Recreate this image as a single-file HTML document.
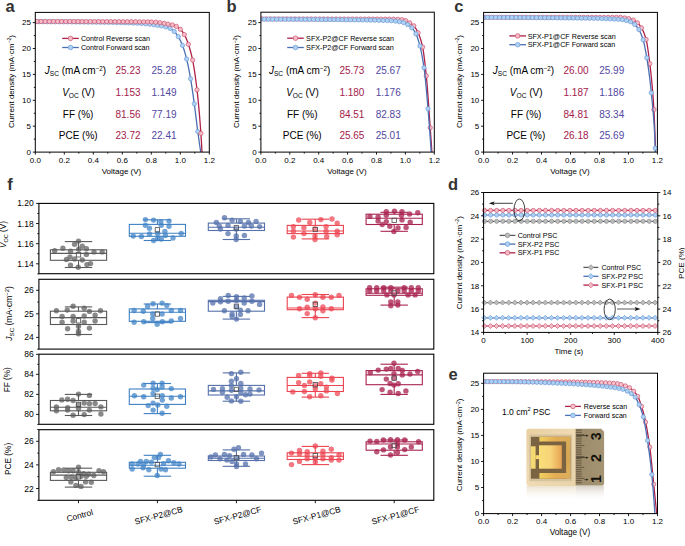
<!DOCTYPE html>
<html><head><meta charset="utf-8"><style>
html,body{margin:0;padding:0;background:#fff;}
svg{display:block;}
text{font-family:"Liberation Sans", sans-serif;}
</style></head><body>
<svg width="685" height="546" viewBox="0 0 685 546">
<rect width="685" height="546" fill="#fff"/>
<clipPath id="cp1"><rect x="35.3" y="12.4" width="174" height="139.7"/></clipPath><g clip-path="url(#cp1)">
<polyline points="35.3,21.7 35.99,21.7 36.69,21.7 37.38,21.7 38.07,21.7 38.76,21.71 39.46,21.71 40.15,21.71 40.84,21.71 41.54,21.71 42.23,21.72 42.92,21.72 43.61,21.72 44.31,21.72 45,21.73 45.69,21.73 46.39,21.73 47.08,21.74 47.77,21.74 48.46,21.74 49.16,21.75 49.85,21.75 50.54,21.75 51.24,21.76 51.93,21.76 52.62,21.77 53.32,21.77 54.01,21.78 54.7,21.78 55.39,21.79 56.09,21.79 56.78,21.8 57.47,21.8 58.17,21.81 58.86,21.81 59.55,21.82 60.24,21.82 60.94,21.83 61.63,21.84 62.32,21.84 63.02,21.85 63.71,21.85 64.4,21.86 65.09,21.87 65.79,21.87 66.48,21.88 67.17,21.89 67.87,21.89 68.56,21.9 69.25,21.91 69.94,21.91 70.64,21.92 71.33,21.93 72.02,21.93 72.72,21.94 73.41,21.95 74.1,21.96 74.79,21.96 75.49,21.97 76.18,21.98 76.87,21.99 77.57,21.99 78.26,22 78.95,22.01 79.64,22.02 80.34,22.03 81.03,22.03 81.72,22.04 82.42,22.05 83.11,22.06 83.8,22.07 84.49,22.07 85.19,22.08 85.88,22.09 86.57,22.1 87.27,22.11 87.96,22.11 88.65,22.12 89.35,22.13 90.04,22.14 90.73,22.15 91.42,22.16 92.12,22.16 92.81,22.17 93.5,22.18 94.2,22.19 94.89,22.2 95.58,22.21 96.27,22.22 96.97,22.22 97.66,22.23 98.35,22.24 99.05,22.25 99.74,22.26 100.43,22.27 101.12,22.28 101.82,22.29 102.51,22.3 103.2,22.31 103.9,22.32 104.59,22.33 105.28,22.34 105.97,22.35 106.67,22.36 107.36,22.38 108.05,22.39 108.75,22.4 109.44,22.41 110.13,22.42 110.82,22.44 111.52,22.45 112.21,22.46 112.9,22.48 113.6,22.49 114.29,22.5 114.98,22.52 115.67,22.53 116.37,22.55 117.06,22.56 117.75,22.58 118.45,22.59 119.14,22.61 119.83,22.62 120.53,22.64 121.22,22.66 121.91,22.67 122.6,22.69 123.3,22.71 123.99,22.73 124.68,22.75 125.38,22.77 126.07,22.78 126.76,22.8 127.45,22.82 128.15,22.84 128.84,22.86 129.53,22.89 130.23,22.91 130.92,22.93 131.61,22.95 132.3,22.98 133,23.01 133.69,23.03 134.38,23.06 135.08,23.09 135.77,23.13 136.46,23.16 137.15,23.19 137.85,23.23 138.54,23.27 139.23,23.31 139.93,23.35 140.62,23.39 141.31,23.44 142,23.48 142.7,23.53 143.39,23.58 144.08,23.63 144.78,23.68 145.47,23.74 146.16,23.8 146.85,23.88 147.55,23.96 148.24,24.04 148.93,24.13 149.63,24.22 150.32,24.32 151.01,24.42 151.71,24.52 152.4,24.61 153.09,24.71 153.78,24.8 154.48,24.89 155.17,24.97 155.86,25.06 156.56,25.16 157.25,25.25 157.94,25.35 158.63,25.45 159.33,25.56 160.02,25.67 160.71,25.78 161.41,25.9 162.1,26.03 162.79,26.15 163.48,26.29 164.18,26.43 164.87,26.59 165.56,26.76 166.26,26.96 166.95,27.17 167.64,27.4 168.33,27.66 169.03,27.95 169.72,28.26 170.41,28.62 171.11,29.03 171.8,29.5 172.49,30.02 173.18,30.59 173.88,31.2 174.57,31.86 175.26,32.59 175.96,33.4 176.65,34.29 177.34,35.26 178.03,36.29 178.73,37.39 179.42,38.61 180.11,39.95 180.81,41.4 181.5,42.96 182.19,44.62 182.88,46.41 183.58,48.39 184.27,50.55 184.96,52.88 185.66,55.37 186.35,58.01 187.04,60.81 187.74,63.87 188.43,67.17 189.12,70.69 189.81,74.39 190.51,78.27 191.2,82.37 191.89,86.81 192.59,91.5 193.28,96.39 193.97,101.4 194.66,106.52 195.36,111.97 196.05,117.63 196.74,123.31 197.44,128.82 198.13,134.04 198.82,139.08 199.51,144 200.21,148.78 200.9,153.43" fill="none" stroke="#4a6fb2" stroke-width="1.3" stroke-linejoin="round"/>
<circle cx="35" cy="21.7" r="2.15" fill="#aed2f4" stroke="#6f9bd6" stroke-width="0.7"/>
<circle cx="39.09" cy="21.71" r="2.15" fill="#aed2f4" stroke="#6f9bd6" stroke-width="0.7"/>
<circle cx="43.19" cy="21.72" r="2.15" fill="#aed2f4" stroke="#6f9bd6" stroke-width="0.7"/>
<circle cx="47.28" cy="21.74" r="2.15" fill="#aed2f4" stroke="#6f9bd6" stroke-width="0.7"/>
<circle cx="51.38" cy="21.76" r="2.15" fill="#aed2f4" stroke="#6f9bd6" stroke-width="0.7"/>
<circle cx="55.47" cy="21.79" r="2.15" fill="#aed2f4" stroke="#6f9bd6" stroke-width="0.7"/>
<circle cx="59.57" cy="21.82" r="2.15" fill="#aed2f4" stroke="#6f9bd6" stroke-width="0.7"/>
<circle cx="63.66" cy="21.85" r="2.15" fill="#aed2f4" stroke="#6f9bd6" stroke-width="0.7"/>
<circle cx="67.76" cy="21.89" r="2.15" fill="#aed2f4" stroke="#6f9bd6" stroke-width="0.7"/>
<circle cx="71.85" cy="21.93" r="2.15" fill="#aed2f4" stroke="#6f9bd6" stroke-width="0.7"/>
<circle cx="75.95" cy="21.98" r="2.15" fill="#aed2f4" stroke="#6f9bd6" stroke-width="0.7"/>
<circle cx="80.04" cy="22.02" r="2.15" fill="#aed2f4" stroke="#6f9bd6" stroke-width="0.7"/>
<circle cx="84.14" cy="22.07" r="2.15" fill="#aed2f4" stroke="#6f9bd6" stroke-width="0.7"/>
<circle cx="88.23" cy="22.12" r="2.15" fill="#aed2f4" stroke="#6f9bd6" stroke-width="0.7"/>
<circle cx="92.33" cy="22.17" r="2.15" fill="#aed2f4" stroke="#6f9bd6" stroke-width="0.7"/>
<circle cx="96.42" cy="22.22" r="2.15" fill="#aed2f4" stroke="#6f9bd6" stroke-width="0.7"/>
<circle cx="100.52" cy="22.27" r="2.15" fill="#aed2f4" stroke="#6f9bd6" stroke-width="0.7"/>
<circle cx="104.61" cy="22.33" r="2.15" fill="#aed2f4" stroke="#6f9bd6" stroke-width="0.7"/>
<circle cx="108.71" cy="22.4" r="2.15" fill="#aed2f4" stroke="#6f9bd6" stroke-width="0.7"/>
<circle cx="112.8" cy="22.47" r="2.15" fill="#aed2f4" stroke="#6f9bd6" stroke-width="0.7"/>
<circle cx="116.9" cy="22.56" r="2.15" fill="#aed2f4" stroke="#6f9bd6" stroke-width="0.7"/>
<circle cx="120.99" cy="22.65" r="2.15" fill="#aed2f4" stroke="#6f9bd6" stroke-width="0.7"/>
<circle cx="125.09" cy="22.76" r="2.15" fill="#aed2f4" stroke="#6f9bd6" stroke-width="0.7"/>
<circle cx="129.18" cy="22.88" r="2.15" fill="#aed2f4" stroke="#6f9bd6" stroke-width="0.7"/>
<circle cx="133.28" cy="23.02" r="2.15" fill="#aed2f4" stroke="#6f9bd6" stroke-width="0.7"/>
<circle cx="137.37" cy="23.21" r="2.15" fill="#aed2f4" stroke="#6f9bd6" stroke-width="0.7"/>
<circle cx="141.47" cy="23.45" r="2.15" fill="#aed2f4" stroke="#6f9bd6" stroke-width="0.7"/>
<circle cx="145.56" cy="23.75" r="2.15" fill="#aed2f4" stroke="#6f9bd6" stroke-width="0.7"/>
<circle cx="149.66" cy="24.23" r="2.15" fill="#aed2f4" stroke="#6f9bd6" stroke-width="0.7"/>
<circle cx="153.8" cy="24.8" r="2.15" fill="#aed2f4" stroke="#6f9bd6" stroke-width="0.7"/>
<circle cx="157.6" cy="25.3" r="2.15" fill="#aed2f4" stroke="#6f9bd6" stroke-width="0.7"/>
<circle cx="161.4" cy="25.9" r="2.15" fill="#aed2f4" stroke="#6f9bd6" stroke-width="0.7"/>
<circle cx="165.7" cy="26.8" r="2.15" fill="#aed2f4" stroke="#6f9bd6" stroke-width="0.7"/>
<circle cx="170" cy="28.4" r="2.15" fill="#aed2f4" stroke="#6f9bd6" stroke-width="0.7"/>
<circle cx="174.2" cy="31.5" r="2.15" fill="#aed2f4" stroke="#6f9bd6" stroke-width="0.7"/>
<circle cx="178.3" cy="36.7" r="2.15" fill="#aed2f4" stroke="#6f9bd6" stroke-width="0.7"/>
<circle cx="182.5" cy="45.4" r="2.15" fill="#aed2f4" stroke="#6f9bd6" stroke-width="0.7"/>
<circle cx="186.6" cy="59" r="2.15" fill="#aed2f4" stroke="#6f9bd6" stroke-width="0.7"/>
<circle cx="190.6" cy="78.8" r="2.15" fill="#aed2f4" stroke="#6f9bd6" stroke-width="0.7"/>
<circle cx="194.3" cy="103.8" r="2.15" fill="#aed2f4" stroke="#6f9bd6" stroke-width="0.7"/>
<circle cx="197.8" cy="131.6" r="2.15" fill="#aed2f4" stroke="#6f9bd6" stroke-width="0.7"/>
<polyline points="35.3,21.5 36,21.5 36.7,21.5 37.39,21.5 38.09,21.5 38.79,21.5 39.49,21.5 40.19,21.5 40.88,21.5 41.58,21.5 42.28,21.5 42.98,21.5 43.67,21.5 44.37,21.5 45.07,21.5 45.77,21.5 46.47,21.5 47.16,21.5 47.86,21.51 48.56,21.51 49.26,21.51 49.96,21.51 50.65,21.51 51.35,21.51 52.05,21.51 52.75,21.51 53.45,21.51 54.14,21.51 54.84,21.51 55.54,21.51 56.24,21.51 56.94,21.51 57.63,21.52 58.33,21.52 59.03,21.52 59.73,21.52 60.42,21.52 61.12,21.52 61.82,21.52 62.52,21.52 63.22,21.52 63.91,21.52 64.61,21.53 65.31,21.53 66.01,21.53 66.71,21.53 67.4,21.53 68.1,21.53 68.8,21.53 69.5,21.53 70.2,21.53 70.89,21.54 71.59,21.54 72.29,21.54 72.99,21.54 73.68,21.54 74.38,21.54 75.08,21.54 75.78,21.55 76.48,21.55 77.17,21.55 77.87,21.55 78.57,21.55 79.27,21.55 79.97,21.55 80.66,21.56 81.36,21.56 82.06,21.56 82.76,21.56 83.46,21.56 84.15,21.56 84.85,21.56 85.55,21.57 86.25,21.57 86.95,21.57 87.64,21.57 88.34,21.57 89.04,21.57 89.74,21.58 90.43,21.58 91.13,21.58 91.83,21.58 92.53,21.58 93.23,21.58 93.92,21.59 94.62,21.59 95.32,21.59 96.02,21.59 96.72,21.59 97.41,21.59 98.11,21.6 98.81,21.6 99.51,21.6 100.21,21.6 100.9,21.6 101.6,21.6 102.3,21.61 103,21.61 103.69,21.61 104.39,21.61 105.09,21.61 105.79,21.62 106.49,21.62 107.18,21.62 107.88,21.62 108.58,21.62 109.28,21.63 109.98,21.63 110.67,21.63 111.37,21.63 112.07,21.64 112.77,21.64 113.47,21.64 114.16,21.64 114.86,21.65 115.56,21.65 116.26,21.65 116.96,21.66 117.65,21.66 118.35,21.66 119.05,21.66 119.75,21.67 120.44,21.67 121.14,21.67 121.84,21.68 122.54,21.68 123.24,21.69 123.93,21.69 124.63,21.69 125.33,21.7 126.03,21.7 126.73,21.7 127.42,21.71 128.12,21.71 128.82,21.72 129.52,21.72 130.22,21.73 130.91,21.73 131.61,21.74 132.31,21.74 133.01,21.74 133.71,21.75 134.4,21.76 135.1,21.76 135.8,21.77 136.5,21.77 137.19,21.78 137.89,21.78 138.59,21.79 139.29,21.79 139.99,21.8 140.68,21.81 141.38,21.81 142.08,21.82 142.78,21.83 143.48,21.84 144.17,21.85 144.87,21.86 145.57,21.87 146.27,21.88 146.97,21.9 147.66,21.91 148.36,21.93 149.06,21.94 149.76,21.96 150.45,21.97 151.15,21.99 151.85,22.01 152.55,22.04 153.25,22.07 153.94,22.1 154.64,22.14 155.34,22.18 156.04,22.22 156.74,22.29 157.43,22.36 158.13,22.45 158.83,22.54 159.53,22.63 160.23,22.73 160.92,22.84 161.62,22.95 162.32,23.07 163.02,23.19 163.72,23.31 164.41,23.44 165.11,23.56 165.81,23.69 166.51,23.82 167.2,23.95 167.9,24.08 168.6,24.21 169.3,24.32 170,24.44 170.69,24.56 171.39,24.7 172.09,24.85 172.79,25.03 173.49,25.23 174.18,25.46 174.88,25.73 175.58,26.02 176.28,26.34 176.98,26.71 177.67,27.14 178.37,27.64 179.07,28.2 179.77,28.81 180.46,29.46 181.16,30.19 181.86,31.01 182.56,31.92 183.26,32.93 183.95,34.02 184.65,35.22 185.35,36.59 186.05,38.12 186.75,39.81 187.44,41.62 188.14,43.56 188.84,45.61 189.54,47.82 190.24,50.23 190.93,52.85 191.63,55.7 192.33,58.82 193.03,62.25 193.73,66.13 194.42,70.44 195.12,75.17 195.82,80.3 196.52,85.79 197.21,91.65 197.91,98.08 198.61,105.18 199.31,112.97 200.01,121.47 200.7,130.68 201.4,141.34 202.1,153.92" fill="none" stroke="#ae2149" stroke-width="1.3" stroke-linejoin="round"/>
<circle cx="32.95" cy="21.5" r="2.15" fill="#f6bcc6" stroke="#cc5572" stroke-width="0.7"/>
<circle cx="37.05" cy="21.5" r="2.15" fill="#f6bcc6" stroke="#cc5572" stroke-width="0.7"/>
<circle cx="41.15" cy="21.5" r="2.15" fill="#f6bcc6" stroke="#cc5572" stroke-width="0.7"/>
<circle cx="45.25" cy="21.5" r="2.15" fill="#f6bcc6" stroke="#cc5572" stroke-width="0.7"/>
<circle cx="49.35" cy="21.51" r="2.15" fill="#f6bcc6" stroke="#cc5572" stroke-width="0.7"/>
<circle cx="53.45" cy="21.51" r="2.15" fill="#f6bcc6" stroke="#cc5572" stroke-width="0.7"/>
<circle cx="57.55" cy="21.51" r="2.15" fill="#f6bcc6" stroke="#cc5572" stroke-width="0.7"/>
<circle cx="61.65" cy="21.52" r="2.15" fill="#f6bcc6" stroke="#cc5572" stroke-width="0.7"/>
<circle cx="65.75" cy="21.53" r="2.15" fill="#f6bcc6" stroke="#cc5572" stroke-width="0.7"/>
<circle cx="69.85" cy="21.53" r="2.15" fill="#f6bcc6" stroke="#cc5572" stroke-width="0.7"/>
<circle cx="73.95" cy="21.54" r="2.15" fill="#f6bcc6" stroke="#cc5572" stroke-width="0.7"/>
<circle cx="78.05" cy="21.55" r="2.15" fill="#f6bcc6" stroke="#cc5572" stroke-width="0.7"/>
<circle cx="82.15" cy="21.56" r="2.15" fill="#f6bcc6" stroke="#cc5572" stroke-width="0.7"/>
<circle cx="86.25" cy="21.57" r="2.15" fill="#f6bcc6" stroke="#cc5572" stroke-width="0.7"/>
<circle cx="90.35" cy="21.58" r="2.15" fill="#f6bcc6" stroke="#cc5572" stroke-width="0.7"/>
<circle cx="94.45" cy="21.59" r="2.15" fill="#f6bcc6" stroke="#cc5572" stroke-width="0.7"/>
<circle cx="98.55" cy="21.6" r="2.15" fill="#f6bcc6" stroke="#cc5572" stroke-width="0.7"/>
<circle cx="102.65" cy="21.61" r="2.15" fill="#f6bcc6" stroke="#cc5572" stroke-width="0.7"/>
<circle cx="106.75" cy="21.62" r="2.15" fill="#f6bcc6" stroke="#cc5572" stroke-width="0.7"/>
<circle cx="110.85" cy="21.63" r="2.15" fill="#f6bcc6" stroke="#cc5572" stroke-width="0.7"/>
<circle cx="114.95" cy="21.65" r="2.15" fill="#f6bcc6" stroke="#cc5572" stroke-width="0.7"/>
<circle cx="119.05" cy="21.66" r="2.15" fill="#f6bcc6" stroke="#cc5572" stroke-width="0.7"/>
<circle cx="123.15" cy="21.68" r="2.15" fill="#f6bcc6" stroke="#cc5572" stroke-width="0.7"/>
<circle cx="127.25" cy="21.71" r="2.15" fill="#f6bcc6" stroke="#cc5572" stroke-width="0.7"/>
<circle cx="131.35" cy="21.73" r="2.15" fill="#f6bcc6" stroke="#cc5572" stroke-width="0.7"/>
<circle cx="135.45" cy="21.76" r="2.15" fill="#f6bcc6" stroke="#cc5572" stroke-width="0.7"/>
<circle cx="139.55" cy="21.8" r="2.15" fill="#f6bcc6" stroke="#cc5572" stroke-width="0.7"/>
<circle cx="143.65" cy="21.84" r="2.15" fill="#f6bcc6" stroke="#cc5572" stroke-width="0.7"/>
<circle cx="147.75" cy="21.91" r="2.15" fill="#f6bcc6" stroke="#cc5572" stroke-width="0.7"/>
<circle cx="151.4" cy="22" r="2.15" fill="#f6bcc6" stroke="#cc5572" stroke-width="0.7"/>
<circle cx="155.7" cy="22.2" r="2.15" fill="#f6bcc6" stroke="#cc5572" stroke-width="0.7"/>
<circle cx="160" cy="22.7" r="2.15" fill="#f6bcc6" stroke="#cc5572" stroke-width="0.7"/>
<circle cx="164.2" cy="23.4" r="2.15" fill="#f6bcc6" stroke="#cc5572" stroke-width="0.7"/>
<circle cx="168" cy="24.1" r="2.15" fill="#f6bcc6" stroke="#cc5572" stroke-width="0.7"/>
<circle cx="172.3" cy="24.9" r="2.15" fill="#f6bcc6" stroke="#cc5572" stroke-width="0.7"/>
<circle cx="176.4" cy="26.4" r="2.15" fill="#f6bcc6" stroke="#cc5572" stroke-width="0.7"/>
<circle cx="180.4" cy="29.4" r="2.15" fill="#f6bcc6" stroke="#cc5572" stroke-width="0.7"/>
<circle cx="184.3" cy="34.6" r="2.15" fill="#f6bcc6" stroke="#cc5572" stroke-width="0.7"/>
<circle cx="188.4" cy="44.3" r="2.15" fill="#f6bcc6" stroke="#cc5572" stroke-width="0.7"/>
<circle cx="192.6" cy="60.1" r="2.15" fill="#f6bcc6" stroke="#cc5572" stroke-width="0.7"/>
<circle cx="197" cy="89.8" r="2.15" fill="#f6bcc6" stroke="#cc5572" stroke-width="0.7"/>
<circle cx="200.9" cy="133.4" r="2.15" fill="#f6bcc6" stroke="#cc5572" stroke-width="0.7"/>
</g>
<rect x="35.3" y="12.4" width="174" height="139.7" fill="none" stroke="#000" stroke-width="1"/>
<line x1="35.3" y1="152.1" x2="35.3" y2="154.6" stroke="#000" stroke-width="0.9"/>
<text x="35.3" y="162.9" font-size="8" text-anchor="middle" fill="#000" font-weight="normal">0.0</text>
<line x1="49.8" y1="152.1" x2="49.8" y2="153.6" stroke="#000" stroke-width="0.9"/>
<line x1="64.3" y1="152.1" x2="64.3" y2="154.6" stroke="#000" stroke-width="0.9"/>
<text x="64.3" y="162.9" font-size="8" text-anchor="middle" fill="#000" font-weight="normal">0.2</text>
<line x1="78.8" y1="152.1" x2="78.8" y2="153.6" stroke="#000" stroke-width="0.9"/>
<line x1="93.3" y1="152.1" x2="93.3" y2="154.6" stroke="#000" stroke-width="0.9"/>
<text x="93.3" y="162.9" font-size="8" text-anchor="middle" fill="#000" font-weight="normal">0.4</text>
<line x1="107.8" y1="152.1" x2="107.8" y2="153.6" stroke="#000" stroke-width="0.9"/>
<line x1="122.3" y1="152.1" x2="122.3" y2="154.6" stroke="#000" stroke-width="0.9"/>
<text x="122.3" y="162.9" font-size="8" text-anchor="middle" fill="#000" font-weight="normal">0.6</text>
<line x1="136.8" y1="152.1" x2="136.8" y2="153.6" stroke="#000" stroke-width="0.9"/>
<line x1="151.3" y1="152.1" x2="151.3" y2="154.6" stroke="#000" stroke-width="0.9"/>
<text x="151.3" y="162.9" font-size="8" text-anchor="middle" fill="#000" font-weight="normal">0.8</text>
<line x1="165.8" y1="152.1" x2="165.8" y2="153.6" stroke="#000" stroke-width="0.9"/>
<line x1="180.3" y1="152.1" x2="180.3" y2="154.6" stroke="#000" stroke-width="0.9"/>
<text x="180.3" y="162.9" font-size="8" text-anchor="middle" fill="#000" font-weight="normal">1.0</text>
<line x1="194.8" y1="152.1" x2="194.8" y2="153.6" stroke="#000" stroke-width="0.9"/>
<line x1="209.3" y1="152.1" x2="209.3" y2="154.6" stroke="#000" stroke-width="0.9"/>
<text x="209.3" y="162.9" font-size="8" text-anchor="middle" fill="#000" font-weight="normal">1.2</text>
<line x1="32.8" y1="152.1" x2="35.3" y2="152.1" stroke="#000" stroke-width="0.9"/>
<text x="31" y="154.95" font-size="8" text-anchor="end" fill="#000" font-weight="normal">0</text>
<line x1="33.8" y1="139.15" x2="35.3" y2="139.15" stroke="#000" stroke-width="0.9"/>
<line x1="32.8" y1="126.2" x2="35.3" y2="126.2" stroke="#000" stroke-width="0.9"/>
<text x="31" y="129.05" font-size="8" text-anchor="end" fill="#000" font-weight="normal">5</text>
<line x1="33.8" y1="113.25" x2="35.3" y2="113.25" stroke="#000" stroke-width="0.9"/>
<line x1="32.8" y1="100.3" x2="35.3" y2="100.3" stroke="#000" stroke-width="0.9"/>
<text x="31" y="103.15" font-size="8" text-anchor="end" fill="#000" font-weight="normal">10</text>
<line x1="33.8" y1="87.35" x2="35.3" y2="87.35" stroke="#000" stroke-width="0.9"/>
<line x1="32.8" y1="74.4" x2="35.3" y2="74.4" stroke="#000" stroke-width="0.9"/>
<text x="31" y="77.25" font-size="8" text-anchor="end" fill="#000" font-weight="normal">15</text>
<line x1="33.8" y1="61.45" x2="35.3" y2="61.45" stroke="#000" stroke-width="0.9"/>
<line x1="32.8" y1="48.5" x2="35.3" y2="48.5" stroke="#000" stroke-width="0.9"/>
<text x="31" y="51.35" font-size="8" text-anchor="end" fill="#000" font-weight="normal">20</text>
<line x1="33.8" y1="35.55" x2="35.3" y2="35.55" stroke="#000" stroke-width="0.9"/>
<line x1="32.8" y1="22.6" x2="35.3" y2="22.6" stroke="#000" stroke-width="0.9"/>
<text x="31" y="25.45" font-size="8" text-anchor="end" fill="#000" font-weight="normal">25</text>
<text x="121.5" y="174.4" font-size="8" text-anchor="middle" fill="#000" font-weight="normal">Voltage (V)</text>
<text x="13.8" y="81.5" font-size="8" text-anchor="middle" transform="rotate(-90 13.8 81.5)">Current density (mA&#183;cm<tspan dy="-2.6" font-size="5.2">&#8722;2</tspan><tspan dy="2.6">)</tspan></text>
<line x1="62.2" y1="38.4" x2="78.8" y2="38.4" stroke="#ae2149" stroke-width="1.3"/>
<circle cx="70.5" cy="38.4" r="2.3" fill="#f6bcc6" stroke="#cc5572" stroke-width="0.7"/>
<text x="80.9" y="41" font-size="7.2" text-anchor="start" fill="#000" font-weight="normal">Control Reverse scan</text>
<line x1="62.2" y1="47.5" x2="78.8" y2="47.5" stroke="#4a6fb2" stroke-width="1.3"/>
<circle cx="70.5" cy="47.5" r="2.3" fill="#aed2f4" stroke="#6f9bd6" stroke-width="0.7"/>
<text x="80.9" y="50.1" font-size="7.2" text-anchor="start" fill="#000" font-weight="normal">Control Forward scan</text>
<text x="75.5" y="74.3" font-size="10" text-anchor="middle" fill="#000" font-weight="normal"><tspan font-style="italic">J</tspan><tspan font-size="6.6" dy="1.8">SC</tspan><tspan dy="-1.8"> (mA cm</tspan><tspan font-size="6.3" dy="-3.6">&#8722;2</tspan><tspan dy="3.6">)</tspan></text>
<text x="115.5" y="74.3" font-size="10" text-anchor="start" fill="#a3214b" font-weight="normal">25.23</text>
<text x="151.5" y="74.3" font-size="10" text-anchor="start" fill="#5248a0" font-weight="normal">25.28</text>
<text x="78.5" y="96" font-size="10" text-anchor="middle" fill="#000" font-weight="normal"><tspan font-style="italic">V</tspan><tspan font-size="6.6" dy="1.8">OC</tspan><tspan dy="-1.8"> (V)</tspan></text>
<text x="115.5" y="96" font-size="10" text-anchor="start" fill="#a3214b" font-weight="normal">1.153</text>
<text x="151.5" y="96" font-size="10" text-anchor="start" fill="#5248a0" font-weight="normal">1.149</text>
<text x="78.1" y="117.6" font-size="10" text-anchor="middle" fill="#000" font-weight="normal">FF (%)</text>
<text x="115.5" y="117.6" font-size="10" text-anchor="start" fill="#a3214b" font-weight="normal">81.56</text>
<text x="151.5" y="117.6" font-size="10" text-anchor="start" fill="#5248a0" font-weight="normal">77.19</text>
<text x="78.2" y="139" font-size="10" text-anchor="middle" fill="#000" font-weight="normal">PCE (%)</text>
<text x="115.5" y="139" font-size="10" text-anchor="start" fill="#a3214b" font-weight="normal">23.72</text>
<text x="151.5" y="139" font-size="10" text-anchor="start" fill="#5248a0" font-weight="normal">22.41</text>
<text x="5.6" y="11.8" font-size="16.5" text-anchor="start" fill="#333333" font-weight="bold">a</text>
<clipPath id="cp2"><rect x="260.9" y="12.2" width="173.4" height="139.9"/></clipPath><g clip-path="url(#cp2)">
<polyline points="260.9,18.9 261.62,18.9 262.33,18.9 263.05,18.9 263.76,18.9 264.48,18.9 265.19,18.9 265.91,18.91 266.62,18.91 267.34,18.91 268.05,18.91 268.77,18.91 269.49,18.91 270.2,18.91 270.92,18.91 271.63,18.91 272.35,18.91 273.06,18.91 273.78,18.92 274.49,18.92 275.21,18.92 275.93,18.92 276.64,18.92 277.36,18.92 278.07,18.92 278.79,18.92 279.5,18.92 280.22,18.92 280.93,18.92 281.65,18.93 282.36,18.93 283.08,18.93 283.8,18.93 284.51,18.93 285.23,18.93 285.94,18.93 286.66,18.93 287.37,18.93 288.09,18.93 288.8,18.94 289.52,18.94 290.23,18.94 290.95,18.94 291.67,18.94 292.38,18.94 293.1,18.94 293.81,18.94 294.53,18.94 295.24,18.94 295.96,18.95 296.67,18.95 297.39,18.95 298.11,18.95 298.82,18.95 299.54,18.95 300.25,18.95 300.97,18.95 301.68,18.95 302.4,18.96 303.11,18.96 303.83,18.96 304.54,18.96 305.26,18.96 305.98,18.96 306.69,18.96 307.41,18.96 308.12,18.96 308.84,18.97 309.55,18.97 310.27,18.97 310.98,18.97 311.7,18.97 312.41,18.97 313.13,18.97 313.85,18.97 314.56,18.97 315.28,18.98 315.99,18.98 316.71,18.98 317.42,18.98 318.14,18.98 318.85,18.98 319.57,18.98 320.28,18.98 321,18.98 321.72,18.99 322.43,18.99 323.15,18.99 323.86,18.99 324.58,18.99 325.29,18.99 326.01,18.99 326.72,18.99 327.44,19 328.16,19 328.87,19 329.59,19 330.3,19 331.02,19 331.73,19 332.45,19 333.16,19.01 333.88,19.01 334.59,19.01 335.31,19.01 336.03,19.01 336.74,19.01 337.46,19.01 338.17,19.01 338.89,19.01 339.6,19.01 340.32,19.02 341.03,19.02 341.75,19.02 342.46,19.02 343.18,19.02 343.9,19.02 344.61,19.02 345.33,19.02 346.04,19.02 346.76,19.02 347.47,19.03 348.19,19.03 348.9,19.03 349.62,19.03 350.34,19.03 351.05,19.03 351.77,19.03 352.48,19.03 353.2,19.03 353.91,19.03 354.63,19.04 355.34,19.04 356.06,19.04 356.77,19.04 357.49,19.04 358.21,19.04 358.92,19.04 359.64,19.04 360.35,19.05 361.07,19.05 361.78,19.05 362.5,19.05 363.21,19.05 363.93,19.05 364.64,19.05 365.36,19.06 366.08,19.06 366.79,19.06 367.51,19.06 368.22,19.06 368.94,19.07 369.65,19.07 370.37,19.07 371.08,19.07 371.8,19.07 372.52,19.07 373.23,19.08 373.95,19.08 374.66,19.08 375.38,19.08 376.09,19.09 376.81,19.09 377.52,19.09 378.24,19.09 378.95,19.1 379.67,19.1 380.39,19.1 381.1,19.1 381.82,19.11 382.53,19.11 383.25,19.11 383.96,19.12 384.68,19.12 385.39,19.13 386.11,19.13 386.82,19.14 387.54,19.14 388.26,19.15 388.97,19.16 389.69,19.16 390.4,19.17 391.12,19.18 391.83,19.19 392.55,19.2 393.26,19.21 393.98,19.22 394.69,19.23 395.41,19.25 396.13,19.26 396.84,19.28 397.56,19.29 398.27,19.32 398.99,19.36 399.7,19.43 400.42,19.51 401.13,19.61 401.85,19.71 402.57,19.83 403.28,20 404,20.19 404.71,20.4 405.43,20.64 406.14,20.9 406.86,21.22 407.57,21.58 408.29,21.97 409,22.38 409.72,22.81 410.44,23.24 411.15,23.69 411.87,24.17 412.58,24.71 413.3,25.32 414.01,26.02 414.73,26.88 415.44,27.88 416.16,29.04 416.87,30.32 417.59,31.73 418.31,33.25 419.02,34.92 419.74,36.79 420.45,38.91 421.17,41.3 421.88,44.02 422.6,47.09 423.31,50.93 424.03,55.79 424.75,61.48 425.46,67.81 426.18,74.59 426.89,82.13 427.61,90.99 428.32,100.77 429.04,111.05 429.75,121.4 430.47,131.46 431.18,141.67 431.9,152.1" fill="none" stroke="#ae2149" stroke-width="1.3" stroke-linejoin="round"/>
<circle cx="258.1" cy="18.9" r="2.15" fill="#f6bcc6" stroke="#cc5572" stroke-width="0.7"/>
<circle cx="262.2" cy="18.9" r="2.15" fill="#f6bcc6" stroke="#cc5572" stroke-width="0.7"/>
<circle cx="266.3" cy="18.91" r="2.15" fill="#f6bcc6" stroke="#cc5572" stroke-width="0.7"/>
<circle cx="270.4" cy="18.91" r="2.15" fill="#f6bcc6" stroke="#cc5572" stroke-width="0.7"/>
<circle cx="274.5" cy="18.92" r="2.15" fill="#f6bcc6" stroke="#cc5572" stroke-width="0.7"/>
<circle cx="278.6" cy="18.92" r="2.15" fill="#f6bcc6" stroke="#cc5572" stroke-width="0.7"/>
<circle cx="282.7" cy="18.93" r="2.15" fill="#f6bcc6" stroke="#cc5572" stroke-width="0.7"/>
<circle cx="286.8" cy="18.93" r="2.15" fill="#f6bcc6" stroke="#cc5572" stroke-width="0.7"/>
<circle cx="290.9" cy="18.94" r="2.15" fill="#f6bcc6" stroke="#cc5572" stroke-width="0.7"/>
<circle cx="295" cy="18.94" r="2.15" fill="#f6bcc6" stroke="#cc5572" stroke-width="0.7"/>
<circle cx="299.1" cy="18.95" r="2.15" fill="#f6bcc6" stroke="#cc5572" stroke-width="0.7"/>
<circle cx="303.2" cy="18.96" r="2.15" fill="#f6bcc6" stroke="#cc5572" stroke-width="0.7"/>
<circle cx="307.3" cy="18.96" r="2.15" fill="#f6bcc6" stroke="#cc5572" stroke-width="0.7"/>
<circle cx="311.4" cy="18.97" r="2.15" fill="#f6bcc6" stroke="#cc5572" stroke-width="0.7"/>
<circle cx="315.5" cy="18.98" r="2.15" fill="#f6bcc6" stroke="#cc5572" stroke-width="0.7"/>
<circle cx="319.6" cy="18.98" r="2.15" fill="#f6bcc6" stroke="#cc5572" stroke-width="0.7"/>
<circle cx="323.7" cy="18.99" r="2.15" fill="#f6bcc6" stroke="#cc5572" stroke-width="0.7"/>
<circle cx="327.8" cy="19" r="2.15" fill="#f6bcc6" stroke="#cc5572" stroke-width="0.7"/>
<circle cx="331.9" cy="19" r="2.15" fill="#f6bcc6" stroke="#cc5572" stroke-width="0.7"/>
<circle cx="336" cy="19.01" r="2.15" fill="#f6bcc6" stroke="#cc5572" stroke-width="0.7"/>
<circle cx="340.1" cy="19.02" r="2.15" fill="#f6bcc6" stroke="#cc5572" stroke-width="0.7"/>
<circle cx="344.2" cy="19.02" r="2.15" fill="#f6bcc6" stroke="#cc5572" stroke-width="0.7"/>
<circle cx="348.3" cy="19.03" r="2.15" fill="#f6bcc6" stroke="#cc5572" stroke-width="0.7"/>
<circle cx="352.4" cy="19.03" r="2.15" fill="#f6bcc6" stroke="#cc5572" stroke-width="0.7"/>
<circle cx="356.5" cy="19.04" r="2.15" fill="#f6bcc6" stroke="#cc5572" stroke-width="0.7"/>
<circle cx="360.6" cy="19.05" r="2.15" fill="#f6bcc6" stroke="#cc5572" stroke-width="0.7"/>
<circle cx="364.7" cy="19.06" r="2.15" fill="#f6bcc6" stroke="#cc5572" stroke-width="0.7"/>
<circle cx="368.8" cy="19.06" r="2.15" fill="#f6bcc6" stroke="#cc5572" stroke-width="0.7"/>
<circle cx="372.9" cy="19.08" r="2.15" fill="#f6bcc6" stroke="#cc5572" stroke-width="0.7"/>
<circle cx="377" cy="19.09" r="2.15" fill="#f6bcc6" stroke="#cc5572" stroke-width="0.7"/>
<circle cx="381.1" cy="19.1" r="2.15" fill="#f6bcc6" stroke="#cc5572" stroke-width="0.7"/>
<circle cx="385.2" cy="19.13" r="2.15" fill="#f6bcc6" stroke="#cc5572" stroke-width="0.7"/>
<circle cx="389.3" cy="19.16" r="2.15" fill="#f6bcc6" stroke="#cc5572" stroke-width="0.7"/>
<circle cx="393.4" cy="19.21" r="2.15" fill="#f6bcc6" stroke="#cc5572" stroke-width="0.7"/>
<circle cx="397.8" cy="19.3" r="2.15" fill="#f6bcc6" stroke="#cc5572" stroke-width="0.7"/>
<circle cx="401.8" cy="19.7" r="2.15" fill="#f6bcc6" stroke="#cc5572" stroke-width="0.7"/>
<circle cx="405.6" cy="20.7" r="2.15" fill="#f6bcc6" stroke="#cc5572" stroke-width="0.7"/>
<circle cx="409.7" cy="22.8" r="2.15" fill="#f6bcc6" stroke="#cc5572" stroke-width="0.7"/>
<circle cx="413.8" cy="25.8" r="2.15" fill="#f6bcc6" stroke="#cc5572" stroke-width="0.7"/>
<circle cx="418.1" cy="32.8" r="2.15" fill="#f6bcc6" stroke="#cc5572" stroke-width="0.7"/>
<circle cx="422.6" cy="47.1" r="2.15" fill="#f6bcc6" stroke="#cc5572" stroke-width="0.7"/>
<circle cx="426.3" cy="75.8" r="2.15" fill="#f6bcc6" stroke="#cc5572" stroke-width="0.7"/>
<circle cx="430.2" cy="127.7" r="2.15" fill="#f6bcc6" stroke="#cc5572" stroke-width="0.7"/>
<polyline points="260.9,19.2 261.61,19.2 262.33,19.2 263.04,19.2 263.75,19.21 264.46,19.21 265.18,19.21 265.89,19.21 266.6,19.21 267.31,19.21 268.03,19.22 268.74,19.22 269.45,19.22 270.16,19.22 270.88,19.22 271.59,19.23 272.3,19.23 273.01,19.23 273.73,19.23 274.44,19.24 275.15,19.24 275.86,19.24 276.58,19.25 277.29,19.25 278,19.25 278.71,19.25 279.43,19.26 280.14,19.26 280.85,19.26 281.56,19.27 282.28,19.27 282.99,19.27 283.7,19.28 284.41,19.28 285.13,19.29 285.84,19.29 286.55,19.29 287.26,19.3 287.98,19.3 288.69,19.3 289.4,19.31 290.11,19.31 290.83,19.32 291.54,19.32 292.25,19.32 292.96,19.33 293.68,19.33 294.39,19.34 295.1,19.34 295.82,19.35 296.53,19.35 297.24,19.36 297.95,19.36 298.67,19.36 299.38,19.37 300.09,19.37 300.8,19.38 301.52,19.38 302.23,19.39 302.94,19.39 303.65,19.4 304.37,19.4 305.08,19.41 305.79,19.41 306.5,19.42 307.22,19.42 307.93,19.43 308.64,19.43 309.35,19.44 310.07,19.44 310.78,19.45 311.49,19.45 312.2,19.46 312.92,19.47 313.63,19.47 314.34,19.48 315.05,19.48 315.77,19.49 316.48,19.49 317.19,19.5 317.9,19.5 318.62,19.51 319.33,19.51 320.04,19.52 320.75,19.53 321.47,19.53 322.18,19.54 322.89,19.54 323.6,19.55 324.32,19.55 325.03,19.56 325.74,19.57 326.45,19.57 327.17,19.58 327.88,19.58 328.59,19.59 329.31,19.59 330.02,19.6 330.73,19.61 331.44,19.61 332.16,19.62 332.87,19.62 333.58,19.63 334.29,19.64 335.01,19.64 335.72,19.65 336.43,19.65 337.14,19.66 337.86,19.67 338.57,19.67 339.28,19.68 339.99,19.69 340.71,19.69 341.42,19.7 342.13,19.71 342.84,19.71 343.56,19.72 344.27,19.73 344.98,19.74 345.69,19.74 346.41,19.75 347.12,19.76 347.83,19.77 348.54,19.77 349.26,19.78 349.97,19.79 350.68,19.8 351.39,19.81 352.11,19.81 352.82,19.82 353.53,19.83 354.24,19.84 354.96,19.85 355.67,19.86 356.38,19.87 357.09,19.88 357.81,19.89 358.52,19.9 359.23,19.91 359.94,19.92 360.66,19.93 361.37,19.94 362.08,19.95 362.79,19.96 363.51,19.97 364.22,19.99 364.93,20 365.65,20.01 366.36,20.02 367.07,20.03 367.78,20.05 368.5,20.06 369.21,20.07 369.92,20.09 370.63,20.1 371.35,20.12 372.06,20.13 372.77,20.15 373.48,20.17 374.2,20.2 374.91,20.22 375.62,20.24 376.33,20.27 377.05,20.29 377.76,20.32 378.47,20.35 379.18,20.37 379.9,20.4 380.61,20.42 381.32,20.45 382.03,20.47 382.75,20.49 383.46,20.51 384.17,20.53 384.88,20.54 385.6,20.56 386.31,20.57 387.02,20.58 387.73,20.6 388.45,20.61 389.16,20.63 389.87,20.65 390.58,20.67 391.3,20.7 392.01,20.74 392.72,20.79 393.43,20.86 394.15,20.94 394.86,21.02 395.57,21.11 396.28,21.2 397,21.3 397.71,21.41 398.42,21.53 399.14,21.65 399.85,21.78 400.56,21.91 401.27,22.04 401.99,22.19 402.7,22.35 403.41,22.54 404.12,22.78 404.84,23.07 405.55,23.42 406.26,23.81 406.97,24.22 407.69,24.65 408.4,25.09 409.11,25.57 409.82,26.08 410.54,26.64 411.25,27.27 411.96,27.97 412.67,28.77 413.39,29.68 414.1,30.72 414.81,31.88 415.52,33.17 416.24,34.6 416.95,36.3 417.66,38.26 418.37,40.47 419.09,42.89 419.8,45.51 420.51,48.37 421.22,51.56 421.94,55.11 422.65,59.05 423.36,63.41 424.07,68.22 424.79,73.85 425.5,80.56 426.21,88.08 426.92,96.15 427.64,104.52 428.35,113 429.06,122.01 429.77,131.58 430.49,141.63 431.2,152.1" fill="none" stroke="#4a6fb2" stroke-width="1.3" stroke-linejoin="round"/>
<circle cx="260.2" cy="19.2" r="2.15" fill="#aed2f4" stroke="#6f9bd6" stroke-width="0.7"/>
<circle cx="264.3" cy="19.21" r="2.15" fill="#aed2f4" stroke="#6f9bd6" stroke-width="0.7"/>
<circle cx="268.4" cy="19.22" r="2.15" fill="#aed2f4" stroke="#6f9bd6" stroke-width="0.7"/>
<circle cx="272.5" cy="19.23" r="2.15" fill="#aed2f4" stroke="#6f9bd6" stroke-width="0.7"/>
<circle cx="276.6" cy="19.25" r="2.15" fill="#aed2f4" stroke="#6f9bd6" stroke-width="0.7"/>
<circle cx="280.7" cy="19.26" r="2.15" fill="#aed2f4" stroke="#6f9bd6" stroke-width="0.7"/>
<circle cx="284.8" cy="19.28" r="2.15" fill="#aed2f4" stroke="#6f9bd6" stroke-width="0.7"/>
<circle cx="288.9" cy="19.31" r="2.15" fill="#aed2f4" stroke="#6f9bd6" stroke-width="0.7"/>
<circle cx="293" cy="19.33" r="2.15" fill="#aed2f4" stroke="#6f9bd6" stroke-width="0.7"/>
<circle cx="297.1" cy="19.35" r="2.15" fill="#aed2f4" stroke="#6f9bd6" stroke-width="0.7"/>
<circle cx="301.2" cy="19.38" r="2.15" fill="#aed2f4" stroke="#6f9bd6" stroke-width="0.7"/>
<circle cx="305.3" cy="19.41" r="2.15" fill="#aed2f4" stroke="#6f9bd6" stroke-width="0.7"/>
<circle cx="309.4" cy="19.44" r="2.15" fill="#aed2f4" stroke="#6f9bd6" stroke-width="0.7"/>
<circle cx="313.5" cy="19.47" r="2.15" fill="#aed2f4" stroke="#6f9bd6" stroke-width="0.7"/>
<circle cx="317.6" cy="19.5" r="2.15" fill="#aed2f4" stroke="#6f9bd6" stroke-width="0.7"/>
<circle cx="321.7" cy="19.53" r="2.15" fill="#aed2f4" stroke="#6f9bd6" stroke-width="0.7"/>
<circle cx="325.8" cy="19.57" r="2.15" fill="#aed2f4" stroke="#6f9bd6" stroke-width="0.7"/>
<circle cx="329.9" cy="19.6" r="2.15" fill="#aed2f4" stroke="#6f9bd6" stroke-width="0.7"/>
<circle cx="334" cy="19.63" r="2.15" fill="#aed2f4" stroke="#6f9bd6" stroke-width="0.7"/>
<circle cx="338.1" cy="19.67" r="2.15" fill="#aed2f4" stroke="#6f9bd6" stroke-width="0.7"/>
<circle cx="342.2" cy="19.71" r="2.15" fill="#aed2f4" stroke="#6f9bd6" stroke-width="0.7"/>
<circle cx="346.3" cy="19.75" r="2.15" fill="#aed2f4" stroke="#6f9bd6" stroke-width="0.7"/>
<circle cx="350.4" cy="19.79" r="2.15" fill="#aed2f4" stroke="#6f9bd6" stroke-width="0.7"/>
<circle cx="354.5" cy="19.84" r="2.15" fill="#aed2f4" stroke="#6f9bd6" stroke-width="0.7"/>
<circle cx="358.6" cy="19.9" r="2.15" fill="#aed2f4" stroke="#6f9bd6" stroke-width="0.7"/>
<circle cx="362.7" cy="19.96" r="2.15" fill="#aed2f4" stroke="#6f9bd6" stroke-width="0.7"/>
<circle cx="366.8" cy="20.03" r="2.15" fill="#aed2f4" stroke="#6f9bd6" stroke-width="0.7"/>
<circle cx="370.6" cy="20.1" r="2.15" fill="#aed2f4" stroke="#6f9bd6" stroke-width="0.7"/>
<circle cx="374.7" cy="20.21" r="2.15" fill="#aed2f4" stroke="#6f9bd6" stroke-width="0.7"/>
<circle cx="378.8" cy="20.36" r="2.15" fill="#aed2f4" stroke="#6f9bd6" stroke-width="0.7"/>
<circle cx="383.1" cy="20.5" r="2.15" fill="#aed2f4" stroke="#6f9bd6" stroke-width="0.7"/>
<circle cx="387.3" cy="20.59" r="2.15" fill="#aed2f4" stroke="#6f9bd6" stroke-width="0.7"/>
<circle cx="391.3" cy="20.7" r="2.15" fill="#aed2f4" stroke="#6f9bd6" stroke-width="0.7"/>
<circle cx="395.5" cy="21.1" r="2.15" fill="#aed2f4" stroke="#6f9bd6" stroke-width="0.7"/>
<circle cx="399.4" cy="21.7" r="2.15" fill="#aed2f4" stroke="#6f9bd6" stroke-width="0.7"/>
<circle cx="403.6" cy="22.6" r="2.15" fill="#aed2f4" stroke="#6f9bd6" stroke-width="0.7"/>
<circle cx="407.6" cy="24.6" r="2.15" fill="#aed2f4" stroke="#6f9bd6" stroke-width="0.7"/>
<circle cx="411.8" cy="27.8" r="2.15" fill="#aed2f4" stroke="#6f9bd6" stroke-width="0.7"/>
<circle cx="415.9" cy="33.9" r="2.15" fill="#aed2f4" stroke="#6f9bd6" stroke-width="0.7"/>
<circle cx="419.9" cy="45.9" r="2.15" fill="#aed2f4" stroke="#6f9bd6" stroke-width="0.7"/>
<circle cx="424" cy="67.7" r="2.15" fill="#aed2f4" stroke="#6f9bd6" stroke-width="0.7"/>
<circle cx="428" cy="108.8" r="2.15" fill="#aed2f4" stroke="#6f9bd6" stroke-width="0.7"/>
</g>
<rect x="260.9" y="12.2" width="173.4" height="139.9" fill="none" stroke="#000" stroke-width="1"/>
<line x1="260.9" y1="152.1" x2="260.9" y2="154.6" stroke="#000" stroke-width="0.9"/>
<text x="260.9" y="162.9" font-size="8" text-anchor="middle" fill="#000" font-weight="normal">0.0</text>
<line x1="275.35" y1="152.1" x2="275.35" y2="153.6" stroke="#000" stroke-width="0.9"/>
<line x1="289.8" y1="152.1" x2="289.8" y2="154.6" stroke="#000" stroke-width="0.9"/>
<text x="289.8" y="162.9" font-size="8" text-anchor="middle" fill="#000" font-weight="normal">0.2</text>
<line x1="304.25" y1="152.1" x2="304.25" y2="153.6" stroke="#000" stroke-width="0.9"/>
<line x1="318.7" y1="152.1" x2="318.7" y2="154.6" stroke="#000" stroke-width="0.9"/>
<text x="318.7" y="162.9" font-size="8" text-anchor="middle" fill="#000" font-weight="normal">0.4</text>
<line x1="333.15" y1="152.1" x2="333.15" y2="153.6" stroke="#000" stroke-width="0.9"/>
<line x1="347.6" y1="152.1" x2="347.6" y2="154.6" stroke="#000" stroke-width="0.9"/>
<text x="347.6" y="162.9" font-size="8" text-anchor="middle" fill="#000" font-weight="normal">0.6</text>
<line x1="362.05" y1="152.1" x2="362.05" y2="153.6" stroke="#000" stroke-width="0.9"/>
<line x1="376.5" y1="152.1" x2="376.5" y2="154.6" stroke="#000" stroke-width="0.9"/>
<text x="376.5" y="162.9" font-size="8" text-anchor="middle" fill="#000" font-weight="normal">0.8</text>
<line x1="390.95" y1="152.1" x2="390.95" y2="153.6" stroke="#000" stroke-width="0.9"/>
<line x1="405.4" y1="152.1" x2="405.4" y2="154.6" stroke="#000" stroke-width="0.9"/>
<text x="405.4" y="162.9" font-size="8" text-anchor="middle" fill="#000" font-weight="normal">1.0</text>
<line x1="419.85" y1="152.1" x2="419.85" y2="153.6" stroke="#000" stroke-width="0.9"/>
<line x1="434.3" y1="152.1" x2="434.3" y2="154.6" stroke="#000" stroke-width="0.9"/>
<text x="434.3" y="162.9" font-size="8" text-anchor="middle" fill="#000" font-weight="normal">1.2</text>
<line x1="258.4" y1="152.1" x2="260.9" y2="152.1" stroke="#000" stroke-width="0.9"/>
<text x="256.6" y="154.95" font-size="8" text-anchor="end" fill="#000" font-weight="normal">0</text>
<line x1="259.4" y1="139.15" x2="260.9" y2="139.15" stroke="#000" stroke-width="0.9"/>
<line x1="258.4" y1="126.2" x2="260.9" y2="126.2" stroke="#000" stroke-width="0.9"/>
<text x="256.6" y="129.05" font-size="8" text-anchor="end" fill="#000" font-weight="normal">5</text>
<line x1="259.4" y1="113.25" x2="260.9" y2="113.25" stroke="#000" stroke-width="0.9"/>
<line x1="258.4" y1="100.3" x2="260.9" y2="100.3" stroke="#000" stroke-width="0.9"/>
<text x="256.6" y="103.15" font-size="8" text-anchor="end" fill="#000" font-weight="normal">10</text>
<line x1="259.4" y1="87.35" x2="260.9" y2="87.35" stroke="#000" stroke-width="0.9"/>
<line x1="258.4" y1="74.4" x2="260.9" y2="74.4" stroke="#000" stroke-width="0.9"/>
<text x="256.6" y="77.25" font-size="8" text-anchor="end" fill="#000" font-weight="normal">15</text>
<line x1="259.4" y1="61.45" x2="260.9" y2="61.45" stroke="#000" stroke-width="0.9"/>
<line x1="258.4" y1="48.5" x2="260.9" y2="48.5" stroke="#000" stroke-width="0.9"/>
<text x="256.6" y="51.35" font-size="8" text-anchor="end" fill="#000" font-weight="normal">20</text>
<line x1="259.4" y1="35.55" x2="260.9" y2="35.55" stroke="#000" stroke-width="0.9"/>
<line x1="258.4" y1="22.6" x2="260.9" y2="22.6" stroke="#000" stroke-width="0.9"/>
<text x="256.6" y="25.45" font-size="8" text-anchor="end" fill="#000" font-weight="normal">25</text>
<text x="347" y="174.4" font-size="8" text-anchor="middle" fill="#000" font-weight="normal">Voltage (V)</text>
<text x="239.4" y="81.5" font-size="8" text-anchor="middle" transform="rotate(-90 239.4 81.5)">Current density (mA&#183;cm<tspan dy="-2.6" font-size="5.2">&#8722;2</tspan><tspan dy="2.6">)</tspan></text>
<line x1="287.2" y1="38.2" x2="303.8" y2="38.2" stroke="#ae2149" stroke-width="1.3"/>
<circle cx="295.5" cy="38.2" r="2.3" fill="#f6bcc6" stroke="#cc5572" stroke-width="0.7"/>
<text x="306.1" y="40.8" font-size="7.2" text-anchor="start" fill="#000" font-weight="normal">SFX-P2@CF Reverse scan</text>
<line x1="287.2" y1="47.5" x2="303.8" y2="47.5" stroke="#4a6fb2" stroke-width="1.3"/>
<circle cx="295.5" cy="47.5" r="2.3" fill="#aed2f4" stroke="#6f9bd6" stroke-width="0.7"/>
<text x="306.1" y="50.1" font-size="7.2" text-anchor="start" fill="#000" font-weight="normal">SFX-P2@CF Forward scan</text>
<text x="299.65" y="74.3" font-size="10" text-anchor="middle" fill="#000" font-weight="normal"><tspan font-style="italic">J</tspan><tspan font-size="6.6" dy="1.8">SC</tspan><tspan dy="-1.8"> (mA cm</tspan><tspan font-size="6.3" dy="-3.6">&#8722;2</tspan><tspan dy="3.6">)</tspan></text>
<text x="339.4" y="74.3" font-size="10" text-anchor="start" fill="#a3214b" font-weight="normal">25.73</text>
<text x="375.7" y="74.3" font-size="10" text-anchor="start" fill="#5248a0" font-weight="normal">25.67</text>
<text x="302.5" y="96" font-size="10" text-anchor="middle" fill="#000" font-weight="normal"><tspan font-style="italic">V</tspan><tspan font-size="6.6" dy="1.8">OC</tspan><tspan dy="-1.8"> (V)</tspan></text>
<text x="339.4" y="96" font-size="10" text-anchor="start" fill="#a3214b" font-weight="normal">1.180</text>
<text x="375.7" y="96" font-size="10" text-anchor="start" fill="#5248a0" font-weight="normal">1.176</text>
<text x="302.2" y="117.6" font-size="10" text-anchor="middle" fill="#000" font-weight="normal">FF (%)</text>
<text x="339.4" y="117.6" font-size="10" text-anchor="start" fill="#a3214b" font-weight="normal">84.51</text>
<text x="375.7" y="117.6" font-size="10" text-anchor="start" fill="#5248a0" font-weight="normal">82.83</text>
<text x="302.2" y="139" font-size="10" text-anchor="middle" fill="#000" font-weight="normal">PCE (%)</text>
<text x="339.4" y="139" font-size="10" text-anchor="start" fill="#a3214b" font-weight="normal">25.65</text>
<text x="375.7" y="139" font-size="10" text-anchor="start" fill="#5248a0" font-weight="normal">25.01</text>
<text x="226.6" y="12.3" font-size="16.5" text-anchor="start" fill="#333333" font-weight="bold">b</text>
<clipPath id="cp3"><rect x="483.6" y="12.4" width="173.8" height="139.7"/></clipPath><g clip-path="url(#cp3)">
<polyline points="483.6,17.3 484.32,17.3 485.04,17.3 485.76,17.3 486.48,17.3 487.2,17.3 487.92,17.3 488.64,17.3 489.36,17.3 490.08,17.3 490.8,17.3 491.52,17.3 492.24,17.3 492.96,17.3 493.68,17.3 494.39,17.3 495.11,17.3 495.83,17.3 496.55,17.3 497.27,17.3 497.99,17.3 498.71,17.3 499.43,17.3 500.15,17.3 500.87,17.3 501.59,17.3 502.31,17.3 503.03,17.3 503.75,17.3 504.47,17.3 505.19,17.3 505.91,17.3 506.63,17.3 507.35,17.3 508.07,17.3 508.79,17.3 509.51,17.3 510.23,17.3 510.95,17.3 511.67,17.3 512.39,17.3 513.11,17.3 513.83,17.3 514.55,17.3 515.27,17.3 515.98,17.3 516.7,17.3 517.42,17.3 518.14,17.3 518.86,17.3 519.58,17.3 520.3,17.3 521.02,17.3 521.74,17.3 522.46,17.3 523.18,17.3 523.9,17.3 524.62,17.3 525.34,17.3 526.06,17.3 526.78,17.3 527.5,17.3 528.22,17.3 528.94,17.3 529.66,17.3 530.38,17.3 531.1,17.3 531.82,17.3 532.54,17.3 533.26,17.3 533.98,17.3 534.7,17.3 535.42,17.3 536.14,17.3 536.86,17.3 537.57,17.3 538.29,17.3 539.01,17.3 539.73,17.3 540.45,17.3 541.17,17.3 541.89,17.3 542.61,17.3 543.33,17.3 544.05,17.3 544.77,17.3 545.49,17.3 546.21,17.3 546.93,17.3 547.65,17.3 548.37,17.3 549.09,17.3 549.81,17.3 550.53,17.3 551.25,17.3 551.97,17.3 552.69,17.3 553.41,17.3 554.13,17.3 554.85,17.3 555.57,17.3 556.29,17.3 557.01,17.3 557.73,17.3 558.45,17.3 559.16,17.3 559.88,17.3 560.6,17.3 561.32,17.3 562.04,17.3 562.76,17.3 563.48,17.3 564.2,17.3 564.92,17.3 565.64,17.31 566.36,17.31 567.08,17.31 567.8,17.31 568.52,17.31 569.24,17.31 569.96,17.32 570.68,17.32 571.4,17.32 572.12,17.32 572.84,17.32 573.56,17.33 574.28,17.33 575,17.33 575.72,17.33 576.44,17.34 577.16,17.34 577.88,17.34 578.6,17.34 579.32,17.35 580.04,17.35 580.75,17.35 581.47,17.36 582.19,17.36 582.91,17.36 583.63,17.36 584.35,17.37 585.07,17.37 585.79,17.37 586.51,17.37 587.23,17.38 587.95,17.38 588.67,17.38 589.39,17.38 590.11,17.38 590.83,17.39 591.55,17.39 592.27,17.39 592.99,17.39 593.71,17.39 594.43,17.39 595.15,17.4 595.87,17.4 596.59,17.4 597.31,17.4 598.03,17.4 598.75,17.4 599.47,17.4 600.19,17.4 600.91,17.4 601.63,17.4 602.34,17.4 603.06,17.4 603.78,17.4 604.5,17.4 605.22,17.4 605.94,17.4 606.66,17.4 607.38,17.4 608.1,17.4 608.82,17.4 609.54,17.4 610.26,17.4 610.98,17.4 611.7,17.4 612.42,17.4 613.14,17.4 613.86,17.4 614.58,17.4 615.3,17.4 616.02,17.4 616.74,17.4 617.46,17.4 618.18,17.4 618.9,17.4 619.62,17.4 620.34,17.4 621.06,17.42 621.78,17.5 622.5,17.62 623.22,17.75 623.93,17.89 624.65,18.01 625.37,18.11 626.09,18.2 626.81,18.29 627.53,18.4 628.25,18.52 628.97,18.66 629.69,18.83 630.41,19.03 631.13,19.26 631.85,19.51 632.57,19.79 633.29,20.1 634.01,20.44 634.73,20.84 635.45,21.3 636.17,21.81 636.89,22.37 637.61,22.98 638.33,23.67 639.05,24.46 639.77,25.35 640.49,26.33 641.21,27.42 641.93,28.63 642.65,29.98 643.37,31.5 644.09,33.24 644.81,35.22 645.52,37.48 646.24,40.06 646.96,43.45 647.68,47.74 648.4,52.73 649.12,58.23 649.84,64.05 650.56,70.13 651.28,76.71 652,84.08 652.72,92.54 653.44,102.38 654.16,114.26 654.88,131.56 655.6,152.1" fill="none" stroke="#ae2149" stroke-width="1.3" stroke-linejoin="round"/>
<circle cx="481.1" cy="17.3" r="2.15" fill="#f6bcc6" stroke="#cc5572" stroke-width="0.7"/>
<circle cx="485.2" cy="17.3" r="2.15" fill="#f6bcc6" stroke="#cc5572" stroke-width="0.7"/>
<circle cx="489.3" cy="17.3" r="2.15" fill="#f6bcc6" stroke="#cc5572" stroke-width="0.7"/>
<circle cx="493.4" cy="17.3" r="2.15" fill="#f6bcc6" stroke="#cc5572" stroke-width="0.7"/>
<circle cx="497.5" cy="17.3" r="2.15" fill="#f6bcc6" stroke="#cc5572" stroke-width="0.7"/>
<circle cx="501.6" cy="17.3" r="2.15" fill="#f6bcc6" stroke="#cc5572" stroke-width="0.7"/>
<circle cx="505.7" cy="17.3" r="2.15" fill="#f6bcc6" stroke="#cc5572" stroke-width="0.7"/>
<circle cx="509.8" cy="17.3" r="2.15" fill="#f6bcc6" stroke="#cc5572" stroke-width="0.7"/>
<circle cx="513.9" cy="17.3" r="2.15" fill="#f6bcc6" stroke="#cc5572" stroke-width="0.7"/>
<circle cx="518" cy="17.3" r="2.15" fill="#f6bcc6" stroke="#cc5572" stroke-width="0.7"/>
<circle cx="522.1" cy="17.3" r="2.15" fill="#f6bcc6" stroke="#cc5572" stroke-width="0.7"/>
<circle cx="526.2" cy="17.3" r="2.15" fill="#f6bcc6" stroke="#cc5572" stroke-width="0.7"/>
<circle cx="530.3" cy="17.3" r="2.15" fill="#f6bcc6" stroke="#cc5572" stroke-width="0.7"/>
<circle cx="534.4" cy="17.3" r="2.15" fill="#f6bcc6" stroke="#cc5572" stroke-width="0.7"/>
<circle cx="538.5" cy="17.3" r="2.15" fill="#f6bcc6" stroke="#cc5572" stroke-width="0.7"/>
<circle cx="542.6" cy="17.3" r="2.15" fill="#f6bcc6" stroke="#cc5572" stroke-width="0.7"/>
<circle cx="546.7" cy="17.3" r="2.15" fill="#f6bcc6" stroke="#cc5572" stroke-width="0.7"/>
<circle cx="550.8" cy="17.3" r="2.15" fill="#f6bcc6" stroke="#cc5572" stroke-width="0.7"/>
<circle cx="554.9" cy="17.3" r="2.15" fill="#f6bcc6" stroke="#cc5572" stroke-width="0.7"/>
<circle cx="559" cy="17.3" r="2.15" fill="#f6bcc6" stroke="#cc5572" stroke-width="0.7"/>
<circle cx="563.1" cy="17.3" r="2.15" fill="#f6bcc6" stroke="#cc5572" stroke-width="0.7"/>
<circle cx="567.2" cy="17.31" r="2.15" fill="#f6bcc6" stroke="#cc5572" stroke-width="0.7"/>
<circle cx="571.3" cy="17.32" r="2.15" fill="#f6bcc6" stroke="#cc5572" stroke-width="0.7"/>
<circle cx="575.4" cy="17.33" r="2.15" fill="#f6bcc6" stroke="#cc5572" stroke-width="0.7"/>
<circle cx="579.5" cy="17.35" r="2.15" fill="#f6bcc6" stroke="#cc5572" stroke-width="0.7"/>
<circle cx="583.6" cy="17.36" r="2.15" fill="#f6bcc6" stroke="#cc5572" stroke-width="0.7"/>
<circle cx="587.7" cy="17.38" r="2.15" fill="#f6bcc6" stroke="#cc5572" stroke-width="0.7"/>
<circle cx="591.8" cy="17.39" r="2.15" fill="#f6bcc6" stroke="#cc5572" stroke-width="0.7"/>
<circle cx="595.9" cy="17.4" r="2.15" fill="#f6bcc6" stroke="#cc5572" stroke-width="0.7"/>
<circle cx="600" cy="17.4" r="2.15" fill="#f6bcc6" stroke="#cc5572" stroke-width="0.7"/>
<circle cx="604.1" cy="17.4" r="2.15" fill="#f6bcc6" stroke="#cc5572" stroke-width="0.7"/>
<circle cx="608.2" cy="17.4" r="2.15" fill="#f6bcc6" stroke="#cc5572" stroke-width="0.7"/>
<circle cx="612.3" cy="17.4" r="2.15" fill="#f6bcc6" stroke="#cc5572" stroke-width="0.7"/>
<circle cx="616.4" cy="17.4" r="2.15" fill="#f6bcc6" stroke="#cc5572" stroke-width="0.7"/>
<circle cx="620.5" cy="17.4" r="2.15" fill="#f6bcc6" stroke="#cc5572" stroke-width="0.7"/>
<circle cx="624.6" cy="18" r="2.15" fill="#f6bcc6" stroke="#cc5572" stroke-width="0.7"/>
<circle cx="628.7" cy="18.6" r="2.15" fill="#f6bcc6" stroke="#cc5572" stroke-width="0.7"/>
<circle cx="633.3" cy="20.1" r="2.15" fill="#f6bcc6" stroke="#cc5572" stroke-width="0.7"/>
<circle cx="637.4" cy="22.8" r="2.15" fill="#f6bcc6" stroke="#cc5572" stroke-width="0.7"/>
<circle cx="641.5" cy="27.9" r="2.15" fill="#f6bcc6" stroke="#cc5572" stroke-width="0.7"/>
<circle cx="646.1" cy="39.5" r="2.15" fill="#f6bcc6" stroke="#cc5572" stroke-width="0.7"/>
<circle cx="649.8" cy="63.7" r="2.15" fill="#f6bcc6" stroke="#cc5572" stroke-width="0.7"/>
<circle cx="653.9" cy="109.5" r="2.15" fill="#f6bcc6" stroke="#cc5572" stroke-width="0.7"/>
<polyline points="483.6,17.4 484.32,17.4 485.04,17.4 485.76,17.4 486.48,17.4 487.19,17.4 487.91,17.41 488.63,17.41 489.35,17.41 490.07,17.41 490.79,17.41 491.51,17.41 492.23,17.42 492.94,17.42 493.66,17.42 494.38,17.42 495.1,17.42 495.82,17.43 496.54,17.43 497.26,17.43 497.98,17.44 498.7,17.44 499.41,17.44 500.13,17.44 500.85,17.45 501.57,17.45 502.29,17.45 503.01,17.46 503.73,17.46 504.45,17.46 505.16,17.47 505.88,17.47 506.6,17.47 507.32,17.48 508.04,17.48 508.76,17.49 509.48,17.49 510.2,17.49 510.92,17.5 511.63,17.5 512.35,17.51 513.07,17.51 513.79,17.51 514.51,17.52 515.23,17.52 515.95,17.53 516.67,17.53 517.38,17.54 518.1,17.54 518.82,17.55 519.54,17.55 520.26,17.56 520.98,17.56 521.7,17.57 522.42,17.57 523.14,17.58 523.85,17.58 524.57,17.59 525.29,17.59 526.01,17.6 526.73,17.61 527.45,17.61 528.17,17.62 528.89,17.62 529.61,17.63 530.32,17.63 531.04,17.64 531.76,17.65 532.48,17.65 533.2,17.66 533.92,17.66 534.64,17.67 535.36,17.68 536.07,17.68 536.79,17.69 537.51,17.69 538.23,17.7 538.95,17.71 539.67,17.71 540.39,17.72 541.11,17.73 541.83,17.73 542.54,17.74 543.26,17.74 543.98,17.75 544.7,17.76 545.42,17.76 546.14,17.77 546.86,17.78 547.58,17.78 548.29,17.79 549.01,17.8 549.73,17.8 550.45,17.81 551.17,17.82 551.89,17.82 552.61,17.83 553.33,17.84 554.05,17.84 554.76,17.85 555.48,17.86 556.2,17.86 556.92,17.87 557.64,17.88 558.36,17.88 559.08,17.89 559.8,17.9 560.51,17.9 561.23,17.91 561.95,17.92 562.67,17.93 563.39,17.93 564.11,17.94 564.83,17.95 565.55,17.95 566.27,17.96 566.98,17.97 567.7,17.98 568.42,17.98 569.14,17.99 569.86,18 570.58,18.01 571.3,18.02 572.02,18.02 572.73,18.03 573.45,18.04 574.17,18.05 574.89,18.06 575.61,18.07 576.33,18.08 577.05,18.09 577.77,18.1 578.49,18.11 579.2,18.12 579.92,18.13 580.64,18.14 581.36,18.15 582.08,18.16 582.8,18.17 583.52,18.18 584.24,18.19 584.95,18.2 585.67,18.21 586.39,18.23 587.11,18.24 587.83,18.25 588.55,18.26 589.27,18.28 589.99,18.29 590.71,18.3 591.42,18.32 592.14,18.33 592.86,18.34 593.58,18.36 594.3,18.37 595.02,18.39 595.74,18.4 596.46,18.42 597.17,18.43 597.89,18.45 598.61,18.47 599.33,18.48 600.05,18.5 600.77,18.52 601.49,18.54 602.21,18.56 602.93,18.59 603.64,18.61 604.36,18.64 605.08,18.66 605.8,18.69 606.52,18.72 607.24,18.76 607.96,18.79 608.68,18.82 609.39,18.86 610.11,18.89 610.83,18.93 611.55,18.97 612.27,19.01 612.99,19.04 613.71,19.08 614.43,19.12 615.15,19.16 615.86,19.2 616.58,19.24 617.3,19.29 618.02,19.33 618.74,19.38 619.46,19.44 620.18,19.49 620.9,19.56 621.62,19.63 622.33,19.7 623.05,19.8 623.77,19.92 624.49,20.06 625.21,20.22 625.93,20.39 626.65,20.56 627.37,20.74 628.08,20.95 628.8,21.17 629.52,21.42 630.24,21.69 630.96,22.01 631.68,22.38 632.4,22.8 633.12,23.28 633.84,23.8 634.55,24.38 635.27,25.01 635.99,25.74 636.71,26.56 637.43,27.48 638.15,28.49 638.87,29.61 639.59,30.87 640.3,32.32 641.02,33.95 641.74,35.78 642.46,37.81 643.18,40.06 643.9,42.74 644.62,45.92 645.34,49.52 646.06,53.45 646.77,57.64 647.49,62.06 648.21,66.86 648.93,72.09 649.65,77.79 650.37,84.01 651.09,90.78 651.81,97.87 652.52,104.96 653.24,112.88 653.96,122.53 654.68,134.82 655.4,152.1" fill="none" stroke="#4a6fb2" stroke-width="1.3" stroke-linejoin="round"/>
<circle cx="483.3" cy="17.4" r="2.15" fill="#aed2f4" stroke="#6f9bd6" stroke-width="0.7"/>
<circle cx="487.39" cy="17.41" r="2.15" fill="#aed2f4" stroke="#6f9bd6" stroke-width="0.7"/>
<circle cx="491.48" cy="17.41" r="2.15" fill="#aed2f4" stroke="#6f9bd6" stroke-width="0.7"/>
<circle cx="495.57" cy="17.43" r="2.15" fill="#aed2f4" stroke="#6f9bd6" stroke-width="0.7"/>
<circle cx="499.66" cy="17.44" r="2.15" fill="#aed2f4" stroke="#6f9bd6" stroke-width="0.7"/>
<circle cx="503.75" cy="17.46" r="2.15" fill="#aed2f4" stroke="#6f9bd6" stroke-width="0.7"/>
<circle cx="507.84" cy="17.48" r="2.15" fill="#aed2f4" stroke="#6f9bd6" stroke-width="0.7"/>
<circle cx="511.93" cy="17.5" r="2.15" fill="#aed2f4" stroke="#6f9bd6" stroke-width="0.7"/>
<circle cx="516.02" cy="17.53" r="2.15" fill="#aed2f4" stroke="#6f9bd6" stroke-width="0.7"/>
<circle cx="520.11" cy="17.56" r="2.15" fill="#aed2f4" stroke="#6f9bd6" stroke-width="0.7"/>
<circle cx="524.2" cy="17.59" r="2.15" fill="#aed2f4" stroke="#6f9bd6" stroke-width="0.7"/>
<circle cx="528.29" cy="17.62" r="2.15" fill="#aed2f4" stroke="#6f9bd6" stroke-width="0.7"/>
<circle cx="532.38" cy="17.65" r="2.15" fill="#aed2f4" stroke="#6f9bd6" stroke-width="0.7"/>
<circle cx="536.47" cy="17.68" r="2.15" fill="#aed2f4" stroke="#6f9bd6" stroke-width="0.7"/>
<circle cx="540.56" cy="17.72" r="2.15" fill="#aed2f4" stroke="#6f9bd6" stroke-width="0.7"/>
<circle cx="544.65" cy="17.76" r="2.15" fill="#aed2f4" stroke="#6f9bd6" stroke-width="0.7"/>
<circle cx="548.74" cy="17.79" r="2.15" fill="#aed2f4" stroke="#6f9bd6" stroke-width="0.7"/>
<circle cx="552.83" cy="17.83" r="2.15" fill="#aed2f4" stroke="#6f9bd6" stroke-width="0.7"/>
<circle cx="556.92" cy="17.87" r="2.15" fill="#aed2f4" stroke="#6f9bd6" stroke-width="0.7"/>
<circle cx="561.01" cy="17.91" r="2.15" fill="#aed2f4" stroke="#6f9bd6" stroke-width="0.7"/>
<circle cx="565.1" cy="17.95" r="2.15" fill="#aed2f4" stroke="#6f9bd6" stroke-width="0.7"/>
<circle cx="569.19" cy="17.99" r="2.15" fill="#aed2f4" stroke="#6f9bd6" stroke-width="0.7"/>
<circle cx="573.28" cy="18.04" r="2.15" fill="#aed2f4" stroke="#6f9bd6" stroke-width="0.7"/>
<circle cx="577.37" cy="18.09" r="2.15" fill="#aed2f4" stroke="#6f9bd6" stroke-width="0.7"/>
<circle cx="581.46" cy="18.15" r="2.15" fill="#aed2f4" stroke="#6f9bd6" stroke-width="0.7"/>
<circle cx="585.55" cy="18.21" r="2.15" fill="#aed2f4" stroke="#6f9bd6" stroke-width="0.7"/>
<circle cx="589.64" cy="18.28" r="2.15" fill="#aed2f4" stroke="#6f9bd6" stroke-width="0.7"/>
<circle cx="593.73" cy="18.36" r="2.15" fill="#aed2f4" stroke="#6f9bd6" stroke-width="0.7"/>
<circle cx="597.82" cy="18.45" r="2.15" fill="#aed2f4" stroke="#6f9bd6" stroke-width="0.7"/>
<circle cx="601.91" cy="18.55" r="2.15" fill="#aed2f4" stroke="#6f9bd6" stroke-width="0.7"/>
<circle cx="606" cy="18.7" r="2.15" fill="#aed2f4" stroke="#6f9bd6" stroke-width="0.7"/>
<circle cx="610.09" cy="18.89" r="2.15" fill="#aed2f4" stroke="#6f9bd6" stroke-width="0.7"/>
<circle cx="614.18" cy="19.11" r="2.15" fill="#aed2f4" stroke="#6f9bd6" stroke-width="0.7"/>
<circle cx="618.27" cy="19.35" r="2.15" fill="#aed2f4" stroke="#6f9bd6" stroke-width="0.7"/>
<circle cx="622.3" cy="19.7" r="2.15" fill="#aed2f4" stroke="#6f9bd6" stroke-width="0.7"/>
<circle cx="626.4" cy="20.5" r="2.15" fill="#aed2f4" stroke="#6f9bd6" stroke-width="0.7"/>
<circle cx="630.5" cy="21.8" r="2.15" fill="#aed2f4" stroke="#6f9bd6" stroke-width="0.7"/>
<circle cx="634.7" cy="24.5" r="2.15" fill="#aed2f4" stroke="#6f9bd6" stroke-width="0.7"/>
<circle cx="638.8" cy="29.5" r="2.15" fill="#aed2f4" stroke="#6f9bd6" stroke-width="0.7"/>
<circle cx="643.1" cy="39.8" r="2.15" fill="#aed2f4" stroke="#6f9bd6" stroke-width="0.7"/>
<circle cx="646.8" cy="57.8" r="2.15" fill="#aed2f4" stroke="#6f9bd6" stroke-width="0.7"/>
<circle cx="651.3" cy="92.9" r="2.15" fill="#aed2f4" stroke="#6f9bd6" stroke-width="0.7"/>
<circle cx="655.3" cy="148.2" r="2.15" fill="#aed2f4" stroke="#6f9bd6" stroke-width="0.7"/>
</g>
<rect x="483.6" y="12.4" width="173.8" height="139.7" fill="none" stroke="#000" stroke-width="1"/>
<line x1="483.6" y1="152.1" x2="483.6" y2="154.6" stroke="#000" stroke-width="0.9"/>
<text x="483.6" y="162.9" font-size="8" text-anchor="middle" fill="#000" font-weight="normal">0.0</text>
<line x1="498.08" y1="152.1" x2="498.08" y2="153.6" stroke="#000" stroke-width="0.9"/>
<line x1="512.57" y1="152.1" x2="512.57" y2="154.6" stroke="#000" stroke-width="0.9"/>
<text x="512.57" y="162.9" font-size="8" text-anchor="middle" fill="#000" font-weight="normal">0.2</text>
<line x1="527.05" y1="152.1" x2="527.05" y2="153.6" stroke="#000" stroke-width="0.9"/>
<line x1="541.53" y1="152.1" x2="541.53" y2="154.6" stroke="#000" stroke-width="0.9"/>
<text x="541.53" y="162.9" font-size="8" text-anchor="middle" fill="#000" font-weight="normal">0.4</text>
<line x1="556.02" y1="152.1" x2="556.02" y2="153.6" stroke="#000" stroke-width="0.9"/>
<line x1="570.5" y1="152.1" x2="570.5" y2="154.6" stroke="#000" stroke-width="0.9"/>
<text x="570.5" y="162.9" font-size="8" text-anchor="middle" fill="#000" font-weight="normal">0.6</text>
<line x1="584.98" y1="152.1" x2="584.98" y2="153.6" stroke="#000" stroke-width="0.9"/>
<line x1="599.47" y1="152.1" x2="599.47" y2="154.6" stroke="#000" stroke-width="0.9"/>
<text x="599.47" y="162.9" font-size="8" text-anchor="middle" fill="#000" font-weight="normal">0.8</text>
<line x1="613.95" y1="152.1" x2="613.95" y2="153.6" stroke="#000" stroke-width="0.9"/>
<line x1="628.43" y1="152.1" x2="628.43" y2="154.6" stroke="#000" stroke-width="0.9"/>
<text x="628.43" y="162.9" font-size="8" text-anchor="middle" fill="#000" font-weight="normal">1.0</text>
<line x1="642.92" y1="152.1" x2="642.92" y2="153.6" stroke="#000" stroke-width="0.9"/>
<line x1="657.4" y1="152.1" x2="657.4" y2="154.6" stroke="#000" stroke-width="0.9"/>
<text x="657.4" y="162.9" font-size="8" text-anchor="middle" fill="#000" font-weight="normal">1.2</text>
<line x1="481.1" y1="152.1" x2="483.6" y2="152.1" stroke="#000" stroke-width="0.9"/>
<text x="479.3" y="154.95" font-size="8" text-anchor="end" fill="#000" font-weight="normal">0</text>
<line x1="482.1" y1="139.15" x2="483.6" y2="139.15" stroke="#000" stroke-width="0.9"/>
<line x1="481.1" y1="126.2" x2="483.6" y2="126.2" stroke="#000" stroke-width="0.9"/>
<text x="479.3" y="129.05" font-size="8" text-anchor="end" fill="#000" font-weight="normal">5</text>
<line x1="482.1" y1="113.25" x2="483.6" y2="113.25" stroke="#000" stroke-width="0.9"/>
<line x1="481.1" y1="100.3" x2="483.6" y2="100.3" stroke="#000" stroke-width="0.9"/>
<text x="479.3" y="103.15" font-size="8" text-anchor="end" fill="#000" font-weight="normal">10</text>
<line x1="482.1" y1="87.35" x2="483.6" y2="87.35" stroke="#000" stroke-width="0.9"/>
<line x1="481.1" y1="74.4" x2="483.6" y2="74.4" stroke="#000" stroke-width="0.9"/>
<text x="479.3" y="77.25" font-size="8" text-anchor="end" fill="#000" font-weight="normal">15</text>
<line x1="482.1" y1="61.45" x2="483.6" y2="61.45" stroke="#000" stroke-width="0.9"/>
<line x1="481.1" y1="48.5" x2="483.6" y2="48.5" stroke="#000" stroke-width="0.9"/>
<text x="479.3" y="51.35" font-size="8" text-anchor="end" fill="#000" font-weight="normal">20</text>
<line x1="482.1" y1="35.55" x2="483.6" y2="35.55" stroke="#000" stroke-width="0.9"/>
<line x1="481.1" y1="22.6" x2="483.6" y2="22.6" stroke="#000" stroke-width="0.9"/>
<text x="479.3" y="25.45" font-size="8" text-anchor="end" fill="#000" font-weight="normal">25</text>
<text x="570" y="174.4" font-size="8" text-anchor="middle" fill="#000" font-weight="normal">Voltage (V)</text>
<text x="462" y="81.5" font-size="8" text-anchor="middle" transform="rotate(-90 462 81.5)">Current density (mA&#183;cm<tspan dy="-2.6" font-size="5.2">&#8722;2</tspan><tspan dy="2.6">)</tspan></text>
<line x1="509.3" y1="35.9" x2="526" y2="35.9" stroke="#ae2149" stroke-width="1.3"/>
<circle cx="517.65" cy="35.9" r="2.3" fill="#f6bcc6" stroke="#cc5572" stroke-width="0.7"/>
<text x="527.7" y="38.5" font-size="7.2" text-anchor="start" fill="#000" font-weight="normal">SFX-P1@CF Reverse scan</text>
<line x1="509.3" y1="44.7" x2="526" y2="44.7" stroke="#4a6fb2" stroke-width="1.3"/>
<circle cx="517.65" cy="44.7" r="2.3" fill="#aed2f4" stroke="#6f9bd6" stroke-width="0.7"/>
<text x="527.7" y="47.3" font-size="7.2" text-anchor="start" fill="#000" font-weight="normal">SFX-P1@CF Forward scan</text>
<text x="523.5" y="74.3" font-size="10" text-anchor="middle" fill="#000" font-weight="normal"><tspan font-style="italic">J</tspan><tspan font-size="6.6" dy="1.8">SC</tspan><tspan dy="-1.8"> (mA cm</tspan><tspan font-size="6.3" dy="-3.6">&#8722;2</tspan><tspan dy="3.6">)</tspan></text>
<text x="563.5" y="74.3" font-size="10" text-anchor="start" fill="#a3214b" font-weight="normal">26.00</text>
<text x="599.2" y="74.3" font-size="10" text-anchor="start" fill="#5248a0" font-weight="normal">25.99</text>
<text x="526.2" y="96" font-size="10" text-anchor="middle" fill="#000" font-weight="normal"><tspan font-style="italic">V</tspan><tspan font-size="6.6" dy="1.8">OC</tspan><tspan dy="-1.8"> (V)</tspan></text>
<text x="563.5" y="96" font-size="10" text-anchor="start" fill="#a3214b" font-weight="normal">1.187</text>
<text x="599.2" y="96" font-size="10" text-anchor="start" fill="#5248a0" font-weight="normal">1.186</text>
<text x="526.1" y="117.6" font-size="10" text-anchor="middle" fill="#000" font-weight="normal">FF (%)</text>
<text x="563.5" y="117.6" font-size="10" text-anchor="start" fill="#a3214b" font-weight="normal">84.81</text>
<text x="599.2" y="117.6" font-size="10" text-anchor="start" fill="#5248a0" font-weight="normal">83.34</text>
<text x="525.9" y="139" font-size="10" text-anchor="middle" fill="#000" font-weight="normal">PCE (%)</text>
<text x="563.5" y="139" font-size="10" text-anchor="start" fill="#a3214b" font-weight="normal">26.18</text>
<text x="599.2" y="139" font-size="10" text-anchor="start" fill="#5248a0" font-weight="normal">25.69</text>
<text x="454.2" y="11.9" font-size="16.5" text-anchor="start" fill="#333333" font-weight="bold">c</text>
<text x="7.2" y="189.9" font-size="16.5" text-anchor="start" fill="#333333" font-weight="bold">f</text>
<circle cx="78.5" cy="241.1" r="2.7" fill="#6b6b6b" stroke="none" stroke-width="0" fill-opacity="0.8"/>
<circle cx="74.6" cy="244.2" r="2.7" fill="#6b6b6b" stroke="none" stroke-width="0" fill-opacity="0.8"/>
<circle cx="62.9" cy="248.3" r="2.7" fill="#6b6b6b" stroke="none" stroke-width="0" fill-opacity="0.8"/>
<circle cx="82.3" cy="246.2" r="2.7" fill="#6b6b6b" stroke="none" stroke-width="0" fill-opacity="0.8"/>
<circle cx="86.4" cy="248.8" r="2.7" fill="#6b6b6b" stroke="none" stroke-width="0" fill-opacity="0.8"/>
<circle cx="54.7" cy="250.8" r="2.7" fill="#6b6b6b" stroke="none" stroke-width="0" fill-opacity="0.8"/>
<circle cx="70.5" cy="251.3" r="2.7" fill="#6b6b6b" stroke="none" stroke-width="0" fill-opacity="0.8"/>
<circle cx="94" cy="251.9" r="2.7" fill="#6b6b6b" stroke="none" stroke-width="0" fill-opacity="0.8"/>
<circle cx="102.2" cy="251.9" r="2.7" fill="#6b6b6b" stroke="none" stroke-width="0" fill-opacity="0.8"/>
<circle cx="86.4" cy="254.4" r="2.7" fill="#6b6b6b" stroke="none" stroke-width="0" fill-opacity="0.8"/>
<circle cx="78.7" cy="249.3" r="2.7" fill="#6b6b6b" stroke="none" stroke-width="0" fill-opacity="0.8"/>
<circle cx="66.5" cy="259.5" r="2.7" fill="#6b6b6b" stroke="none" stroke-width="0" fill-opacity="0.8"/>
<circle cx="70" cy="257" r="2.7" fill="#6b6b6b" stroke="none" stroke-width="0" fill-opacity="0.8"/>
<circle cx="74.6" cy="259" r="2.7" fill="#6b6b6b" stroke="none" stroke-width="0" fill-opacity="0.8"/>
<circle cx="82.3" cy="260" r="2.7" fill="#6b6b6b" stroke="none" stroke-width="0" fill-opacity="0.8"/>
<circle cx="70.5" cy="265.1" r="2.7" fill="#6b6b6b" stroke="none" stroke-width="0" fill-opacity="0.8"/>
<circle cx="78.2" cy="267.2" r="2.7" fill="#6b6b6b" stroke="none" stroke-width="0" fill-opacity="0.8"/>
<circle cx="86.9" cy="264.6" r="2.7" fill="#6b6b6b" stroke="none" stroke-width="0" fill-opacity="0.8"/>
<circle cx="90.5" cy="263.6" r="2.7" fill="#6b6b6b" stroke="none" stroke-width="0" fill-opacity="0.8"/>
<circle cx="145.4" cy="219.6" r="2.7" fill="#4f8dca" stroke="none" stroke-width="0" fill-opacity="0.8"/>
<circle cx="153.6" cy="220.1" r="2.7" fill="#4f8dca" stroke="none" stroke-width="0" fill-opacity="0.8"/>
<circle cx="160.8" cy="221.6" r="2.7" fill="#4f8dca" stroke="none" stroke-width="0" fill-opacity="0.8"/>
<circle cx="169" cy="221.1" r="2.7" fill="#4f8dca" stroke="none" stroke-width="0" fill-opacity="0.8"/>
<circle cx="145.4" cy="225.2" r="2.7" fill="#4f8dca" stroke="none" stroke-width="0" fill-opacity="0.8"/>
<circle cx="149.5" cy="228.3" r="2.7" fill="#4f8dca" stroke="none" stroke-width="0" fill-opacity="0.8"/>
<circle cx="161.3" cy="225.2" r="2.7" fill="#4f8dca" stroke="none" stroke-width="0" fill-opacity="0.8"/>
<circle cx="169" cy="226.2" r="2.7" fill="#4f8dca" stroke="none" stroke-width="0" fill-opacity="0.8"/>
<circle cx="133.2" cy="236" r="2.7" fill="#4f8dca" stroke="none" stroke-width="0" fill-opacity="0.8"/>
<circle cx="141.4" cy="236.5" r="2.7" fill="#4f8dca" stroke="none" stroke-width="0" fill-opacity="0.8"/>
<circle cx="149.5" cy="233.9" r="2.7" fill="#4f8dca" stroke="none" stroke-width="0" fill-opacity="0.8"/>
<circle cx="157.7" cy="233.4" r="2.7" fill="#4f8dca" stroke="none" stroke-width="0" fill-opacity="0.8"/>
<circle cx="164.9" cy="231.4" r="2.7" fill="#4f8dca" stroke="none" stroke-width="0" fill-opacity="0.8"/>
<circle cx="165.4" cy="235.4" r="2.7" fill="#4f8dca" stroke="none" stroke-width="0" fill-opacity="0.8"/>
<circle cx="157.7" cy="238.5" r="2.7" fill="#4f8dca" stroke="none" stroke-width="0" fill-opacity="0.8"/>
<circle cx="153.6" cy="240.5" r="2.7" fill="#4f8dca" stroke="none" stroke-width="0" fill-opacity="0.8"/>
<circle cx="173" cy="238" r="2.7" fill="#4f8dca" stroke="none" stroke-width="0" fill-opacity="0.8"/>
<circle cx="181.2" cy="233.4" r="2.7" fill="#4f8dca" stroke="none" stroke-width="0" fill-opacity="0.8"/>
<circle cx="161.3" cy="239" r="2.7" fill="#4f8dca" stroke="none" stroke-width="0" fill-opacity="0.8"/>
<circle cx="224.5" cy="217.8" r="2.7" fill="#5f79b0" stroke="none" stroke-width="0" fill-opacity="0.8"/>
<circle cx="232.1" cy="220.2" r="2.7" fill="#5f79b0" stroke="none" stroke-width="0" fill-opacity="0.8"/>
<circle cx="240.3" cy="221.4" r="2.7" fill="#5f79b0" stroke="none" stroke-width="0" fill-opacity="0.8"/>
<circle cx="248.5" cy="222.5" r="2.7" fill="#5f79b0" stroke="none" stroke-width="0" fill-opacity="0.8"/>
<circle cx="256.1" cy="221.4" r="2.7" fill="#5f79b0" stroke="none" stroke-width="0" fill-opacity="0.8"/>
<circle cx="216.4" cy="222.5" r="2.7" fill="#5f79b0" stroke="none" stroke-width="0" fill-opacity="0.8"/>
<circle cx="219.3" cy="226" r="2.7" fill="#5f79b0" stroke="none" stroke-width="0" fill-opacity="0.8"/>
<circle cx="228" cy="225.4" r="2.7" fill="#5f79b0" stroke="none" stroke-width="0" fill-opacity="0.8"/>
<circle cx="244.4" cy="226" r="2.7" fill="#5f79b0" stroke="none" stroke-width="0" fill-opacity="0.8"/>
<circle cx="251.4" cy="226" r="2.7" fill="#5f79b0" stroke="none" stroke-width="0" fill-opacity="0.8"/>
<circle cx="259.6" cy="226.6" r="2.7" fill="#5f79b0" stroke="none" stroke-width="0" fill-opacity="0.8"/>
<circle cx="228" cy="233.6" r="2.7" fill="#5f79b0" stroke="none" stroke-width="0" fill-opacity="0.8"/>
<circle cx="236.2" cy="236" r="2.7" fill="#5f79b0" stroke="none" stroke-width="0" fill-opacity="0.8"/>
<circle cx="244.4" cy="235.4" r="2.7" fill="#5f79b0" stroke="none" stroke-width="0" fill-opacity="0.8"/>
<circle cx="236.2" cy="239.5" r="2.7" fill="#5f79b0" stroke="none" stroke-width="0" fill-opacity="0.8"/>
<circle cx="220.4" cy="229" r="2.7" fill="#5f79b0" stroke="none" stroke-width="0" fill-opacity="0.8"/>
<circle cx="236.2" cy="229" r="2.7" fill="#5f79b0" stroke="none" stroke-width="0" fill-opacity="0.8"/>
<circle cx="298.7" cy="220" r="2.7" fill="#ef5560" stroke="none" stroke-width="0" fill-opacity="0.8"/>
<circle cx="320.9" cy="219.6" r="2.7" fill="#ef5560" stroke="none" stroke-width="0" fill-opacity="0.8"/>
<circle cx="332" cy="219" r="2.7" fill="#ef5560" stroke="none" stroke-width="0" fill-opacity="0.8"/>
<circle cx="309.8" cy="222.5" r="2.7" fill="#ef5560" stroke="none" stroke-width="0" fill-opacity="0.8"/>
<circle cx="337.2" cy="223.1" r="2.7" fill="#ef5560" stroke="none" stroke-width="0" fill-opacity="0.8"/>
<circle cx="293.4" cy="226.6" r="2.7" fill="#ef5560" stroke="none" stroke-width="0" fill-opacity="0.8"/>
<circle cx="303.9" cy="227.8" r="2.7" fill="#ef5560" stroke="none" stroke-width="0" fill-opacity="0.8"/>
<circle cx="326.1" cy="226.6" r="2.7" fill="#ef5560" stroke="none" stroke-width="0" fill-opacity="0.8"/>
<circle cx="293.4" cy="231.3" r="2.7" fill="#ef5560" stroke="none" stroke-width="0" fill-opacity="0.8"/>
<circle cx="303.9" cy="233.6" r="2.7" fill="#ef5560" stroke="none" stroke-width="0" fill-opacity="0.8"/>
<circle cx="326.1" cy="231.3" r="2.7" fill="#ef5560" stroke="none" stroke-width="0" fill-opacity="0.8"/>
<circle cx="337.2" cy="231.3" r="2.7" fill="#ef5560" stroke="none" stroke-width="0" fill-opacity="0.8"/>
<circle cx="337.2" cy="234.8" r="2.7" fill="#ef5560" stroke="none" stroke-width="0" fill-opacity="0.8"/>
<circle cx="293.4" cy="237.1" r="2.7" fill="#ef5560" stroke="none" stroke-width="0" fill-opacity="0.8"/>
<circle cx="315" cy="235.9" r="2.7" fill="#ef5560" stroke="none" stroke-width="0" fill-opacity="0.8"/>
<circle cx="326.7" cy="236.5" r="2.7" fill="#ef5560" stroke="none" stroke-width="0" fill-opacity="0.8"/>
<circle cx="315" cy="239.5" r="2.7" fill="#ef5560" stroke="none" stroke-width="0" fill-opacity="0.8"/>
<circle cx="315" cy="229" r="2.7" fill="#ef5560" stroke="none" stroke-width="0" fill-opacity="0.8"/>
<circle cx="386.3" cy="211.7" r="2.7" fill="#ac2b55" stroke="none" stroke-width="0" fill-opacity="0.8"/>
<circle cx="394.5" cy="211.1" r="2.7" fill="#ac2b55" stroke="none" stroke-width="0" fill-opacity="0.8"/>
<circle cx="402" cy="211.7" r="2.7" fill="#ac2b55" stroke="none" stroke-width="0" fill-opacity="0.8"/>
<circle cx="409.6" cy="214" r="2.7" fill="#ac2b55" stroke="none" stroke-width="0" fill-opacity="0.8"/>
<circle cx="417.8" cy="212.8" r="2.7" fill="#ac2b55" stroke="none" stroke-width="0" fill-opacity="0.8"/>
<circle cx="369.9" cy="216.4" r="2.7" fill="#ac2b55" stroke="none" stroke-width="0" fill-opacity="0.8"/>
<circle cx="378.1" cy="216.9" r="2.7" fill="#ac2b55" stroke="none" stroke-width="0" fill-opacity="0.8"/>
<circle cx="386.3" cy="215.2" r="2.7" fill="#ac2b55" stroke="none" stroke-width="0" fill-opacity="0.8"/>
<circle cx="401.5" cy="215.2" r="2.7" fill="#ac2b55" stroke="none" stroke-width="0" fill-opacity="0.8"/>
<circle cx="378.1" cy="221" r="2.7" fill="#ac2b55" stroke="none" stroke-width="0" fill-opacity="0.8"/>
<circle cx="386.3" cy="221.6" r="2.7" fill="#ac2b55" stroke="none" stroke-width="0" fill-opacity="0.8"/>
<circle cx="402" cy="219.9" r="2.7" fill="#ac2b55" stroke="none" stroke-width="0" fill-opacity="0.8"/>
<circle cx="410.2" cy="222.2" r="2.7" fill="#ac2b55" stroke="none" stroke-width="0" fill-opacity="0.8"/>
<circle cx="382.2" cy="224.5" r="2.7" fill="#ac2b55" stroke="none" stroke-width="0" fill-opacity="0.8"/>
<circle cx="389.8" cy="226.3" r="2.7" fill="#ac2b55" stroke="none" stroke-width="0" fill-opacity="0.8"/>
<circle cx="398" cy="228" r="2.7" fill="#ac2b55" stroke="none" stroke-width="0" fill-opacity="0.8"/>
<circle cx="406.1" cy="227.4" r="2.7" fill="#ac2b55" stroke="none" stroke-width="0" fill-opacity="0.8"/>
<circle cx="393.9" cy="231.5" r="2.7" fill="#ac2b55" stroke="none" stroke-width="0" fill-opacity="0.8"/>
<line x1="78.5" y1="241.6" x2="78.5" y2="249.8" stroke="#5a5a5a" stroke-width="1.1"/>
<line x1="78.5" y1="260.3" x2="78.5" y2="267.5" stroke="#5a5a5a" stroke-width="1.1"/>
<line x1="64.8" y1="241.6" x2="92.2" y2="241.6" stroke="#5a5a5a" stroke-width="1.1"/>
<line x1="64.8" y1="267.5" x2="92.2" y2="267.5" stroke="#5a5a5a" stroke-width="1.1"/>
<rect x="50.4" y="249.8" width="56.2" height="10.5" fill="none" stroke="#5a5a5a" stroke-width="1.1"/>
<line x1="50.4" y1="253.4" x2="106.6" y2="253.4" stroke="#5a5a5a" stroke-width="1.1"/>
<rect x="76.3" y="252.6" width="4.4" height="4.4" fill="#ffffff" stroke="#4a4a4a" stroke-width="0.8" fill-opacity="0.15"/>
<line x1="157.4" y1="219.8" x2="157.4" y2="224.4" stroke="#3f80c4" stroke-width="1.1"/>
<line x1="157.4" y1="236.3" x2="157.4" y2="240.5" stroke="#3f80c4" stroke-width="1.1"/>
<line x1="143.7" y1="219.8" x2="171.1" y2="219.8" stroke="#3f80c4" stroke-width="1.1"/>
<line x1="143.7" y1="240.5" x2="171.1" y2="240.5" stroke="#3f80c4" stroke-width="1.1"/>
<rect x="129.3" y="224.4" width="56.2" height="11.9" fill="none" stroke="#3f80c4" stroke-width="1.1"/>
<line x1="129.3" y1="233.2" x2="185.5" y2="233.2" stroke="#3f80c4" stroke-width="1.1"/>
<rect x="155.2" y="227.6" width="4.4" height="4.4" fill="#ffffff" stroke="#4a4a4a" stroke-width="0.8" fill-opacity="0.15"/>
<line x1="236.4" y1="218.8" x2="236.4" y2="223.1" stroke="#5570aa" stroke-width="1.1"/>
<line x1="236.4" y1="230.5" x2="236.4" y2="239.5" stroke="#5570aa" stroke-width="1.1"/>
<line x1="222.7" y1="218.8" x2="250.1" y2="218.8" stroke="#5570aa" stroke-width="1.1"/>
<line x1="222.7" y1="239.5" x2="250.1" y2="239.5" stroke="#5570aa" stroke-width="1.1"/>
<rect x="208.3" y="223.1" width="56.2" height="7.4" fill="none" stroke="#5570aa" stroke-width="1.1"/>
<line x1="208.3" y1="227.2" x2="264.5" y2="227.2" stroke="#5570aa" stroke-width="1.1"/>
<rect x="234.2" y="225.6" width="4.4" height="4.4" fill="#ffffff" stroke="#4a4a4a" stroke-width="0.8" fill-opacity="0.15"/>
<line x1="315.3" y1="219.2" x2="315.3" y2="225.4" stroke="#ec4450" stroke-width="1.1"/>
<line x1="315.3" y1="233.6" x2="315.3" y2="238.9" stroke="#ec4450" stroke-width="1.1"/>
<line x1="301.6" y1="219.2" x2="329" y2="219.2" stroke="#ec4450" stroke-width="1.1"/>
<line x1="301.6" y1="238.9" x2="329" y2="238.9" stroke="#ec4450" stroke-width="1.1"/>
<rect x="287.2" y="225.4" width="56.2" height="8.2" fill="none" stroke="#ec4450" stroke-width="1.1"/>
<line x1="287.2" y1="231" x2="343.4" y2="231" stroke="#ec4450" stroke-width="1.1"/>
<rect x="313.1" y="227.3" width="4.4" height="4.4" fill="#ffffff" stroke="#4a4a4a" stroke-width="0.8" fill-opacity="0.15"/>
<line x1="394.2" y1="212.3" x2="394.2" y2="214.2" stroke="#a82452" stroke-width="1.1"/>
<line x1="394.2" y1="224.5" x2="394.2" y2="231.3" stroke="#a82452" stroke-width="1.1"/>
<line x1="380.5" y1="212.3" x2="407.9" y2="212.3" stroke="#a82452" stroke-width="1.1"/>
<line x1="380.5" y1="231.3" x2="407.9" y2="231.3" stroke="#a82452" stroke-width="1.1"/>
<rect x="366.1" y="214.2" width="56.2" height="10.3" fill="none" stroke="#a82452" stroke-width="1.1"/>
<line x1="366.1" y1="218.3" x2="422.3" y2="218.3" stroke="#a82452" stroke-width="1.1"/>
<rect x="392" y="218.2" width="4.4" height="4.4" fill="#ffffff" stroke="#4a4a4a" stroke-width="0.8" fill-opacity="0.15"/>
<rect x="38.9" y="203.4" width="394.9" height="70.3" fill="none" stroke="#000" stroke-width="1.1"/>
<line x1="36.1" y1="203.4" x2="38.9" y2="203.4" stroke="#000" stroke-width="0.9"/>
<text x="33.7" y="206.4" font-size="8.5" text-anchor="end" fill="#000" font-weight="normal">1.20</text>
<line x1="36.1" y1="223.53" x2="38.9" y2="223.53" stroke="#000" stroke-width="0.9"/>
<text x="33.7" y="226.53" font-size="8.5" text-anchor="end" fill="#000" font-weight="normal">1.18</text>
<line x1="36.1" y1="243.67" x2="38.9" y2="243.67" stroke="#000" stroke-width="0.9"/>
<text x="33.7" y="246.67" font-size="8.5" text-anchor="end" fill="#000" font-weight="normal">1.16</text>
<line x1="36.1" y1="263.8" x2="38.9" y2="263.8" stroke="#000" stroke-width="0.9"/>
<text x="33.7" y="266.8" font-size="8.5" text-anchor="end" fill="#000" font-weight="normal">1.14</text>
<line x1="37.3" y1="213.47" x2="38.9" y2="213.47" stroke="#000" stroke-width="0.9"/>
<line x1="37.3" y1="233.6" x2="38.9" y2="233.6" stroke="#000" stroke-width="0.9"/>
<line x1="37.3" y1="253.73" x2="38.9" y2="253.73" stroke="#000" stroke-width="0.9"/>
<line x1="37.3" y1="273.87" x2="38.9" y2="273.87" stroke="#000" stroke-width="0.9"/>
<circle cx="73.1" cy="306.3" r="2.7" fill="#6b6b6b" stroke="none" stroke-width="0" fill-opacity="0.8"/>
<circle cx="84.2" cy="308.2" r="2.7" fill="#6b6b6b" stroke="none" stroke-width="0" fill-opacity="0.8"/>
<circle cx="56.4" cy="310.8" r="2.7" fill="#6b6b6b" stroke="none" stroke-width="0" fill-opacity="0.8"/>
<circle cx="67.2" cy="310.1" r="2.7" fill="#6b6b6b" stroke="none" stroke-width="0" fill-opacity="0.8"/>
<circle cx="89.4" cy="311.4" r="2.7" fill="#6b6b6b" stroke="none" stroke-width="0" fill-opacity="0.8"/>
<circle cx="100.5" cy="310.8" r="2.7" fill="#6b6b6b" stroke="none" stroke-width="0" fill-opacity="0.8"/>
<circle cx="62.1" cy="316.5" r="2.7" fill="#6b6b6b" stroke="none" stroke-width="0" fill-opacity="0.8"/>
<circle cx="73.1" cy="316.5" r="2.7" fill="#6b6b6b" stroke="none" stroke-width="0" fill-opacity="0.8"/>
<circle cx="84.2" cy="315.9" r="2.7" fill="#6b6b6b" stroke="none" stroke-width="0" fill-opacity="0.8"/>
<circle cx="95.1" cy="315.3" r="2.7" fill="#6b6b6b" stroke="none" stroke-width="0" fill-opacity="0.8"/>
<circle cx="62.1" cy="322.3" r="2.7" fill="#6b6b6b" stroke="none" stroke-width="0" fill-opacity="0.8"/>
<circle cx="73.1" cy="321" r="2.7" fill="#6b6b6b" stroke="none" stroke-width="0" fill-opacity="0.8"/>
<circle cx="84.2" cy="322.3" r="2.7" fill="#6b6b6b" stroke="none" stroke-width="0" fill-opacity="0.8"/>
<circle cx="95.1" cy="321" r="2.7" fill="#6b6b6b" stroke="none" stroke-width="0" fill-opacity="0.8"/>
<circle cx="67.6" cy="328.7" r="2.7" fill="#6b6b6b" stroke="none" stroke-width="0" fill-opacity="0.8"/>
<circle cx="89.4" cy="328.1" r="2.7" fill="#6b6b6b" stroke="none" stroke-width="0" fill-opacity="0.8"/>
<circle cx="78.5" cy="331.3" r="2.7" fill="#6b6b6b" stroke="none" stroke-width="0" fill-opacity="0.8"/>
<circle cx="78.5" cy="333.8" r="2.7" fill="#6b6b6b" stroke="none" stroke-width="0" fill-opacity="0.8"/>
<circle cx="78.5" cy="326.2" r="2.7" fill="#6b6b6b" stroke="none" stroke-width="0" fill-opacity="0.8"/>
<circle cx="153.1" cy="303.7" r="2.7" fill="#4f8dca" stroke="none" stroke-width="0" fill-opacity="0.8"/>
<circle cx="162.1" cy="303.1" r="2.7" fill="#4f8dca" stroke="none" stroke-width="0" fill-opacity="0.8"/>
<circle cx="147.6" cy="306.3" r="2.7" fill="#4f8dca" stroke="none" stroke-width="0" fill-opacity="0.8"/>
<circle cx="166.8" cy="305.6" r="2.7" fill="#4f8dca" stroke="none" stroke-width="0" fill-opacity="0.8"/>
<circle cx="134.1" cy="310.5" r="2.7" fill="#4f8dca" stroke="none" stroke-width="0" fill-opacity="0.8"/>
<circle cx="143.3" cy="311.2" r="2.7" fill="#4f8dca" stroke="none" stroke-width="0" fill-opacity="0.8"/>
<circle cx="171.3" cy="310.5" r="2.7" fill="#4f8dca" stroke="none" stroke-width="0" fill-opacity="0.8"/>
<circle cx="180.5" cy="310.5" r="2.7" fill="#4f8dca" stroke="none" stroke-width="0" fill-opacity="0.8"/>
<circle cx="152.7" cy="314" r="2.7" fill="#4f8dca" stroke="none" stroke-width="0" fill-opacity="0.8"/>
<circle cx="162.1" cy="314" r="2.7" fill="#4f8dca" stroke="none" stroke-width="0" fill-opacity="0.8"/>
<circle cx="152.7" cy="318.5" r="2.7" fill="#4f8dca" stroke="none" stroke-width="0" fill-opacity="0.8"/>
<circle cx="180.5" cy="318.5" r="2.7" fill="#4f8dca" stroke="none" stroke-width="0" fill-opacity="0.8"/>
<circle cx="134.1" cy="322.3" r="2.7" fill="#4f8dca" stroke="none" stroke-width="0" fill-opacity="0.8"/>
<circle cx="143.7" cy="321.7" r="2.7" fill="#4f8dca" stroke="none" stroke-width="0" fill-opacity="0.8"/>
<circle cx="157.2" cy="324.2" r="2.7" fill="#4f8dca" stroke="none" stroke-width="0" fill-opacity="0.8"/>
<circle cx="171.3" cy="321" r="2.7" fill="#4f8dca" stroke="none" stroke-width="0" fill-opacity="0.8"/>
<circle cx="162.3" cy="321.7" r="2.7" fill="#4f8dca" stroke="none" stroke-width="0" fill-opacity="0.8"/>
<circle cx="228.2" cy="295.4" r="2.7" fill="#5f79b0" stroke="none" stroke-width="0" fill-opacity="0.8"/>
<circle cx="251.9" cy="296" r="2.7" fill="#5f79b0" stroke="none" stroke-width="0" fill-opacity="0.8"/>
<circle cx="220.5" cy="298.6" r="2.7" fill="#5f79b0" stroke="none" stroke-width="0" fill-opacity="0.8"/>
<circle cx="236.5" cy="296.7" r="2.7" fill="#5f79b0" stroke="none" stroke-width="0" fill-opacity="0.8"/>
<circle cx="244.2" cy="298" r="2.7" fill="#5f79b0" stroke="none" stroke-width="0" fill-opacity="0.8"/>
<circle cx="220.5" cy="301.8" r="2.7" fill="#5f79b0" stroke="none" stroke-width="0" fill-opacity="0.8"/>
<circle cx="228.2" cy="301.2" r="2.7" fill="#5f79b0" stroke="none" stroke-width="0" fill-opacity="0.8"/>
<circle cx="236.5" cy="300.5" r="2.7" fill="#5f79b0" stroke="none" stroke-width="0" fill-opacity="0.8"/>
<circle cx="244.2" cy="303.1" r="2.7" fill="#5f79b0" stroke="none" stroke-width="0" fill-opacity="0.8"/>
<circle cx="251.9" cy="301.2" r="2.7" fill="#5f79b0" stroke="none" stroke-width="0" fill-opacity="0.8"/>
<circle cx="212.8" cy="303.1" r="2.7" fill="#5f79b0" stroke="none" stroke-width="0" fill-opacity="0.8"/>
<circle cx="259.6" cy="304.4" r="2.7" fill="#5f79b0" stroke="none" stroke-width="0" fill-opacity="0.8"/>
<circle cx="236.5" cy="306.9" r="2.7" fill="#5f79b0" stroke="none" stroke-width="0" fill-opacity="0.8"/>
<circle cx="224.4" cy="310.8" r="2.7" fill="#5f79b0" stroke="none" stroke-width="0" fill-opacity="0.8"/>
<circle cx="240.4" cy="310.1" r="2.7" fill="#5f79b0" stroke="none" stroke-width="0" fill-opacity="0.8"/>
<circle cx="248.1" cy="310.8" r="2.7" fill="#5f79b0" stroke="none" stroke-width="0" fill-opacity="0.8"/>
<circle cx="232.1" cy="314" r="2.7" fill="#5f79b0" stroke="none" stroke-width="0" fill-opacity="0.8"/>
<circle cx="240.4" cy="314.4" r="2.7" fill="#5f79b0" stroke="none" stroke-width="0" fill-opacity="0.8"/>
<circle cx="232.1" cy="316.5" r="2.7" fill="#5f79b0" stroke="none" stroke-width="0" fill-opacity="0.8"/>
<circle cx="236.5" cy="319.1" r="2.7" fill="#5f79b0" stroke="none" stroke-width="0" fill-opacity="0.8"/>
<circle cx="291.5" cy="295.4" r="2.7" fill="#ef5560" stroke="none" stroke-width="0" fill-opacity="0.8"/>
<circle cx="299.5" cy="297.3" r="2.7" fill="#ef5560" stroke="none" stroke-width="0" fill-opacity="0.8"/>
<circle cx="307.2" cy="299.2" r="2.7" fill="#ef5560" stroke="none" stroke-width="0" fill-opacity="0.8"/>
<circle cx="315.3" cy="294.7" r="2.7" fill="#ef5560" stroke="none" stroke-width="0" fill-opacity="0.8"/>
<circle cx="322.9" cy="297.3" r="2.7" fill="#ef5560" stroke="none" stroke-width="0" fill-opacity="0.8"/>
<circle cx="331.3" cy="297.3" r="2.7" fill="#ef5560" stroke="none" stroke-width="0" fill-opacity="0.8"/>
<circle cx="339" cy="295.4" r="2.7" fill="#ef5560" stroke="none" stroke-width="0" fill-opacity="0.8"/>
<circle cx="315.3" cy="303.1" r="2.7" fill="#ef5560" stroke="none" stroke-width="0" fill-opacity="0.8"/>
<circle cx="299.5" cy="308.8" r="2.7" fill="#ef5560" stroke="none" stroke-width="0" fill-opacity="0.8"/>
<circle cx="307.2" cy="307.2" r="2.7" fill="#ef5560" stroke="none" stroke-width="0" fill-opacity="0.8"/>
<circle cx="315.3" cy="308.8" r="2.7" fill="#ef5560" stroke="none" stroke-width="0" fill-opacity="0.8"/>
<circle cx="322.9" cy="306.9" r="2.7" fill="#ef5560" stroke="none" stroke-width="0" fill-opacity="0.8"/>
<circle cx="322.9" cy="310.8" r="2.7" fill="#ef5560" stroke="none" stroke-width="0" fill-opacity="0.8"/>
<circle cx="331.3" cy="308.8" r="2.7" fill="#ef5560" stroke="none" stroke-width="0" fill-opacity="0.8"/>
<circle cx="307.2" cy="313.6" r="2.7" fill="#ef5560" stroke="none" stroke-width="0" fill-opacity="0.8"/>
<circle cx="315.3" cy="317.8" r="2.7" fill="#ef5560" stroke="none" stroke-width="0" fill-opacity="0.8"/>
<circle cx="369.6" cy="287.8" r="2.7" fill="#ac2b55" stroke="none" stroke-width="0" fill-opacity="0.8"/>
<circle cx="376.7" cy="287.8" r="2.7" fill="#ac2b55" stroke="none" stroke-width="0" fill-opacity="0.8"/>
<circle cx="383.7" cy="287.8" r="2.7" fill="#ac2b55" stroke="none" stroke-width="0" fill-opacity="0.8"/>
<circle cx="390.8" cy="287.8" r="2.7" fill="#ac2b55" stroke="none" stroke-width="0" fill-opacity="0.8"/>
<circle cx="404.2" cy="287.8" r="2.7" fill="#ac2b55" stroke="none" stroke-width="0" fill-opacity="0.8"/>
<circle cx="411.3" cy="287.8" r="2.7" fill="#ac2b55" stroke="none" stroke-width="0" fill-opacity="0.8"/>
<circle cx="418.3" cy="287.8" r="2.7" fill="#ac2b55" stroke="none" stroke-width="0" fill-opacity="0.8"/>
<circle cx="369.6" cy="291" r="2.7" fill="#ac2b55" stroke="none" stroke-width="0" fill-opacity="0.8"/>
<circle cx="376.7" cy="291" r="2.7" fill="#ac2b55" stroke="none" stroke-width="0" fill-opacity="0.8"/>
<circle cx="383.7" cy="291" r="2.7" fill="#ac2b55" stroke="none" stroke-width="0" fill-opacity="0.8"/>
<circle cx="390.8" cy="291" r="2.7" fill="#ac2b55" stroke="none" stroke-width="0" fill-opacity="0.8"/>
<circle cx="397.8" cy="291" r="2.7" fill="#ac2b55" stroke="none" stroke-width="0" fill-opacity="0.8"/>
<circle cx="404.2" cy="291" r="2.7" fill="#ac2b55" stroke="none" stroke-width="0" fill-opacity="0.8"/>
<circle cx="411.3" cy="291" r="2.7" fill="#ac2b55" stroke="none" stroke-width="0" fill-opacity="0.8"/>
<circle cx="418.3" cy="291" r="2.7" fill="#ac2b55" stroke="none" stroke-width="0" fill-opacity="0.8"/>
<circle cx="386.9" cy="294.9" r="2.7" fill="#ac2b55" stroke="none" stroke-width="0" fill-opacity="0.8"/>
<circle cx="394" cy="294.9" r="2.7" fill="#ac2b55" stroke="none" stroke-width="0" fill-opacity="0.8"/>
<circle cx="408.1" cy="294.9" r="2.7" fill="#ac2b55" stroke="none" stroke-width="0" fill-opacity="0.8"/>
<circle cx="415.1" cy="294.9" r="2.7" fill="#ac2b55" stroke="none" stroke-width="0" fill-opacity="0.8"/>
<circle cx="390.8" cy="301.9" r="2.7" fill="#ac2b55" stroke="none" stroke-width="0" fill-opacity="0.8"/>
<circle cx="397.8" cy="301.9" r="2.7" fill="#ac2b55" stroke="none" stroke-width="0" fill-opacity="0.8"/>
<circle cx="390.8" cy="305.8" r="2.7" fill="#ac2b55" stroke="none" stroke-width="0" fill-opacity="0.8"/>
<circle cx="397.8" cy="305.1" r="2.7" fill="#ac2b55" stroke="none" stroke-width="0" fill-opacity="0.8"/>
<line x1="78.5" y1="306.9" x2="78.5" y2="311.2" stroke="#5a5a5a" stroke-width="1.1"/>
<line x1="78.5" y1="324.5" x2="78.5" y2="334.5" stroke="#5a5a5a" stroke-width="1.1"/>
<line x1="64.8" y1="306.9" x2="92.2" y2="306.9" stroke="#5a5a5a" stroke-width="1.1"/>
<line x1="64.8" y1="334.5" x2="92.2" y2="334.5" stroke="#5a5a5a" stroke-width="1.1"/>
<rect x="50.4" y="311.2" width="56.2" height="13.3" fill="none" stroke="#5a5a5a" stroke-width="1.1"/>
<line x1="50.4" y1="317.6" x2="106.6" y2="317.6" stroke="#5a5a5a" stroke-width="1.1"/>
<rect x="76.3" y="318.6" width="4.4" height="4.4" fill="#ffffff" stroke="#4a4a4a" stroke-width="0.8" fill-opacity="0.15"/>
<line x1="157.4" y1="304" x2="157.4" y2="308.9" stroke="#3f80c4" stroke-width="1.1"/>
<line x1="157.4" y1="321.3" x2="157.4" y2="322.6" stroke="#3f80c4" stroke-width="1.1"/>
<line x1="143.7" y1="304" x2="171.1" y2="304" stroke="#3f80c4" stroke-width="1.1"/>
<line x1="143.7" y1="322.6" x2="171.1" y2="322.6" stroke="#3f80c4" stroke-width="1.1"/>
<rect x="129.3" y="308.9" width="56.2" height="12.4" fill="none" stroke="#3f80c4" stroke-width="1.1"/>
<line x1="129.3" y1="312.3" x2="185.5" y2="312.3" stroke="#3f80c4" stroke-width="1.1"/>
<rect x="155.2" y="311.8" width="4.4" height="4.4" fill="#ffffff" stroke="#4a4a4a" stroke-width="0.8" fill-opacity="0.15"/>
<line x1="236.4" y1="296.4" x2="236.4" y2="300.3" stroke="#5570aa" stroke-width="1.1"/>
<line x1="236.4" y1="311.2" x2="236.4" y2="319.1" stroke="#5570aa" stroke-width="1.1"/>
<line x1="222.7" y1="296.4" x2="250.1" y2="296.4" stroke="#5570aa" stroke-width="1.1"/>
<line x1="222.7" y1="319.1" x2="250.1" y2="319.1" stroke="#5570aa" stroke-width="1.1"/>
<rect x="208.3" y="300.3" width="56.2" height="10.9" fill="none" stroke="#5570aa" stroke-width="1.1"/>
<line x1="208.3" y1="301.6" x2="264.5" y2="301.6" stroke="#5570aa" stroke-width="1.1"/>
<rect x="234.2" y="304.1" width="4.4" height="4.4" fill="#ffffff" stroke="#4a4a4a" stroke-width="0.8" fill-opacity="0.15"/>
<line x1="315.3" y1="294.5" x2="315.3" y2="297.1" stroke="#ec4450" stroke-width="1.1"/>
<line x1="315.3" y1="309.7" x2="315.3" y2="317.6" stroke="#ec4450" stroke-width="1.1"/>
<line x1="301.6" y1="294.5" x2="329" y2="294.5" stroke="#ec4450" stroke-width="1.1"/>
<line x1="301.6" y1="317.6" x2="329" y2="317.6" stroke="#ec4450" stroke-width="1.1"/>
<rect x="287.2" y="297.1" width="56.2" height="12.6" fill="none" stroke="#ec4450" stroke-width="1.1"/>
<line x1="287.2" y1="308" x2="343.4" y2="308" stroke="#ec4450" stroke-width="1.1"/>
<rect x="313.1" y="302.2" width="4.4" height="4.4" fill="#ffffff" stroke="#4a4a4a" stroke-width="0.8" fill-opacity="0.15"/>
<line x1="394.2" y1="287.2" x2="394.2" y2="288.8" stroke="#a82452" stroke-width="1.1"/>
<line x1="394.2" y1="295.3" x2="394.2" y2="305.1" stroke="#a82452" stroke-width="1.1"/>
<line x1="380.5" y1="287.2" x2="407.9" y2="287.2" stroke="#a82452" stroke-width="1.1"/>
<line x1="380.5" y1="305.1" x2="407.9" y2="305.1" stroke="#a82452" stroke-width="1.1"/>
<rect x="366.1" y="288.8" width="56.2" height="6.5" fill="none" stroke="#a82452" stroke-width="1.1"/>
<line x1="366.1" y1="293.3" x2="422.3" y2="293.3" stroke="#a82452" stroke-width="1.1"/>
<rect x="392" y="290.8" width="4.4" height="4.4" fill="#ffffff" stroke="#4a4a4a" stroke-width="0.8" fill-opacity="0.15"/>
<rect x="38.9" y="279.3" width="394.9" height="69.8" fill="none" stroke="#000" stroke-width="1.1"/>
<line x1="36.1" y1="290.3" x2="38.9" y2="290.3" stroke="#000" stroke-width="0.9"/>
<text x="33.7" y="293.3" font-size="8.5" text-anchor="end" fill="#000" font-weight="normal">26</text>
<line x1="36.1" y1="313.85" x2="38.9" y2="313.85" stroke="#000" stroke-width="0.9"/>
<text x="33.7" y="316.85" font-size="8.5" text-anchor="end" fill="#000" font-weight="normal">25</text>
<line x1="36.1" y1="337.4" x2="38.9" y2="337.4" stroke="#000" stroke-width="0.9"/>
<text x="33.7" y="340.4" font-size="8.5" text-anchor="end" fill="#000" font-weight="normal">24</text>
<line x1="37.3" y1="302.07" x2="38.9" y2="302.07" stroke="#000" stroke-width="0.9"/>
<line x1="37.3" y1="325.62" x2="38.9" y2="325.62" stroke="#000" stroke-width="0.9"/>
<line x1="37.3" y1="349.17" x2="38.9" y2="349.17" stroke="#000" stroke-width="0.9"/>
<circle cx="78.5" cy="394.1" r="2.7" fill="#6b6b6b" stroke="none" stroke-width="0" fill-opacity="0.8"/>
<circle cx="89.4" cy="395.4" r="2.7" fill="#6b6b6b" stroke="none" stroke-width="0" fill-opacity="0.8"/>
<circle cx="61.8" cy="399.9" r="2.7" fill="#6b6b6b" stroke="none" stroke-width="0" fill-opacity="0.8"/>
<circle cx="67.6" cy="399.2" r="2.7" fill="#6b6b6b" stroke="none" stroke-width="0" fill-opacity="0.8"/>
<circle cx="73.1" cy="400.5" r="2.7" fill="#6b6b6b" stroke="none" stroke-width="0" fill-opacity="0.8"/>
<circle cx="84.2" cy="403.1" r="2.7" fill="#6b6b6b" stroke="none" stroke-width="0" fill-opacity="0.8"/>
<circle cx="89.4" cy="403.7" r="2.7" fill="#6b6b6b" stroke="none" stroke-width="0" fill-opacity="0.8"/>
<circle cx="95.1" cy="403.5" r="2.7" fill="#6b6b6b" stroke="none" stroke-width="0" fill-opacity="0.8"/>
<circle cx="78.5" cy="405" r="2.7" fill="#6b6b6b" stroke="none" stroke-width="0" fill-opacity="0.8"/>
<circle cx="56.4" cy="406.9" r="2.7" fill="#6b6b6b" stroke="none" stroke-width="0" fill-opacity="0.8"/>
<circle cx="67.6" cy="407.6" r="2.7" fill="#6b6b6b" stroke="none" stroke-width="0" fill-opacity="0.8"/>
<circle cx="78.5" cy="408.8" r="2.7" fill="#6b6b6b" stroke="none" stroke-width="0" fill-opacity="0.8"/>
<circle cx="100.9" cy="406.9" r="2.7" fill="#6b6b6b" stroke="none" stroke-width="0" fill-opacity="0.8"/>
<circle cx="56.4" cy="410.8" r="2.7" fill="#6b6b6b" stroke="none" stroke-width="0" fill-opacity="0.8"/>
<circle cx="67.6" cy="410.1" r="2.7" fill="#6b6b6b" stroke="none" stroke-width="0" fill-opacity="0.8"/>
<circle cx="89.4" cy="410.1" r="2.7" fill="#6b6b6b" stroke="none" stroke-width="0" fill-opacity="0.8"/>
<circle cx="100.9" cy="414" r="2.7" fill="#6b6b6b" stroke="none" stroke-width="0" fill-opacity="0.8"/>
<circle cx="73.1" cy="415.3" r="2.7" fill="#6b6b6b" stroke="none" stroke-width="0" fill-opacity="0.8"/>
<circle cx="84.2" cy="414.6" r="2.7" fill="#6b6b6b" stroke="none" stroke-width="0" fill-opacity="0.8"/>
<circle cx="143.7" cy="385.1" r="2.7" fill="#4f8dca" stroke="none" stroke-width="0" fill-opacity="0.8"/>
<circle cx="153.1" cy="383.2" r="2.7" fill="#4f8dca" stroke="none" stroke-width="0" fill-opacity="0.8"/>
<circle cx="162.1" cy="383.2" r="2.7" fill="#4f8dca" stroke="none" stroke-width="0" fill-opacity="0.8"/>
<circle cx="153.1" cy="388.3" r="2.7" fill="#4f8dca" stroke="none" stroke-width="0" fill-opacity="0.8"/>
<circle cx="162.1" cy="387" r="2.7" fill="#4f8dca" stroke="none" stroke-width="0" fill-opacity="0.8"/>
<circle cx="171.3" cy="388.6" r="2.7" fill="#4f8dca" stroke="none" stroke-width="0" fill-opacity="0.8"/>
<circle cx="157.2" cy="389.6" r="2.7" fill="#4f8dca" stroke="none" stroke-width="0" fill-opacity="0.8"/>
<circle cx="153.1" cy="393.5" r="2.7" fill="#4f8dca" stroke="none" stroke-width="0" fill-opacity="0.8"/>
<circle cx="134.4" cy="395.8" r="2.7" fill="#4f8dca" stroke="none" stroke-width="0" fill-opacity="0.8"/>
<circle cx="143.7" cy="396.7" r="2.7" fill="#4f8dca" stroke="none" stroke-width="0" fill-opacity="0.8"/>
<circle cx="162.3" cy="395.8" r="2.7" fill="#4f8dca" stroke="none" stroke-width="0" fill-opacity="0.8"/>
<circle cx="171.3" cy="398" r="2.7" fill="#4f8dca" stroke="none" stroke-width="0" fill-opacity="0.8"/>
<circle cx="180.5" cy="396.7" r="2.7" fill="#4f8dca" stroke="none" stroke-width="0" fill-opacity="0.8"/>
<circle cx="162.3" cy="400.1" r="2.7" fill="#4f8dca" stroke="none" stroke-width="0" fill-opacity="0.8"/>
<circle cx="148.2" cy="405.6" r="2.7" fill="#4f8dca" stroke="none" stroke-width="0" fill-opacity="0.8"/>
<circle cx="153.1" cy="403.1" r="2.7" fill="#4f8dca" stroke="none" stroke-width="0" fill-opacity="0.8"/>
<circle cx="157.8" cy="405" r="2.7" fill="#4f8dca" stroke="none" stroke-width="0" fill-opacity="0.8"/>
<circle cx="166.8" cy="406.3" r="2.7" fill="#4f8dca" stroke="none" stroke-width="0" fill-opacity="0.8"/>
<circle cx="153.1" cy="410.1" r="2.7" fill="#4f8dca" stroke="none" stroke-width="0" fill-opacity="0.8"/>
<circle cx="162.1" cy="413.3" r="2.7" fill="#4f8dca" stroke="none" stroke-width="0" fill-opacity="0.8"/>
<circle cx="231.4" cy="373.6" r="2.7" fill="#5f79b0" stroke="none" stroke-width="0" fill-opacity="0.8"/>
<circle cx="240.8" cy="372.3" r="2.7" fill="#5f79b0" stroke="none" stroke-width="0" fill-opacity="0.8"/>
<circle cx="236.5" cy="378.7" r="2.7" fill="#5f79b0" stroke="none" stroke-width="0" fill-opacity="0.8"/>
<circle cx="231.4" cy="381.3" r="2.7" fill="#5f79b0" stroke="none" stroke-width="0" fill-opacity="0.8"/>
<circle cx="240.8" cy="383.5" r="2.7" fill="#5f79b0" stroke="none" stroke-width="0" fill-opacity="0.8"/>
<circle cx="231.4" cy="385.8" r="2.7" fill="#5f79b0" stroke="none" stroke-width="0" fill-opacity="0.8"/>
<circle cx="213.5" cy="389.4" r="2.7" fill="#5f79b0" stroke="none" stroke-width="0" fill-opacity="0.8"/>
<circle cx="222.4" cy="388.6" r="2.7" fill="#5f79b0" stroke="none" stroke-width="0" fill-opacity="0.8"/>
<circle cx="222.4" cy="392.2" r="2.7" fill="#5f79b0" stroke="none" stroke-width="0" fill-opacity="0.8"/>
<circle cx="231.4" cy="390.3" r="2.7" fill="#5f79b0" stroke="none" stroke-width="0" fill-opacity="0.8"/>
<circle cx="240.8" cy="388.3" r="2.7" fill="#5f79b0" stroke="none" stroke-width="0" fill-opacity="0.8"/>
<circle cx="240.8" cy="392.8" r="2.7" fill="#5f79b0" stroke="none" stroke-width="0" fill-opacity="0.8"/>
<circle cx="250" cy="389" r="2.7" fill="#5f79b0" stroke="none" stroke-width="0" fill-opacity="0.8"/>
<circle cx="259" cy="389.9" r="2.7" fill="#5f79b0" stroke="none" stroke-width="0" fill-opacity="0.8"/>
<circle cx="245.5" cy="394.7" r="2.7" fill="#5f79b0" stroke="none" stroke-width="0" fill-opacity="0.8"/>
<circle cx="250" cy="394.1" r="2.7" fill="#5f79b0" stroke="none" stroke-width="0" fill-opacity="0.8"/>
<circle cx="227.2" cy="397.3" r="2.7" fill="#5f79b0" stroke="none" stroke-width="0" fill-opacity="0.8"/>
<circle cx="231.4" cy="400.9" r="2.7" fill="#5f79b0" stroke="none" stroke-width="0" fill-opacity="0.8"/>
<circle cx="240.8" cy="401.2" r="2.7" fill="#5f79b0" stroke="none" stroke-width="0" fill-opacity="0.8"/>
<circle cx="236.5" cy="396.7" r="2.7" fill="#5f79b0" stroke="none" stroke-width="0" fill-opacity="0.8"/>
<circle cx="298.6" cy="375.5" r="2.7" fill="#ef5560" stroke="none" stroke-width="0" fill-opacity="0.8"/>
<circle cx="309.7" cy="373.6" r="2.7" fill="#ef5560" stroke="none" stroke-width="0" fill-opacity="0.8"/>
<circle cx="320.8" cy="373" r="2.7" fill="#ef5560" stroke="none" stroke-width="0" fill-opacity="0.8"/>
<circle cx="309.7" cy="375.5" r="2.7" fill="#ef5560" stroke="none" stroke-width="0" fill-opacity="0.8"/>
<circle cx="320.8" cy="376.2" r="2.7" fill="#ef5560" stroke="none" stroke-width="0" fill-opacity="0.8"/>
<circle cx="331.9" cy="378.1" r="2.7" fill="#ef5560" stroke="none" stroke-width="0" fill-opacity="0.8"/>
<circle cx="331.9" cy="380" r="2.7" fill="#ef5560" stroke="none" stroke-width="0" fill-opacity="0.8"/>
<circle cx="298.6" cy="382.6" r="2.7" fill="#ef5560" stroke="none" stroke-width="0" fill-opacity="0.8"/>
<circle cx="309.7" cy="381.9" r="2.7" fill="#ef5560" stroke="none" stroke-width="0" fill-opacity="0.8"/>
<circle cx="304.4" cy="385.4" r="2.7" fill="#ef5560" stroke="none" stroke-width="0" fill-opacity="0.8"/>
<circle cx="320.8" cy="383.8" r="2.7" fill="#ef5560" stroke="none" stroke-width="0" fill-opacity="0.8"/>
<circle cx="315.3" cy="385.8" r="2.7" fill="#ef5560" stroke="none" stroke-width="0" fill-opacity="0.8"/>
<circle cx="326.4" cy="387.1" r="2.7" fill="#ef5560" stroke="none" stroke-width="0" fill-opacity="0.8"/>
<circle cx="315.3" cy="389" r="2.7" fill="#ef5560" stroke="none" stroke-width="0" fill-opacity="0.8"/>
<circle cx="326.4" cy="390.9" r="2.7" fill="#ef5560" stroke="none" stroke-width="0" fill-opacity="0.8"/>
<circle cx="292.8" cy="391.9" r="2.7" fill="#ef5560" stroke="none" stroke-width="0" fill-opacity="0.8"/>
<circle cx="304.4" cy="391.5" r="2.7" fill="#ef5560" stroke="none" stroke-width="0" fill-opacity="0.8"/>
<circle cx="337.4" cy="393.5" r="2.7" fill="#ef5560" stroke="none" stroke-width="0" fill-opacity="0.8"/>
<circle cx="309.7" cy="396.7" r="2.7" fill="#ef5560" stroke="none" stroke-width="0" fill-opacity="0.8"/>
<circle cx="320.8" cy="395.8" r="2.7" fill="#ef5560" stroke="none" stroke-width="0" fill-opacity="0.8"/>
<circle cx="394" cy="363.3" r="2.7" fill="#ac2b55" stroke="none" stroke-width="0" fill-opacity="0.8"/>
<circle cx="378.2" cy="370.1" r="2.7" fill="#ac2b55" stroke="none" stroke-width="0" fill-opacity="0.8"/>
<circle cx="386.3" cy="369.1" r="2.7" fill="#ac2b55" stroke="none" stroke-width="0" fill-opacity="0.8"/>
<circle cx="390.8" cy="368.5" r="2.7" fill="#ac2b55" stroke="none" stroke-width="0" fill-opacity="0.8"/>
<circle cx="398.2" cy="368.5" r="2.7" fill="#ac2b55" stroke="none" stroke-width="0" fill-opacity="0.8"/>
<circle cx="402.3" cy="370.4" r="2.7" fill="#ac2b55" stroke="none" stroke-width="0" fill-opacity="0.8"/>
<circle cx="370.3" cy="372.7" r="2.7" fill="#ac2b55" stroke="none" stroke-width="0" fill-opacity="0.8"/>
<circle cx="394" cy="373.6" r="2.7" fill="#ac2b55" stroke="none" stroke-width="0" fill-opacity="0.8"/>
<circle cx="402.3" cy="374.9" r="2.7" fill="#ac2b55" stroke="none" stroke-width="0" fill-opacity="0.8"/>
<circle cx="410" cy="374" r="2.7" fill="#ac2b55" stroke="none" stroke-width="0" fill-opacity="0.8"/>
<circle cx="417.7" cy="371.4" r="2.7" fill="#ac2b55" stroke="none" stroke-width="0" fill-opacity="0.8"/>
<circle cx="386.3" cy="379.1" r="2.7" fill="#ac2b55" stroke="none" stroke-width="0" fill-opacity="0.8"/>
<circle cx="394" cy="378.1" r="2.7" fill="#ac2b55" stroke="none" stroke-width="0" fill-opacity="0.8"/>
<circle cx="390.1" cy="383.5" r="2.7" fill="#ac2b55" stroke="none" stroke-width="0" fill-opacity="0.8"/>
<circle cx="398.2" cy="383.8" r="2.7" fill="#ac2b55" stroke="none" stroke-width="0" fill-opacity="0.8"/>
<circle cx="394" cy="385.1" r="2.7" fill="#ac2b55" stroke="none" stroke-width="0" fill-opacity="0.8"/>
<circle cx="382.1" cy="389.6" r="2.7" fill="#ac2b55" stroke="none" stroke-width="0" fill-opacity="0.8"/>
<circle cx="390.1" cy="392.2" r="2.7" fill="#ac2b55" stroke="none" stroke-width="0" fill-opacity="0.8"/>
<circle cx="398.2" cy="393.5" r="2.7" fill="#ac2b55" stroke="none" stroke-width="0" fill-opacity="0.8"/>
<circle cx="405.9" cy="390.9" r="2.7" fill="#ac2b55" stroke="none" stroke-width="0" fill-opacity="0.8"/>
<line x1="78.5" y1="394.4" x2="78.5" y2="400.5" stroke="#5a5a5a" stroke-width="1.1"/>
<line x1="78.5" y1="410.8" x2="78.5" y2="415.5" stroke="#5a5a5a" stroke-width="1.1"/>
<line x1="64.8" y1="394.4" x2="92.2" y2="394.4" stroke="#5a5a5a" stroke-width="1.1"/>
<line x1="64.8" y1="415.5" x2="92.2" y2="415.5" stroke="#5a5a5a" stroke-width="1.1"/>
<rect x="50.4" y="400.5" width="56.2" height="10.3" fill="none" stroke="#5a5a5a" stroke-width="1.1"/>
<line x1="50.4" y1="407.3" x2="106.6" y2="407.3" stroke="#5a5a5a" stroke-width="1.1"/>
<rect x="76.3" y="402.2" width="4.4" height="4.4" fill="#ffffff" stroke="#4a4a4a" stroke-width="0.8" fill-opacity="0.15"/>
<line x1="157.4" y1="383.5" x2="157.4" y2="389" stroke="#3f80c4" stroke-width="1.1"/>
<line x1="157.4" y1="404.4" x2="157.4" y2="413.6" stroke="#3f80c4" stroke-width="1.1"/>
<line x1="143.7" y1="383.5" x2="171.1" y2="383.5" stroke="#3f80c4" stroke-width="1.1"/>
<line x1="143.7" y1="413.6" x2="171.1" y2="413.6" stroke="#3f80c4" stroke-width="1.1"/>
<rect x="129.3" y="389" width="56.2" height="15.4" fill="none" stroke="#3f80c4" stroke-width="1.1"/>
<line x1="129.3" y1="396.3" x2="185.5" y2="396.3" stroke="#3f80c4" stroke-width="1.1"/>
<rect x="155.2" y="394.1" width="4.4" height="4.4" fill="#ffffff" stroke="#4a4a4a" stroke-width="0.8" fill-opacity="0.15"/>
<line x1="236.4" y1="372.9" x2="236.4" y2="385.4" stroke="#5570aa" stroke-width="1.1"/>
<line x1="236.4" y1="395" x2="236.4" y2="401.2" stroke="#5570aa" stroke-width="1.1"/>
<line x1="222.7" y1="372.9" x2="250.1" y2="372.9" stroke="#5570aa" stroke-width="1.1"/>
<line x1="222.7" y1="401.2" x2="250.1" y2="401.2" stroke="#5570aa" stroke-width="1.1"/>
<rect x="208.3" y="385.4" width="56.2" height="9.6" fill="none" stroke="#5570aa" stroke-width="1.1"/>
<line x1="208.3" y1="390.9" x2="264.5" y2="390.9" stroke="#5570aa" stroke-width="1.1"/>
<rect x="234.2" y="387.2" width="4.4" height="4.4" fill="#ffffff" stroke="#4a4a4a" stroke-width="0.8" fill-opacity="0.15"/>
<line x1="315.3" y1="373.3" x2="315.3" y2="377.4" stroke="#ec4450" stroke-width="1.1"/>
<line x1="315.3" y1="391.5" x2="315.3" y2="397.1" stroke="#ec4450" stroke-width="1.1"/>
<line x1="301.6" y1="373.3" x2="329" y2="373.3" stroke="#ec4450" stroke-width="1.1"/>
<line x1="301.6" y1="397.1" x2="329" y2="397.1" stroke="#ec4450" stroke-width="1.1"/>
<rect x="287.2" y="377.4" width="56.2" height="14.1" fill="none" stroke="#ec4450" stroke-width="1.1"/>
<line x1="287.2" y1="385.5" x2="343.4" y2="385.5" stroke="#ec4450" stroke-width="1.1"/>
<rect x="313.1" y="382.5" width="4.4" height="4.4" fill="#ffffff" stroke="#4a4a4a" stroke-width="0.8" fill-opacity="0.15"/>
<line x1="394.2" y1="364.2" x2="394.2" y2="370.6" stroke="#a82452" stroke-width="1.1"/>
<line x1="394.2" y1="384.7" x2="394.2" y2="394.4" stroke="#a82452" stroke-width="1.1"/>
<line x1="380.5" y1="364.2" x2="407.9" y2="364.2" stroke="#a82452" stroke-width="1.1"/>
<line x1="380.5" y1="394.4" x2="407.9" y2="394.4" stroke="#a82452" stroke-width="1.1"/>
<rect x="366.1" y="370.6" width="56.2" height="14.1" fill="none" stroke="#a82452" stroke-width="1.1"/>
<line x1="366.1" y1="374.9" x2="422.3" y2="374.9" stroke="#a82452" stroke-width="1.1"/>
<rect x="392" y="375.9" width="4.4" height="4.4" fill="#ffffff" stroke="#4a4a4a" stroke-width="0.8" fill-opacity="0.15"/>
<rect x="38.9" y="354.2" width="394.9" height="70.1" fill="none" stroke="#000" stroke-width="1.1"/>
<line x1="36.1" y1="354.3" x2="38.9" y2="354.3" stroke="#000" stroke-width="0.9"/>
<text x="33.7" y="357.3" font-size="8.5" text-anchor="end" fill="#000" font-weight="normal">86</text>
<line x1="36.1" y1="374.33" x2="38.9" y2="374.33" stroke="#000" stroke-width="0.9"/>
<text x="33.7" y="377.33" font-size="8.5" text-anchor="end" fill="#000" font-weight="normal">84</text>
<line x1="36.1" y1="394.37" x2="38.9" y2="394.37" stroke="#000" stroke-width="0.9"/>
<text x="33.7" y="397.37" font-size="8.5" text-anchor="end" fill="#000" font-weight="normal">82</text>
<line x1="36.1" y1="414.4" x2="38.9" y2="414.4" stroke="#000" stroke-width="0.9"/>
<text x="33.7" y="417.4" font-size="8.5" text-anchor="end" fill="#000" font-weight="normal">80</text>
<line x1="37.3" y1="364.32" x2="38.9" y2="364.32" stroke="#000" stroke-width="0.9"/>
<line x1="37.3" y1="384.35" x2="38.9" y2="384.35" stroke="#000" stroke-width="0.9"/>
<line x1="37.3" y1="404.38" x2="38.9" y2="404.38" stroke="#000" stroke-width="0.9"/>
<line x1="37.3" y1="424.42" x2="38.9" y2="424.42" stroke="#000" stroke-width="0.9"/>
<circle cx="78.5" cy="467.2" r="2.7" fill="#6b6b6b" stroke="none" stroke-width="0" fill-opacity="0.8"/>
<circle cx="58.6" cy="469.7" r="2.7" fill="#6b6b6b" stroke="none" stroke-width="0" fill-opacity="0.8"/>
<circle cx="63.7" cy="470" r="2.7" fill="#6b6b6b" stroke="none" stroke-width="0" fill-opacity="0.8"/>
<circle cx="68.5" cy="470.8" r="2.7" fill="#6b6b6b" stroke="none" stroke-width="0" fill-opacity="0.8"/>
<circle cx="73.1" cy="470.8" r="2.7" fill="#6b6b6b" stroke="none" stroke-width="0" fill-opacity="0.8"/>
<circle cx="53.5" cy="471.7" r="2.7" fill="#6b6b6b" stroke="none" stroke-width="0" fill-opacity="0.8"/>
<circle cx="99" cy="470.8" r="2.7" fill="#6b6b6b" stroke="none" stroke-width="0" fill-opacity="0.8"/>
<circle cx="103.5" cy="471.7" r="2.7" fill="#6b6b6b" stroke="none" stroke-width="0" fill-opacity="0.8"/>
<circle cx="78.5" cy="472.3" r="2.7" fill="#6b6b6b" stroke="none" stroke-width="0" fill-opacity="0.8"/>
<circle cx="83.6" cy="473.6" r="2.7" fill="#6b6b6b" stroke="none" stroke-width="0" fill-opacity="0.8"/>
<circle cx="88.7" cy="474.2" r="2.7" fill="#6b6b6b" stroke="none" stroke-width="0" fill-opacity="0.8"/>
<circle cx="93.8" cy="475.5" r="2.7" fill="#6b6b6b" stroke="none" stroke-width="0" fill-opacity="0.8"/>
<circle cx="66.3" cy="477.4" r="2.7" fill="#6b6b6b" stroke="none" stroke-width="0" fill-opacity="0.8"/>
<circle cx="71.4" cy="477.2" r="2.7" fill="#6b6b6b" stroke="none" stroke-width="0" fill-opacity="0.8"/>
<circle cx="75.9" cy="478.1" r="2.7" fill="#6b6b6b" stroke="none" stroke-width="0" fill-opacity="0.8"/>
<circle cx="81" cy="476.2" r="2.7" fill="#6b6b6b" stroke="none" stroke-width="0" fill-opacity="0.8"/>
<circle cx="86.2" cy="476.2" r="2.7" fill="#6b6b6b" stroke="none" stroke-width="0" fill-opacity="0.8"/>
<circle cx="70.8" cy="481.9" r="2.7" fill="#6b6b6b" stroke="none" stroke-width="0" fill-opacity="0.8"/>
<circle cx="85.5" cy="481.9" r="2.7" fill="#6b6b6b" stroke="none" stroke-width="0" fill-opacity="0.8"/>
<circle cx="91.3" cy="482.3" r="2.7" fill="#6b6b6b" stroke="none" stroke-width="0" fill-opacity="0.8"/>
<circle cx="75.9" cy="485.4" r="2.7" fill="#6b6b6b" stroke="none" stroke-width="0" fill-opacity="0.8"/>
<circle cx="81" cy="486.4" r="2.7" fill="#6b6b6b" stroke="none" stroke-width="0" fill-opacity="0.8"/>
<circle cx="160.4" cy="454.4" r="2.7" fill="#4f8dca" stroke="none" stroke-width="0" fill-opacity="0.8"/>
<circle cx="154.4" cy="457.6" r="2.7" fill="#4f8dca" stroke="none" stroke-width="0" fill-opacity="0.8"/>
<circle cx="158.5" cy="457.6" r="2.7" fill="#4f8dca" stroke="none" stroke-width="0" fill-opacity="0.8"/>
<circle cx="140.5" cy="461.4" r="2.7" fill="#4f8dca" stroke="none" stroke-width="0" fill-opacity="0.8"/>
<circle cx="146.3" cy="461.4" r="2.7" fill="#4f8dca" stroke="none" stroke-width="0" fill-opacity="0.8"/>
<circle cx="151.4" cy="462.1" r="2.7" fill="#4f8dca" stroke="none" stroke-width="0" fill-opacity="0.8"/>
<circle cx="168.5" cy="460.8" r="2.7" fill="#4f8dca" stroke="none" stroke-width="0" fill-opacity="0.8"/>
<circle cx="173.8" cy="462.7" r="2.7" fill="#4f8dca" stroke="none" stroke-width="0" fill-opacity="0.8"/>
<circle cx="132.2" cy="464" r="2.7" fill="#4f8dca" stroke="none" stroke-width="0" fill-opacity="0.8"/>
<circle cx="138" cy="464" r="2.7" fill="#4f8dca" stroke="none" stroke-width="0" fill-opacity="0.8"/>
<circle cx="143.7" cy="464.4" r="2.7" fill="#4f8dca" stroke="none" stroke-width="0" fill-opacity="0.8"/>
<circle cx="163.6" cy="463.6" r="2.7" fill="#4f8dca" stroke="none" stroke-width="0" fill-opacity="0.8"/>
<circle cx="179" cy="464" r="2.7" fill="#4f8dca" stroke="none" stroke-width="0" fill-opacity="0.8"/>
<circle cx="132.2" cy="469.1" r="2.7" fill="#4f8dca" stroke="none" stroke-width="0" fill-opacity="0.8"/>
<circle cx="143.1" cy="467.8" r="2.7" fill="#4f8dca" stroke="none" stroke-width="0" fill-opacity="0.8"/>
<circle cx="148.8" cy="469.7" r="2.7" fill="#4f8dca" stroke="none" stroke-width="0" fill-opacity="0.8"/>
<circle cx="161" cy="469.1" r="2.7" fill="#4f8dca" stroke="none" stroke-width="0" fill-opacity="0.8"/>
<circle cx="165.5" cy="469.7" r="2.7" fill="#4f8dca" stroke="none" stroke-width="0" fill-opacity="0.8"/>
<circle cx="157.2" cy="475.5" r="2.7" fill="#4f8dca" stroke="none" stroke-width="0" fill-opacity="0.8"/>
<circle cx="234" cy="449.2" r="2.7" fill="#5f79b0" stroke="none" stroke-width="0" fill-opacity="0.8"/>
<circle cx="238.5" cy="447.7" r="2.7" fill="#5f79b0" stroke="none" stroke-width="0" fill-opacity="0.8"/>
<circle cx="215.4" cy="455" r="2.7" fill="#5f79b0" stroke="none" stroke-width="0" fill-opacity="0.8"/>
<circle cx="224.4" cy="454.4" r="2.7" fill="#5f79b0" stroke="none" stroke-width="0" fill-opacity="0.8"/>
<circle cx="229.5" cy="455.6" r="2.7" fill="#5f79b0" stroke="none" stroke-width="0" fill-opacity="0.8"/>
<circle cx="243.6" cy="454.4" r="2.7" fill="#5f79b0" stroke="none" stroke-width="0" fill-opacity="0.8"/>
<circle cx="251.9" cy="455" r="2.7" fill="#5f79b0" stroke="none" stroke-width="0" fill-opacity="0.8"/>
<circle cx="261.5" cy="453.1" r="2.7" fill="#5f79b0" stroke="none" stroke-width="0" fill-opacity="0.8"/>
<circle cx="210.9" cy="456.9" r="2.7" fill="#5f79b0" stroke="none" stroke-width="0" fill-opacity="0.8"/>
<circle cx="219.9" cy="458.8" r="2.7" fill="#5f79b0" stroke="none" stroke-width="0" fill-opacity="0.8"/>
<circle cx="226.9" cy="460.1" r="2.7" fill="#5f79b0" stroke="none" stroke-width="0" fill-opacity="0.8"/>
<circle cx="232" cy="461.4" r="2.7" fill="#5f79b0" stroke="none" stroke-width="0" fill-opacity="0.8"/>
<circle cx="237.2" cy="458.2" r="2.7" fill="#5f79b0" stroke="none" stroke-width="0" fill-opacity="0.8"/>
<circle cx="256.4" cy="458.8" r="2.7" fill="#5f79b0" stroke="none" stroke-width="0" fill-opacity="0.8"/>
<circle cx="236.5" cy="464" r="2.7" fill="#5f79b0" stroke="none" stroke-width="0" fill-opacity="0.8"/>
<circle cx="245.5" cy="464" r="2.7" fill="#5f79b0" stroke="none" stroke-width="0" fill-opacity="0.8"/>
<circle cx="236.5" cy="466.5" r="2.7" fill="#5f79b0" stroke="none" stroke-width="0" fill-opacity="0.8"/>
<circle cx="315.3" cy="446" r="2.7" fill="#ef5560" stroke="none" stroke-width="0" fill-opacity="0.8"/>
<circle cx="299.5" cy="450.5" r="2.7" fill="#ef5560" stroke="none" stroke-width="0" fill-opacity="0.8"/>
<circle cx="307.2" cy="451.8" r="2.7" fill="#ef5560" stroke="none" stroke-width="0" fill-opacity="0.8"/>
<circle cx="322.9" cy="451.2" r="2.7" fill="#ef5560" stroke="none" stroke-width="0" fill-opacity="0.8"/>
<circle cx="331.3" cy="449.2" r="2.7" fill="#ef5560" stroke="none" stroke-width="0" fill-opacity="0.8"/>
<circle cx="291.5" cy="453.1" r="2.7" fill="#ef5560" stroke="none" stroke-width="0" fill-opacity="0.8"/>
<circle cx="299.5" cy="453.7" r="2.7" fill="#ef5560" stroke="none" stroke-width="0" fill-opacity="0.8"/>
<circle cx="307.2" cy="455" r="2.7" fill="#ef5560" stroke="none" stroke-width="0" fill-opacity="0.8"/>
<circle cx="322.9" cy="454.4" r="2.7" fill="#ef5560" stroke="none" stroke-width="0" fill-opacity="0.8"/>
<circle cx="339" cy="455" r="2.7" fill="#ef5560" stroke="none" stroke-width="0" fill-opacity="0.8"/>
<circle cx="307.2" cy="458.8" r="2.7" fill="#ef5560" stroke="none" stroke-width="0" fill-opacity="0.8"/>
<circle cx="315.3" cy="458.2" r="2.7" fill="#ef5560" stroke="none" stroke-width="0" fill-opacity="0.8"/>
<circle cx="322.9" cy="458.8" r="2.7" fill="#ef5560" stroke="none" stroke-width="0" fill-opacity="0.8"/>
<circle cx="331.3" cy="457.6" r="2.7" fill="#ef5560" stroke="none" stroke-width="0" fill-opacity="0.8"/>
<circle cx="331.3" cy="460.1" r="2.7" fill="#ef5560" stroke="none" stroke-width="0" fill-opacity="0.8"/>
<circle cx="339" cy="460.1" r="2.7" fill="#ef5560" stroke="none" stroke-width="0" fill-opacity="0.8"/>
<circle cx="299.5" cy="461.4" r="2.7" fill="#ef5560" stroke="none" stroke-width="0" fill-opacity="0.8"/>
<circle cx="291.5" cy="464.6" r="2.7" fill="#ef5560" stroke="none" stroke-width="0" fill-opacity="0.8"/>
<circle cx="315.3" cy="462" r="2.7" fill="#ef5560" stroke="none" stroke-width="0" fill-opacity="0.8"/>
<circle cx="370" cy="441.1" r="2.7" fill="#ac2b55" stroke="none" stroke-width="0" fill-opacity="0.8"/>
<circle cx="376.8" cy="441.4" r="2.7" fill="#ac2b55" stroke="none" stroke-width="0" fill-opacity="0.8"/>
<circle cx="383.4" cy="440" r="2.7" fill="#ac2b55" stroke="none" stroke-width="0" fill-opacity="0.8"/>
<circle cx="390.5" cy="439.7" r="2.7" fill="#ac2b55" stroke="none" stroke-width="0" fill-opacity="0.8"/>
<circle cx="397.4" cy="439.7" r="2.7" fill="#ac2b55" stroke="none" stroke-width="0" fill-opacity="0.8"/>
<circle cx="404.7" cy="440" r="2.7" fill="#ac2b55" stroke="none" stroke-width="0" fill-opacity="0.8"/>
<circle cx="418.6" cy="441.8" r="2.7" fill="#ac2b55" stroke="none" stroke-width="0" fill-opacity="0.8"/>
<circle cx="397.4" cy="444" r="2.7" fill="#ac2b55" stroke="none" stroke-width="0" fill-opacity="0.8"/>
<circle cx="390.5" cy="447" r="2.7" fill="#ac2b55" stroke="none" stroke-width="0" fill-opacity="0.8"/>
<circle cx="397.4" cy="447" r="2.7" fill="#ac2b55" stroke="none" stroke-width="0" fill-opacity="0.8"/>
<circle cx="411.3" cy="447" r="2.7" fill="#ac2b55" stroke="none" stroke-width="0" fill-opacity="0.8"/>
<circle cx="376.8" cy="451.7" r="2.7" fill="#ac2b55" stroke="none" stroke-width="0" fill-opacity="0.8"/>
<circle cx="383.4" cy="449.9" r="2.7" fill="#ac2b55" stroke="none" stroke-width="0" fill-opacity="0.8"/>
<circle cx="404.7" cy="449.6" r="2.7" fill="#ac2b55" stroke="none" stroke-width="0" fill-opacity="0.8"/>
<circle cx="397.4" cy="452.5" r="2.7" fill="#ac2b55" stroke="none" stroke-width="0" fill-opacity="0.8"/>
<circle cx="390.5" cy="455" r="2.7" fill="#ac2b55" stroke="none" stroke-width="0" fill-opacity="0.8"/>
<line x1="78.5" y1="468.2" x2="78.5" y2="472.3" stroke="#5a5a5a" stroke-width="1.1"/>
<line x1="78.5" y1="480.4" x2="78.5" y2="487.1" stroke="#5a5a5a" stroke-width="1.1"/>
<line x1="64.8" y1="468.2" x2="92.2" y2="468.2" stroke="#5a5a5a" stroke-width="1.1"/>
<line x1="64.8" y1="487.1" x2="92.2" y2="487.1" stroke="#5a5a5a" stroke-width="1.1"/>
<rect x="50.4" y="472.3" width="56.2" height="8.1" fill="none" stroke="#5a5a5a" stroke-width="1.1"/>
<line x1="50.4" y1="475.1" x2="106.6" y2="475.1" stroke="#5a5a5a" stroke-width="1.1"/>
<rect x="76.3" y="474.6" width="4.4" height="4.4" fill="#ffffff" stroke="#4a4a4a" stroke-width="0.8" fill-opacity="0.15"/>
<line x1="157.4" y1="455.3" x2="157.4" y2="462.3" stroke="#3f80c4" stroke-width="1.1"/>
<line x1="157.4" y1="468.2" x2="157.4" y2="476.2" stroke="#3f80c4" stroke-width="1.1"/>
<line x1="143.7" y1="455.3" x2="171.1" y2="455.3" stroke="#3f80c4" stroke-width="1.1"/>
<line x1="143.7" y1="476.2" x2="171.1" y2="476.2" stroke="#3f80c4" stroke-width="1.1"/>
<rect x="129.3" y="462.3" width="56.2" height="5.9" fill="none" stroke="#3f80c4" stroke-width="1.1"/>
<line x1="129.3" y1="465.3" x2="185.5" y2="465.3" stroke="#3f80c4" stroke-width="1.1"/>
<rect x="155.2" y="462.4" width="4.4" height="4.4" fill="#ffffff" stroke="#4a4a4a" stroke-width="0.8" fill-opacity="0.15"/>
<line x1="236.4" y1="449.9" x2="236.4" y2="456" stroke="#5570aa" stroke-width="1.1"/>
<line x1="236.4" y1="460.5" x2="236.4" y2="466.3" stroke="#5570aa" stroke-width="1.1"/>
<line x1="222.7" y1="449.9" x2="250.1" y2="449.9" stroke="#5570aa" stroke-width="1.1"/>
<line x1="222.7" y1="466.3" x2="250.1" y2="466.3" stroke="#5570aa" stroke-width="1.1"/>
<rect x="208.3" y="456" width="56.2" height="4.5" fill="none" stroke="#5570aa" stroke-width="1.1"/>
<line x1="208.3" y1="458.2" x2="264.5" y2="458.2" stroke="#5570aa" stroke-width="1.1"/>
<rect x="234.2" y="455.4" width="4.4" height="4.4" fill="#ffffff" stroke="#4a4a4a" stroke-width="0.8" fill-opacity="0.15"/>
<line x1="315.3" y1="446.4" x2="315.3" y2="452.8" stroke="#ec4450" stroke-width="1.1"/>
<line x1="315.3" y1="459.5" x2="315.3" y2="464.6" stroke="#ec4450" stroke-width="1.1"/>
<line x1="301.6" y1="446.4" x2="329" y2="446.4" stroke="#ec4450" stroke-width="1.1"/>
<line x1="301.6" y1="464.6" x2="329" y2="464.6" stroke="#ec4450" stroke-width="1.1"/>
<rect x="287.2" y="452.8" width="56.2" height="6.7" fill="none" stroke="#ec4450" stroke-width="1.1"/>
<line x1="287.2" y1="456.3" x2="343.4" y2="456.3" stroke="#ec4450" stroke-width="1.1"/>
<rect x="313.1" y="453.4" width="4.4" height="4.4" fill="#ffffff" stroke="#4a4a4a" stroke-width="0.8" fill-opacity="0.15"/>
<line x1="394.2" y1="440" x2="394.2" y2="441.8" stroke="#a82452" stroke-width="1.1"/>
<line x1="394.2" y1="450.2" x2="394.2" y2="455.3" stroke="#a82452" stroke-width="1.1"/>
<line x1="380.5" y1="440" x2="407.9" y2="440" stroke="#a82452" stroke-width="1.1"/>
<line x1="380.5" y1="455.3" x2="407.9" y2="455.3" stroke="#a82452" stroke-width="1.1"/>
<rect x="366.1" y="441.8" width="56.2" height="8.4" fill="none" stroke="#a82452" stroke-width="1.1"/>
<line x1="366.1" y1="444" x2="422.3" y2="444" stroke="#a82452" stroke-width="1.1"/>
<rect x="392" y="443.3" width="4.4" height="4.4" fill="#ffffff" stroke="#4a4a4a" stroke-width="0.8" fill-opacity="0.15"/>
<rect x="38.9" y="429.7" width="394.9" height="70.6" fill="none" stroke="#000" stroke-width="1.1"/>
<line x1="36.1" y1="441.3" x2="38.9" y2="441.3" stroke="#000" stroke-width="0.9"/>
<text x="33.7" y="444.3" font-size="8.5" text-anchor="end" fill="#000" font-weight="normal">26</text>
<line x1="36.1" y1="464.9" x2="38.9" y2="464.9" stroke="#000" stroke-width="0.9"/>
<text x="33.7" y="467.9" font-size="8.5" text-anchor="end" fill="#000" font-weight="normal">24</text>
<line x1="36.1" y1="488.5" x2="38.9" y2="488.5" stroke="#000" stroke-width="0.9"/>
<text x="33.7" y="491.5" font-size="8.5" text-anchor="end" fill="#000" font-weight="normal">22</text>
<line x1="37.3" y1="429.5" x2="38.9" y2="429.5" stroke="#000" stroke-width="0.9"/>
<line x1="37.3" y1="453.1" x2="38.9" y2="453.1" stroke="#000" stroke-width="0.9"/>
<line x1="37.3" y1="476.7" x2="38.9" y2="476.7" stroke="#000" stroke-width="0.9"/>
<line x1="37.3" y1="500.3" x2="38.9" y2="500.3" stroke="#000" stroke-width="0.9"/>
<line x1="78.5" y1="500.3" x2="78.5" y2="503.2" stroke="#000" stroke-width="0.9"/>
<line x1="157.4" y1="500.3" x2="157.4" y2="503.2" stroke="#000" stroke-width="0.9"/>
<line x1="236.4" y1="500.3" x2="236.4" y2="503.2" stroke="#000" stroke-width="0.9"/>
<line x1="315.3" y1="500.3" x2="315.3" y2="503.2" stroke="#000" stroke-width="0.9"/>
<line x1="394.2" y1="500.3" x2="394.2" y2="503.2" stroke="#000" stroke-width="0.9"/>
<text x="80.5" y="518.3" font-size="8.4" text-anchor="middle" fill="#000" font-weight="normal" transform="rotate(-15 80.5 518.3)">Control</text>
<text x="159.4" y="518.3" font-size="8.4" text-anchor="middle" fill="#000" font-weight="normal" transform="rotate(-15 159.4 518.3)">SFX-P2@CB</text>
<text x="238.4" y="518.3" font-size="8.4" text-anchor="middle" fill="#000" font-weight="normal" transform="rotate(-15 238.4 518.3)">SFX-P2@CF</text>
<text x="317.3" y="518.3" font-size="8.4" text-anchor="middle" fill="#000" font-weight="normal" transform="rotate(-15 317.3 518.3)">SFX-P1@CB</text>
<text x="396.2" y="518.3" font-size="8.4" text-anchor="middle" fill="#000" font-weight="normal" transform="rotate(-15 396.2 518.3)">SFX-P1@CF</text>
<text x="6.3" y="234.5" font-size="8.2" text-anchor="middle" transform="rotate(-90 6.3 234.5)"><tspan font-style="italic">V</tspan><tspan font-size="5.6" dy="1.6">OC</tspan><tspan dy="-1.6"> (V)</tspan></text>
<text x="12.4" y="313.4" font-size="8.5" text-anchor="middle" transform="rotate(-90 12.4 313.4)"><tspan font-style="italic">J</tspan><tspan font-size="6.2" dy="1.8">SC</tspan><tspan dy="-1.8"> (mA&#183;cm</tspan><tspan font-size="6.0" dy="-3.2">&#8722;2</tspan><tspan dy="3.2">)</tspan></text>
<text x="10" y="379.8" font-size="8.2" text-anchor="middle" fill="#000" font-weight="normal" transform="rotate(-90 10 379.8)">FF (%)</text>
<text x="11.2" y="458.9" font-size="8.3" text-anchor="middle" fill="#000" font-weight="normal" transform="rotate(-90 11.2 458.9)">PCE (%)</text>
<line x1="483.6" y1="221.3" x2="657.3" y2="221.3" stroke="#5a5a5a" stroke-width="1.2"/>
<circle cx="484.5" cy="221.3" r="2.1" fill="#bcbcbc" stroke="#8c8c8c" stroke-width="0.7"/>
<circle cx="490.6" cy="221.3" r="2.1" fill="#bcbcbc" stroke="#8c8c8c" stroke-width="0.7"/>
<circle cx="496.7" cy="221.3" r="2.1" fill="#bcbcbc" stroke="#8c8c8c" stroke-width="0.7"/>
<circle cx="502.8" cy="221.3" r="2.1" fill="#bcbcbc" stroke="#8c8c8c" stroke-width="0.7"/>
<circle cx="508.9" cy="221.3" r="2.1" fill="#bcbcbc" stroke="#8c8c8c" stroke-width="0.7"/>
<circle cx="515" cy="221.3" r="2.1" fill="#bcbcbc" stroke="#8c8c8c" stroke-width="0.7"/>
<circle cx="521.1" cy="221.3" r="2.1" fill="#bcbcbc" stroke="#8c8c8c" stroke-width="0.7"/>
<circle cx="527.2" cy="221.3" r="2.1" fill="#bcbcbc" stroke="#8c8c8c" stroke-width="0.7"/>
<circle cx="533.3" cy="221.3" r="2.1" fill="#bcbcbc" stroke="#8c8c8c" stroke-width="0.7"/>
<circle cx="539.4" cy="221.3" r="2.1" fill="#bcbcbc" stroke="#8c8c8c" stroke-width="0.7"/>
<circle cx="545.5" cy="221.3" r="2.1" fill="#bcbcbc" stroke="#8c8c8c" stroke-width="0.7"/>
<circle cx="551.6" cy="221.3" r="2.1" fill="#bcbcbc" stroke="#8c8c8c" stroke-width="0.7"/>
<circle cx="557.7" cy="221.3" r="2.1" fill="#bcbcbc" stroke="#8c8c8c" stroke-width="0.7"/>
<circle cx="563.8" cy="221.3" r="2.1" fill="#bcbcbc" stroke="#8c8c8c" stroke-width="0.7"/>
<circle cx="569.9" cy="221.3" r="2.1" fill="#bcbcbc" stroke="#8c8c8c" stroke-width="0.7"/>
<circle cx="576" cy="221.3" r="2.1" fill="#bcbcbc" stroke="#8c8c8c" stroke-width="0.7"/>
<circle cx="582.1" cy="221.3" r="2.1" fill="#bcbcbc" stroke="#8c8c8c" stroke-width="0.7"/>
<circle cx="588.2" cy="221.3" r="2.1" fill="#bcbcbc" stroke="#8c8c8c" stroke-width="0.7"/>
<circle cx="594.3" cy="221.3" r="2.1" fill="#bcbcbc" stroke="#8c8c8c" stroke-width="0.7"/>
<circle cx="600.4" cy="221.3" r="2.1" fill="#bcbcbc" stroke="#8c8c8c" stroke-width="0.7"/>
<circle cx="606.5" cy="221.3" r="2.1" fill="#bcbcbc" stroke="#8c8c8c" stroke-width="0.7"/>
<circle cx="612.6" cy="221.3" r="2.1" fill="#bcbcbc" stroke="#8c8c8c" stroke-width="0.7"/>
<circle cx="618.7" cy="221.3" r="2.1" fill="#bcbcbc" stroke="#8c8c8c" stroke-width="0.7"/>
<circle cx="624.8" cy="221.3" r="2.1" fill="#bcbcbc" stroke="#8c8c8c" stroke-width="0.7"/>
<circle cx="630.9" cy="221.3" r="2.1" fill="#bcbcbc" stroke="#8c8c8c" stroke-width="0.7"/>
<circle cx="637" cy="221.3" r="2.1" fill="#bcbcbc" stroke="#8c8c8c" stroke-width="0.7"/>
<circle cx="643.1" cy="221.3" r="2.1" fill="#bcbcbc" stroke="#8c8c8c" stroke-width="0.7"/>
<circle cx="649.2" cy="221.3" r="2.1" fill="#bcbcbc" stroke="#8c8c8c" stroke-width="0.7"/>
<circle cx="655.3" cy="221.3" r="2.1" fill="#bcbcbc" stroke="#8c8c8c" stroke-width="0.7"/>
<line x1="483.6" y1="215" x2="657.3" y2="215" stroke="#4a6fb2" stroke-width="1.2"/>
<circle cx="484.5" cy="215" r="2.1" fill="#aed2f4" stroke="#6f9bd6" stroke-width="0.7"/>
<circle cx="490.6" cy="215" r="2.1" fill="#aed2f4" stroke="#6f9bd6" stroke-width="0.7"/>
<circle cx="496.7" cy="215" r="2.1" fill="#aed2f4" stroke="#6f9bd6" stroke-width="0.7"/>
<circle cx="502.8" cy="215" r="2.1" fill="#aed2f4" stroke="#6f9bd6" stroke-width="0.7"/>
<circle cx="508.9" cy="215" r="2.1" fill="#aed2f4" stroke="#6f9bd6" stroke-width="0.7"/>
<circle cx="515" cy="215" r="2.1" fill="#aed2f4" stroke="#6f9bd6" stroke-width="0.7"/>
<circle cx="521.1" cy="215" r="2.1" fill="#aed2f4" stroke="#6f9bd6" stroke-width="0.7"/>
<circle cx="527.2" cy="215" r="2.1" fill="#aed2f4" stroke="#6f9bd6" stroke-width="0.7"/>
<circle cx="533.3" cy="215" r="2.1" fill="#aed2f4" stroke="#6f9bd6" stroke-width="0.7"/>
<circle cx="539.4" cy="215" r="2.1" fill="#aed2f4" stroke="#6f9bd6" stroke-width="0.7"/>
<circle cx="545.5" cy="215" r="2.1" fill="#aed2f4" stroke="#6f9bd6" stroke-width="0.7"/>
<circle cx="551.6" cy="215" r="2.1" fill="#aed2f4" stroke="#6f9bd6" stroke-width="0.7"/>
<circle cx="557.7" cy="215" r="2.1" fill="#aed2f4" stroke="#6f9bd6" stroke-width="0.7"/>
<circle cx="563.8" cy="215" r="2.1" fill="#aed2f4" stroke="#6f9bd6" stroke-width="0.7"/>
<circle cx="569.9" cy="215" r="2.1" fill="#aed2f4" stroke="#6f9bd6" stroke-width="0.7"/>
<circle cx="576" cy="215" r="2.1" fill="#aed2f4" stroke="#6f9bd6" stroke-width="0.7"/>
<circle cx="582.1" cy="215" r="2.1" fill="#aed2f4" stroke="#6f9bd6" stroke-width="0.7"/>
<circle cx="588.2" cy="215" r="2.1" fill="#aed2f4" stroke="#6f9bd6" stroke-width="0.7"/>
<circle cx="594.3" cy="215" r="2.1" fill="#aed2f4" stroke="#6f9bd6" stroke-width="0.7"/>
<circle cx="600.4" cy="215" r="2.1" fill="#aed2f4" stroke="#6f9bd6" stroke-width="0.7"/>
<circle cx="606.5" cy="215" r="2.1" fill="#aed2f4" stroke="#6f9bd6" stroke-width="0.7"/>
<circle cx="612.6" cy="215" r="2.1" fill="#aed2f4" stroke="#6f9bd6" stroke-width="0.7"/>
<circle cx="618.7" cy="215" r="2.1" fill="#aed2f4" stroke="#6f9bd6" stroke-width="0.7"/>
<circle cx="624.8" cy="215" r="2.1" fill="#aed2f4" stroke="#6f9bd6" stroke-width="0.7"/>
<circle cx="630.9" cy="215" r="2.1" fill="#aed2f4" stroke="#6f9bd6" stroke-width="0.7"/>
<circle cx="637" cy="215" r="2.1" fill="#aed2f4" stroke="#6f9bd6" stroke-width="0.7"/>
<circle cx="643.1" cy="215" r="2.1" fill="#aed2f4" stroke="#6f9bd6" stroke-width="0.7"/>
<circle cx="649.2" cy="215" r="2.1" fill="#aed2f4" stroke="#6f9bd6" stroke-width="0.7"/>
<circle cx="655.3" cy="215" r="2.1" fill="#aed2f4" stroke="#6f9bd6" stroke-width="0.7"/>
<line x1="483.6" y1="210.4" x2="657.3" y2="210.4" stroke="#ae2149" stroke-width="1.2"/>
<circle cx="484.5" cy="210.4" r="2.1" fill="#f6bcc6" stroke="#cc5572" stroke-width="0.7"/>
<circle cx="490.6" cy="210.4" r="2.1" fill="#f6bcc6" stroke="#cc5572" stroke-width="0.7"/>
<circle cx="496.7" cy="210.4" r="2.1" fill="#f6bcc6" stroke="#cc5572" stroke-width="0.7"/>
<circle cx="502.8" cy="210.4" r="2.1" fill="#f6bcc6" stroke="#cc5572" stroke-width="0.7"/>
<circle cx="508.9" cy="210.4" r="2.1" fill="#f6bcc6" stroke="#cc5572" stroke-width="0.7"/>
<circle cx="515" cy="210.4" r="2.1" fill="#f6bcc6" stroke="#cc5572" stroke-width="0.7"/>
<circle cx="521.1" cy="210.4" r="2.1" fill="#f6bcc6" stroke="#cc5572" stroke-width="0.7"/>
<circle cx="527.2" cy="210.4" r="2.1" fill="#f6bcc6" stroke="#cc5572" stroke-width="0.7"/>
<circle cx="533.3" cy="210.4" r="2.1" fill="#f6bcc6" stroke="#cc5572" stroke-width="0.7"/>
<circle cx="539.4" cy="210.4" r="2.1" fill="#f6bcc6" stroke="#cc5572" stroke-width="0.7"/>
<circle cx="545.5" cy="210.4" r="2.1" fill="#f6bcc6" stroke="#cc5572" stroke-width="0.7"/>
<circle cx="551.6" cy="210.4" r="2.1" fill="#f6bcc6" stroke="#cc5572" stroke-width="0.7"/>
<circle cx="557.7" cy="210.4" r="2.1" fill="#f6bcc6" stroke="#cc5572" stroke-width="0.7"/>
<circle cx="563.8" cy="210.4" r="2.1" fill="#f6bcc6" stroke="#cc5572" stroke-width="0.7"/>
<circle cx="569.9" cy="210.4" r="2.1" fill="#f6bcc6" stroke="#cc5572" stroke-width="0.7"/>
<circle cx="576" cy="210.4" r="2.1" fill="#f6bcc6" stroke="#cc5572" stroke-width="0.7"/>
<circle cx="582.1" cy="210.4" r="2.1" fill="#f6bcc6" stroke="#cc5572" stroke-width="0.7"/>
<circle cx="588.2" cy="210.4" r="2.1" fill="#f6bcc6" stroke="#cc5572" stroke-width="0.7"/>
<circle cx="594.3" cy="210.4" r="2.1" fill="#f6bcc6" stroke="#cc5572" stroke-width="0.7"/>
<circle cx="600.4" cy="210.4" r="2.1" fill="#f6bcc6" stroke="#cc5572" stroke-width="0.7"/>
<circle cx="606.5" cy="210.4" r="2.1" fill="#f6bcc6" stroke="#cc5572" stroke-width="0.7"/>
<circle cx="612.6" cy="210.4" r="2.1" fill="#f6bcc6" stroke="#cc5572" stroke-width="0.7"/>
<circle cx="618.7" cy="210.4" r="2.1" fill="#f6bcc6" stroke="#cc5572" stroke-width="0.7"/>
<circle cx="624.8" cy="210.4" r="2.1" fill="#f6bcc6" stroke="#cc5572" stroke-width="0.7"/>
<circle cx="630.9" cy="210.4" r="2.1" fill="#f6bcc6" stroke="#cc5572" stroke-width="0.7"/>
<circle cx="637" cy="210.4" r="2.1" fill="#f6bcc6" stroke="#cc5572" stroke-width="0.7"/>
<circle cx="643.1" cy="210.4" r="2.1" fill="#f6bcc6" stroke="#cc5572" stroke-width="0.7"/>
<circle cx="649.2" cy="210.4" r="2.1" fill="#f6bcc6" stroke="#cc5572" stroke-width="0.7"/>
<circle cx="655.3" cy="210.4" r="2.1" fill="#f6bcc6" stroke="#cc5572" stroke-width="0.7"/>
<line x1="483.6" y1="302.6" x2="657.3" y2="302.6" stroke="#5a5a5a" stroke-width="1.2"/>
<path d="M484.3 300.1L486.8 302.6L484.3 305.1L481.8 302.6Z" fill="#bcbcbc" stroke="#8c8c8c" stroke-width="0.7"/>
<path d="M490.4 300.1L492.9 302.6L490.4 305.1L487.9 302.6Z" fill="#bcbcbc" stroke="#8c8c8c" stroke-width="0.7"/>
<path d="M496.5 300.1L499 302.6L496.5 305.1L494 302.6Z" fill="#bcbcbc" stroke="#8c8c8c" stroke-width="0.7"/>
<path d="M502.6 300.1L505.1 302.6L502.6 305.1L500.1 302.6Z" fill="#bcbcbc" stroke="#8c8c8c" stroke-width="0.7"/>
<path d="M508.7 300.1L511.2 302.6L508.7 305.1L506.2 302.6Z" fill="#bcbcbc" stroke="#8c8c8c" stroke-width="0.7"/>
<path d="M514.8 300.1L517.3 302.6L514.8 305.1L512.3 302.6Z" fill="#bcbcbc" stroke="#8c8c8c" stroke-width="0.7"/>
<path d="M520.9 300.1L523.4 302.6L520.9 305.1L518.4 302.6Z" fill="#bcbcbc" stroke="#8c8c8c" stroke-width="0.7"/>
<path d="M527 300.1L529.5 302.6L527 305.1L524.5 302.6Z" fill="#bcbcbc" stroke="#8c8c8c" stroke-width="0.7"/>
<path d="M533.1 300.1L535.6 302.6L533.1 305.1L530.6 302.6Z" fill="#bcbcbc" stroke="#8c8c8c" stroke-width="0.7"/>
<path d="M539.2 300.1L541.7 302.6L539.2 305.1L536.7 302.6Z" fill="#bcbcbc" stroke="#8c8c8c" stroke-width="0.7"/>
<path d="M545.3 300.1L547.8 302.6L545.3 305.1L542.8 302.6Z" fill="#bcbcbc" stroke="#8c8c8c" stroke-width="0.7"/>
<path d="M551.4 300.1L553.9 302.6L551.4 305.1L548.9 302.6Z" fill="#bcbcbc" stroke="#8c8c8c" stroke-width="0.7"/>
<path d="M557.5 300.1L560 302.6L557.5 305.1L555 302.6Z" fill="#bcbcbc" stroke="#8c8c8c" stroke-width="0.7"/>
<path d="M563.6 300.1L566.1 302.6L563.6 305.1L561.1 302.6Z" fill="#bcbcbc" stroke="#8c8c8c" stroke-width="0.7"/>
<path d="M569.7 300.1L572.2 302.6L569.7 305.1L567.2 302.6Z" fill="#bcbcbc" stroke="#8c8c8c" stroke-width="0.7"/>
<path d="M575.8 300.1L578.3 302.6L575.8 305.1L573.3 302.6Z" fill="#bcbcbc" stroke="#8c8c8c" stroke-width="0.7"/>
<path d="M581.9 300.1L584.4 302.6L581.9 305.1L579.4 302.6Z" fill="#bcbcbc" stroke="#8c8c8c" stroke-width="0.7"/>
<path d="M588 300.1L590.5 302.6L588 305.1L585.5 302.6Z" fill="#bcbcbc" stroke="#8c8c8c" stroke-width="0.7"/>
<path d="M594.1 300.1L596.6 302.6L594.1 305.1L591.6 302.6Z" fill="#bcbcbc" stroke="#8c8c8c" stroke-width="0.7"/>
<path d="M600.2 300.1L602.7 302.6L600.2 305.1L597.7 302.6Z" fill="#bcbcbc" stroke="#8c8c8c" stroke-width="0.7"/>
<path d="M606.3 300.1L608.8 302.6L606.3 305.1L603.8 302.6Z" fill="#bcbcbc" stroke="#8c8c8c" stroke-width="0.7"/>
<path d="M612.4 300.1L614.9 302.6L612.4 305.1L609.9 302.6Z" fill="#bcbcbc" stroke="#8c8c8c" stroke-width="0.7"/>
<path d="M618.5 300.1L621 302.6L618.5 305.1L616 302.6Z" fill="#bcbcbc" stroke="#8c8c8c" stroke-width="0.7"/>
<path d="M624.6 300.1L627.1 302.6L624.6 305.1L622.1 302.6Z" fill="#bcbcbc" stroke="#8c8c8c" stroke-width="0.7"/>
<path d="M630.7 300.1L633.2 302.6L630.7 305.1L628.2 302.6Z" fill="#bcbcbc" stroke="#8c8c8c" stroke-width="0.7"/>
<path d="M636.8 300.1L639.3 302.6L636.8 305.1L634.3 302.6Z" fill="#bcbcbc" stroke="#8c8c8c" stroke-width="0.7"/>
<path d="M642.9 300.1L645.4 302.6L642.9 305.1L640.4 302.6Z" fill="#bcbcbc" stroke="#8c8c8c" stroke-width="0.7"/>
<path d="M649 300.1L651.5 302.6L649 305.1L646.5 302.6Z" fill="#bcbcbc" stroke="#8c8c8c" stroke-width="0.7"/>
<path d="M655.1 300.1L657.6 302.6L655.1 305.1L652.6 302.6Z" fill="#bcbcbc" stroke="#8c8c8c" stroke-width="0.7"/>
<line x1="483.6" y1="317.8" x2="657.3" y2="317.8" stroke="#4a6fb2" stroke-width="1.2"/>
<path d="M484.3 315.3L486.8 317.8L484.3 320.3L481.8 317.8Z" fill="#aed2f4" stroke="#6f9bd6" stroke-width="0.7"/>
<path d="M490.4 315.3L492.9 317.8L490.4 320.3L487.9 317.8Z" fill="#aed2f4" stroke="#6f9bd6" stroke-width="0.7"/>
<path d="M496.5 315.3L499 317.8L496.5 320.3L494 317.8Z" fill="#aed2f4" stroke="#6f9bd6" stroke-width="0.7"/>
<path d="M502.6 315.3L505.1 317.8L502.6 320.3L500.1 317.8Z" fill="#aed2f4" stroke="#6f9bd6" stroke-width="0.7"/>
<path d="M508.7 315.3L511.2 317.8L508.7 320.3L506.2 317.8Z" fill="#aed2f4" stroke="#6f9bd6" stroke-width="0.7"/>
<path d="M514.8 315.3L517.3 317.8L514.8 320.3L512.3 317.8Z" fill="#aed2f4" stroke="#6f9bd6" stroke-width="0.7"/>
<path d="M520.9 315.3L523.4 317.8L520.9 320.3L518.4 317.8Z" fill="#aed2f4" stroke="#6f9bd6" stroke-width="0.7"/>
<path d="M527 315.3L529.5 317.8L527 320.3L524.5 317.8Z" fill="#aed2f4" stroke="#6f9bd6" stroke-width="0.7"/>
<path d="M533.1 315.3L535.6 317.8L533.1 320.3L530.6 317.8Z" fill="#aed2f4" stroke="#6f9bd6" stroke-width="0.7"/>
<path d="M539.2 315.3L541.7 317.8L539.2 320.3L536.7 317.8Z" fill="#aed2f4" stroke="#6f9bd6" stroke-width="0.7"/>
<path d="M545.3 315.3L547.8 317.8L545.3 320.3L542.8 317.8Z" fill="#aed2f4" stroke="#6f9bd6" stroke-width="0.7"/>
<path d="M551.4 315.3L553.9 317.8L551.4 320.3L548.9 317.8Z" fill="#aed2f4" stroke="#6f9bd6" stroke-width="0.7"/>
<path d="M557.5 315.3L560 317.8L557.5 320.3L555 317.8Z" fill="#aed2f4" stroke="#6f9bd6" stroke-width="0.7"/>
<path d="M563.6 315.3L566.1 317.8L563.6 320.3L561.1 317.8Z" fill="#aed2f4" stroke="#6f9bd6" stroke-width="0.7"/>
<path d="M569.7 315.3L572.2 317.8L569.7 320.3L567.2 317.8Z" fill="#aed2f4" stroke="#6f9bd6" stroke-width="0.7"/>
<path d="M575.8 315.3L578.3 317.8L575.8 320.3L573.3 317.8Z" fill="#aed2f4" stroke="#6f9bd6" stroke-width="0.7"/>
<path d="M581.9 315.3L584.4 317.8L581.9 320.3L579.4 317.8Z" fill="#aed2f4" stroke="#6f9bd6" stroke-width="0.7"/>
<path d="M588 315.3L590.5 317.8L588 320.3L585.5 317.8Z" fill="#aed2f4" stroke="#6f9bd6" stroke-width="0.7"/>
<path d="M594.1 315.3L596.6 317.8L594.1 320.3L591.6 317.8Z" fill="#aed2f4" stroke="#6f9bd6" stroke-width="0.7"/>
<path d="M600.2 315.3L602.7 317.8L600.2 320.3L597.7 317.8Z" fill="#aed2f4" stroke="#6f9bd6" stroke-width="0.7"/>
<path d="M606.3 315.3L608.8 317.8L606.3 320.3L603.8 317.8Z" fill="#aed2f4" stroke="#6f9bd6" stroke-width="0.7"/>
<path d="M612.4 315.3L614.9 317.8L612.4 320.3L609.9 317.8Z" fill="#aed2f4" stroke="#6f9bd6" stroke-width="0.7"/>
<path d="M618.5 315.3L621 317.8L618.5 320.3L616 317.8Z" fill="#aed2f4" stroke="#6f9bd6" stroke-width="0.7"/>
<path d="M624.6 315.3L627.1 317.8L624.6 320.3L622.1 317.8Z" fill="#aed2f4" stroke="#6f9bd6" stroke-width="0.7"/>
<path d="M630.7 315.3L633.2 317.8L630.7 320.3L628.2 317.8Z" fill="#aed2f4" stroke="#6f9bd6" stroke-width="0.7"/>
<path d="M636.8 315.3L639.3 317.8L636.8 320.3L634.3 317.8Z" fill="#aed2f4" stroke="#6f9bd6" stroke-width="0.7"/>
<path d="M642.9 315.3L645.4 317.8L642.9 320.3L640.4 317.8Z" fill="#aed2f4" stroke="#6f9bd6" stroke-width="0.7"/>
<path d="M649 315.3L651.5 317.8L649 320.3L646.5 317.8Z" fill="#aed2f4" stroke="#6f9bd6" stroke-width="0.7"/>
<path d="M655.1 315.3L657.6 317.8L655.1 320.3L652.6 317.8Z" fill="#aed2f4" stroke="#6f9bd6" stroke-width="0.7"/>
<line x1="483.6" y1="326" x2="657.3" y2="326" stroke="#ae2149" stroke-width="1.2"/>
<path d="M484.3 323.5L486.8 326L484.3 328.5L481.8 326Z" fill="#f6bcc6" stroke="#cc5572" stroke-width="0.7"/>
<path d="M490.4 323.5L492.9 326L490.4 328.5L487.9 326Z" fill="#f6bcc6" stroke="#cc5572" stroke-width="0.7"/>
<path d="M496.5 323.5L499 326L496.5 328.5L494 326Z" fill="#f6bcc6" stroke="#cc5572" stroke-width="0.7"/>
<path d="M502.6 323.5L505.1 326L502.6 328.5L500.1 326Z" fill="#f6bcc6" stroke="#cc5572" stroke-width="0.7"/>
<path d="M508.7 323.5L511.2 326L508.7 328.5L506.2 326Z" fill="#f6bcc6" stroke="#cc5572" stroke-width="0.7"/>
<path d="M514.8 323.5L517.3 326L514.8 328.5L512.3 326Z" fill="#f6bcc6" stroke="#cc5572" stroke-width="0.7"/>
<path d="M520.9 323.5L523.4 326L520.9 328.5L518.4 326Z" fill="#f6bcc6" stroke="#cc5572" stroke-width="0.7"/>
<path d="M527 323.5L529.5 326L527 328.5L524.5 326Z" fill="#f6bcc6" stroke="#cc5572" stroke-width="0.7"/>
<path d="M533.1 323.5L535.6 326L533.1 328.5L530.6 326Z" fill="#f6bcc6" stroke="#cc5572" stroke-width="0.7"/>
<path d="M539.2 323.5L541.7 326L539.2 328.5L536.7 326Z" fill="#f6bcc6" stroke="#cc5572" stroke-width="0.7"/>
<path d="M545.3 323.5L547.8 326L545.3 328.5L542.8 326Z" fill="#f6bcc6" stroke="#cc5572" stroke-width="0.7"/>
<path d="M551.4 323.5L553.9 326L551.4 328.5L548.9 326Z" fill="#f6bcc6" stroke="#cc5572" stroke-width="0.7"/>
<path d="M557.5 323.5L560 326L557.5 328.5L555 326Z" fill="#f6bcc6" stroke="#cc5572" stroke-width="0.7"/>
<path d="M563.6 323.5L566.1 326L563.6 328.5L561.1 326Z" fill="#f6bcc6" stroke="#cc5572" stroke-width="0.7"/>
<path d="M569.7 323.5L572.2 326L569.7 328.5L567.2 326Z" fill="#f6bcc6" stroke="#cc5572" stroke-width="0.7"/>
<path d="M575.8 323.5L578.3 326L575.8 328.5L573.3 326Z" fill="#f6bcc6" stroke="#cc5572" stroke-width="0.7"/>
<path d="M581.9 323.5L584.4 326L581.9 328.5L579.4 326Z" fill="#f6bcc6" stroke="#cc5572" stroke-width="0.7"/>
<path d="M588 323.5L590.5 326L588 328.5L585.5 326Z" fill="#f6bcc6" stroke="#cc5572" stroke-width="0.7"/>
<path d="M594.1 323.5L596.6 326L594.1 328.5L591.6 326Z" fill="#f6bcc6" stroke="#cc5572" stroke-width="0.7"/>
<path d="M600.2 323.5L602.7 326L600.2 328.5L597.7 326Z" fill="#f6bcc6" stroke="#cc5572" stroke-width="0.7"/>
<path d="M606.3 323.5L608.8 326L606.3 328.5L603.8 326Z" fill="#f6bcc6" stroke="#cc5572" stroke-width="0.7"/>
<path d="M612.4 323.5L614.9 326L612.4 328.5L609.9 326Z" fill="#f6bcc6" stroke="#cc5572" stroke-width="0.7"/>
<path d="M618.5 323.5L621 326L618.5 328.5L616 326Z" fill="#f6bcc6" stroke="#cc5572" stroke-width="0.7"/>
<path d="M624.6 323.5L627.1 326L624.6 328.5L622.1 326Z" fill="#f6bcc6" stroke="#cc5572" stroke-width="0.7"/>
<path d="M630.7 323.5L633.2 326L630.7 328.5L628.2 326Z" fill="#f6bcc6" stroke="#cc5572" stroke-width="0.7"/>
<path d="M636.8 323.5L639.3 326L636.8 328.5L634.3 326Z" fill="#f6bcc6" stroke="#cc5572" stroke-width="0.7"/>
<path d="M642.9 323.5L645.4 326L642.9 328.5L640.4 326Z" fill="#f6bcc6" stroke="#cc5572" stroke-width="0.7"/>
<path d="M649 323.5L651.5 326L649 328.5L646.5 326Z" fill="#f6bcc6" stroke="#cc5572" stroke-width="0.7"/>
<path d="M655.1 323.5L657.6 326L655.1 328.5L652.6 326Z" fill="#f6bcc6" stroke="#cc5572" stroke-width="0.7"/>
<rect x="483.6" y="192.5" width="174.2" height="139.9" fill="none" stroke="#000" stroke-width="1"/>
<line x1="483.6" y1="332.4" x2="483.6" y2="334.9" stroke="#000" stroke-width="0.9"/>
<text x="483.6" y="343.2" font-size="8" text-anchor="middle" fill="#000" font-weight="normal">0</text>
<line x1="505.38" y1="332.4" x2="505.38" y2="333.9" stroke="#000" stroke-width="0.9"/>
<line x1="527.15" y1="332.4" x2="527.15" y2="334.9" stroke="#000" stroke-width="0.9"/>
<text x="527.15" y="343.2" font-size="8" text-anchor="middle" fill="#000" font-weight="normal">100</text>
<line x1="548.92" y1="332.4" x2="548.92" y2="333.9" stroke="#000" stroke-width="0.9"/>
<line x1="570.7" y1="332.4" x2="570.7" y2="334.9" stroke="#000" stroke-width="0.9"/>
<text x="570.7" y="343.2" font-size="8" text-anchor="middle" fill="#000" font-weight="normal">200</text>
<line x1="592.48" y1="332.4" x2="592.48" y2="333.9" stroke="#000" stroke-width="0.9"/>
<line x1="614.25" y1="332.4" x2="614.25" y2="334.9" stroke="#000" stroke-width="0.9"/>
<text x="614.25" y="343.2" font-size="8" text-anchor="middle" fill="#000" font-weight="normal">300</text>
<line x1="636.02" y1="332.4" x2="636.02" y2="333.9" stroke="#000" stroke-width="0.9"/>
<line x1="657.8" y1="332.4" x2="657.8" y2="334.9" stroke="#000" stroke-width="0.9"/>
<text x="657.8" y="343.2" font-size="8" text-anchor="middle" fill="#000" font-weight="normal">400</text>
<line x1="481.1" y1="332.4" x2="483.6" y2="332.4" stroke="#000" stroke-width="0.9"/>
<text x="479.3" y="335.25" font-size="8" text-anchor="end" fill="#000" font-weight="normal">14</text>
<line x1="657.8" y1="332.4" x2="660.3" y2="332.4" stroke="#000" stroke-width="0.9"/>
<text x="662.6" y="195.35" font-size="8" text-anchor="start" fill="#000" font-weight="normal">14</text>
<line x1="482.1" y1="320.74" x2="483.6" y2="320.74" stroke="#000" stroke-width="0.9"/>
<line x1="657.8" y1="320.74" x2="659.3" y2="320.74" stroke="#000" stroke-width="0.9"/>
<line x1="481.1" y1="309.08" x2="483.6" y2="309.08" stroke="#000" stroke-width="0.9"/>
<text x="479.3" y="311.93" font-size="8" text-anchor="end" fill="#000" font-weight="normal">16</text>
<line x1="657.8" y1="309.08" x2="660.3" y2="309.08" stroke="#000" stroke-width="0.9"/>
<text x="662.6" y="218.67" font-size="8" text-anchor="start" fill="#000" font-weight="normal">16</text>
<line x1="482.1" y1="297.42" x2="483.6" y2="297.42" stroke="#000" stroke-width="0.9"/>
<line x1="657.8" y1="297.42" x2="659.3" y2="297.42" stroke="#000" stroke-width="0.9"/>
<line x1="481.1" y1="285.77" x2="483.6" y2="285.77" stroke="#000" stroke-width="0.9"/>
<text x="479.3" y="288.62" font-size="8" text-anchor="end" fill="#000" font-weight="normal">18</text>
<line x1="657.8" y1="285.77" x2="660.3" y2="285.77" stroke="#000" stroke-width="0.9"/>
<text x="662.6" y="241.98" font-size="8" text-anchor="start" fill="#000" font-weight="normal">18</text>
<line x1="482.1" y1="274.11" x2="483.6" y2="274.11" stroke="#000" stroke-width="0.9"/>
<line x1="657.8" y1="274.11" x2="659.3" y2="274.11" stroke="#000" stroke-width="0.9"/>
<line x1="481.1" y1="262.45" x2="483.6" y2="262.45" stroke="#000" stroke-width="0.9"/>
<text x="479.3" y="265.3" font-size="8" text-anchor="end" fill="#000" font-weight="normal">20</text>
<line x1="657.8" y1="262.45" x2="660.3" y2="262.45" stroke="#000" stroke-width="0.9"/>
<text x="662.6" y="265.3" font-size="8" text-anchor="start" fill="#000" font-weight="normal">20</text>
<line x1="482.1" y1="250.79" x2="483.6" y2="250.79" stroke="#000" stroke-width="0.9"/>
<line x1="657.8" y1="250.79" x2="659.3" y2="250.79" stroke="#000" stroke-width="0.9"/>
<line x1="481.1" y1="239.13" x2="483.6" y2="239.13" stroke="#000" stroke-width="0.9"/>
<text x="479.3" y="241.98" font-size="8" text-anchor="end" fill="#000" font-weight="normal">22</text>
<line x1="657.8" y1="239.13" x2="660.3" y2="239.13" stroke="#000" stroke-width="0.9"/>
<text x="662.6" y="288.62" font-size="8" text-anchor="start" fill="#000" font-weight="normal">22</text>
<line x1="482.1" y1="227.47" x2="483.6" y2="227.47" stroke="#000" stroke-width="0.9"/>
<line x1="657.8" y1="227.47" x2="659.3" y2="227.47" stroke="#000" stroke-width="0.9"/>
<line x1="481.1" y1="215.82" x2="483.6" y2="215.82" stroke="#000" stroke-width="0.9"/>
<text x="479.3" y="218.67" font-size="8" text-anchor="end" fill="#000" font-weight="normal">24</text>
<line x1="657.8" y1="215.82" x2="660.3" y2="215.82" stroke="#000" stroke-width="0.9"/>
<text x="662.6" y="311.93" font-size="8" text-anchor="start" fill="#000" font-weight="normal">24</text>
<line x1="482.1" y1="204.16" x2="483.6" y2="204.16" stroke="#000" stroke-width="0.9"/>
<line x1="657.8" y1="204.16" x2="659.3" y2="204.16" stroke="#000" stroke-width="0.9"/>
<line x1="481.1" y1="192.5" x2="483.6" y2="192.5" stroke="#000" stroke-width="0.9"/>
<text x="479.3" y="195.35" font-size="8" text-anchor="end" fill="#000" font-weight="normal">26</text>
<line x1="657.8" y1="192.5" x2="660.3" y2="192.5" stroke="#000" stroke-width="0.9"/>
<text x="662.6" y="335.25" font-size="8" text-anchor="start" fill="#000" font-weight="normal">26</text>
<text x="568.9" y="353.9" font-size="7.9" text-anchor="middle" fill="#000" font-weight="normal">Time (s)</text>
<text x="462.1" y="262.7" font-size="8.0" text-anchor="middle" transform="rotate(-90 462.1 262.7)">Current density (mA&#183;cm<tspan dy="-2.6" font-size="5.2">&#8722;2</tspan><tspan dy="2.6">)</tspan></text>
<text x="684.3" y="263.2" font-size="8.1" text-anchor="middle" fill="#000" font-weight="normal" transform="rotate(-90 684.3 263.2)">PCE (%)</text>
<line x1="499.6" y1="235.4" x2="515.4" y2="235.4" stroke="#5a5a5a" stroke-width="1.3"/>
<circle cx="507.5" cy="235.4" r="2.3" fill="#bcbcbc" stroke="#8c8c8c" stroke-width="0.7"/>
<text x="517.7" y="237.95" font-size="7.15" text-anchor="start" fill="#000" font-weight="normal">Control PSC</text>
<line x1="499.6" y1="244.1" x2="515.4" y2="244.1" stroke="#4a6fb2" stroke-width="1.3"/>
<circle cx="507.5" cy="244.1" r="2.3" fill="#aed2f4" stroke="#6f9bd6" stroke-width="0.7"/>
<text x="517.7" y="246.65" font-size="7.15" text-anchor="start" fill="#000" font-weight="normal">SFX-P2 PSC</text>
<line x1="499.6" y1="252.8" x2="515.4" y2="252.8" stroke="#ae2149" stroke-width="1.3"/>
<circle cx="507.5" cy="252.8" r="2.3" fill="#f6bcc6" stroke="#cc5572" stroke-width="0.7"/>
<text x="517.7" y="255.35" font-size="7.15" text-anchor="start" fill="#000" font-weight="normal">SFX-P1 PSC</text>
<line x1="583.4" y1="267.4" x2="598.3" y2="267.4" stroke="#5a5a5a" stroke-width="1.3"/>
<path d="M590.9 264.7L593.6 267.4L590.9 270.1L588.2 267.4Z" fill="#bcbcbc" stroke="#8c8c8c" stroke-width="0.7"/>
<text x="601.4" y="269.95" font-size="7.15" text-anchor="start" fill="#000" font-weight="normal">Control PSC</text>
<line x1="583.4" y1="276.3" x2="598.3" y2="276.3" stroke="#4a6fb2" stroke-width="1.3"/>
<path d="M590.9 273.6L593.6 276.3L590.9 279L588.2 276.3Z" fill="#aed2f4" stroke="#6f9bd6" stroke-width="0.7"/>
<text x="601.4" y="278.85" font-size="7.15" text-anchor="start" fill="#000" font-weight="normal">SFX-P2 PSC</text>
<line x1="583.4" y1="285.1" x2="598.3" y2="285.1" stroke="#ae2149" stroke-width="1.3"/>
<path d="M590.9 282.4L593.6 285.1L590.9 287.8L588.2 285.1Z" fill="#f6bcc6" stroke="#cc5572" stroke-width="0.7"/>
<text x="601.4" y="287.65" font-size="7.15" text-anchor="start" fill="#000" font-weight="normal">SFX-P1 PSC</text>
<ellipse cx="519.4" cy="209.9" rx="5.4" ry="10.9" fill="none" stroke="#111" stroke-width="0.8"/>
<line x1="494" y1="203.3" x2="512.8" y2="203.3" stroke="#111" stroke-width="0.8"/>
<path d="M488.8 203.3 L494.6 201.4 L493.6 203.3 L494.6 205.2 Z" fill="#111"/>
<ellipse cx="609.7" cy="309.4" rx="5.6" ry="10.3" fill="none" stroke="#111" stroke-width="0.8"/>
<line x1="617" y1="309" x2="635.5" y2="309" stroke="#222" stroke-width="0.75"/>
<path d="M640.5 309 L634.7 307.1 L635.7 309 L634.7 310.9 Z" fill="#111"/>
<text x="448" y="190.1" font-size="16.5" text-anchor="start" fill="#333333" font-weight="bold">d</text>
<clipPath id="cp4"><rect x="483.6" y="373.2" width="173.9" height="140.4"/></clipPath><g clip-path="url(#cp4)">
<polyline points="483.6,381.6 484.32,381.6 485.05,381.6 485.77,381.6 486.5,381.6 487.22,381.6 487.95,381.6 488.67,381.6 489.39,381.6 490.12,381.6 490.84,381.6 491.57,381.6 492.29,381.6 493.02,381.6 493.74,381.6 494.46,381.6 495.19,381.6 495.91,381.61 496.64,381.61 497.36,381.61 498.09,381.61 498.81,381.61 499.53,381.61 500.26,381.61 500.98,381.61 501.71,381.61 502.43,381.61 503.16,381.61 503.88,381.61 504.6,381.62 505.33,381.62 506.05,381.62 506.78,381.62 507.5,381.62 508.23,381.62 508.95,381.62 509.67,381.62 510.4,381.63 511.12,381.63 511.85,381.63 512.57,381.63 513.29,381.63 514.02,381.63 514.74,381.63 515.47,381.64 516.19,381.64 516.92,381.64 517.64,381.64 518.36,381.64 519.09,381.64 519.81,381.65 520.54,381.65 521.26,381.65 521.99,381.65 522.71,381.65 523.43,381.66 524.16,381.66 524.88,381.66 525.61,381.66 526.33,381.66 527.06,381.67 527.78,381.67 528.5,381.67 529.23,381.67 529.95,381.68 530.68,381.68 531.4,381.68 532.13,381.68 532.85,381.69 533.57,381.69 534.3,381.69 535.02,381.69 535.75,381.7 536.47,381.7 537.2,381.7 537.92,381.7 538.64,381.71 539.37,381.71 540.09,381.71 540.82,381.71 541.54,381.72 542.27,381.72 542.99,381.72 543.71,381.73 544.44,381.73 545.16,381.73 545.89,381.73 546.61,381.74 547.34,381.74 548.06,381.74 548.78,381.75 549.51,381.75 550.23,381.75 550.96,381.76 551.68,381.76 552.41,381.76 553.13,381.77 553.85,381.77 554.58,381.77 555.3,381.78 556.03,381.78 556.75,381.78 557.48,381.79 558.2,381.79 558.92,381.79 559.65,381.8 560.37,381.8 561.1,381.81 561.82,381.81 562.55,381.82 563.27,381.82 563.99,381.83 564.72,381.83 565.44,381.84 566.17,381.85 566.89,381.85 567.62,381.86 568.34,381.87 569.06,381.88 569.79,381.89 570.51,381.9 571.24,381.91 571.96,381.92 572.68,381.93 573.41,381.94 574.13,381.95 574.86,381.97 575.58,381.98 576.31,381.99 577.03,382 577.75,382.02 578.48,382.03 579.2,382.05 579.93,382.06 580.65,382.08 581.38,382.09 582.1,382.11 582.82,382.12 583.55,382.14 584.27,382.16 585,382.17 585.72,382.19 586.45,382.21 587.17,382.23 587.89,382.25 588.62,382.27 589.34,382.28 590.07,382.3 590.79,382.32 591.52,382.34 592.24,382.36 592.96,382.38 593.69,382.41 594.41,382.43 595.14,382.45 595.86,382.47 596.59,382.49 597.31,382.51 598.03,382.54 598.76,382.56 599.48,382.58 600.21,382.61 600.93,382.63 601.66,382.66 602.38,382.68 603.1,382.71 603.83,382.74 604.55,382.77 605.28,382.8 606,382.83 606.73,382.86 607.45,382.9 608.17,382.94 608.9,382.98 609.62,383.02 610.35,383.07 611.07,383.12 611.8,383.17 612.52,383.22 613.24,383.28 613.97,383.34 614.69,383.41 615.42,383.47 616.14,383.54 616.87,383.62 617.59,383.7 618.31,383.81 619.04,383.96 619.76,384.14 620.49,384.33 621.21,384.53 621.94,384.73 622.66,384.95 623.38,385.19 624.11,385.43 624.83,385.69 625.56,385.96 626.28,386.23 627.01,386.51 627.73,386.82 628.45,387.15 629.18,387.52 629.9,387.94 630.63,388.44 631.35,389.01 632.07,389.63 632.8,390.31 633.52,391.02 634.25,391.77 634.97,392.57 635.7,393.44 636.42,394.4 637.14,395.48 637.87,396.7 638.59,398.16 639.32,399.87 640.04,401.79 640.77,403.86 641.49,406.06 642.21,408.39 642.94,410.96 643.66,413.74 644.39,416.73 645.11,419.93 645.84,423.33 646.56,426.97 647.28,430.9 648.01,435.13 648.73,439.7 649.46,444.63 650.18,450.05 650.91,456.37 651.63,463.37 652.35,470.73 653.08,478.14 653.8,485.29 654.53,492.31 655.25,499.37 655.98,506.47 656.7,513.6" fill="none" stroke="#ae2149" stroke-width="1.3" stroke-linejoin="round"/>
<circle cx="481.3" cy="381.6" r="2.1" fill="#f7c4cc" stroke="#cc5572" stroke-width="0.7"/>
<circle cx="485.31" cy="381.6" r="2.1" fill="#f7c4cc" stroke="#cc5572" stroke-width="0.7"/>
<circle cx="489.32" cy="381.6" r="2.1" fill="#f7c4cc" stroke="#cc5572" stroke-width="0.7"/>
<circle cx="493.33" cy="381.6" r="2.1" fill="#f7c4cc" stroke="#cc5572" stroke-width="0.7"/>
<circle cx="497.34" cy="381.61" r="2.1" fill="#f7c4cc" stroke="#cc5572" stroke-width="0.7"/>
<circle cx="501.35" cy="381.61" r="2.1" fill="#f7c4cc" stroke="#cc5572" stroke-width="0.7"/>
<circle cx="505.36" cy="381.62" r="2.1" fill="#f7c4cc" stroke="#cc5572" stroke-width="0.7"/>
<circle cx="509.37" cy="381.62" r="2.1" fill="#f7c4cc" stroke="#cc5572" stroke-width="0.7"/>
<circle cx="513.38" cy="381.63" r="2.1" fill="#f7c4cc" stroke="#cc5572" stroke-width="0.7"/>
<circle cx="517.39" cy="381.64" r="2.1" fill="#f7c4cc" stroke="#cc5572" stroke-width="0.7"/>
<circle cx="521.4" cy="381.65" r="2.1" fill="#f7c4cc" stroke="#cc5572" stroke-width="0.7"/>
<circle cx="525.41" cy="381.66" r="2.1" fill="#f7c4cc" stroke="#cc5572" stroke-width="0.7"/>
<circle cx="529.42" cy="381.67" r="2.1" fill="#f7c4cc" stroke="#cc5572" stroke-width="0.7"/>
<circle cx="533.43" cy="381.69" r="2.1" fill="#f7c4cc" stroke="#cc5572" stroke-width="0.7"/>
<circle cx="537.44" cy="381.7" r="2.1" fill="#f7c4cc" stroke="#cc5572" stroke-width="0.7"/>
<circle cx="541.45" cy="381.72" r="2.1" fill="#f7c4cc" stroke="#cc5572" stroke-width="0.7"/>
<circle cx="545.46" cy="381.73" r="2.1" fill="#f7c4cc" stroke="#cc5572" stroke-width="0.7"/>
<circle cx="549.47" cy="381.75" r="2.1" fill="#f7c4cc" stroke="#cc5572" stroke-width="0.7"/>
<circle cx="553.48" cy="381.77" r="2.1" fill="#f7c4cc" stroke="#cc5572" stroke-width="0.7"/>
<circle cx="557.49" cy="381.79" r="2.1" fill="#f7c4cc" stroke="#cc5572" stroke-width="0.7"/>
<circle cx="561.5" cy="381.81" r="2.1" fill="#f7c4cc" stroke="#cc5572" stroke-width="0.7"/>
<circle cx="565.51" cy="381.84" r="2.1" fill="#f7c4cc" stroke="#cc5572" stroke-width="0.7"/>
<circle cx="569.52" cy="381.89" r="2.1" fill="#f7c4cc" stroke="#cc5572" stroke-width="0.7"/>
<circle cx="573.53" cy="381.94" r="2.1" fill="#f7c4cc" stroke="#cc5572" stroke-width="0.7"/>
<circle cx="577.54" cy="382.01" r="2.1" fill="#f7c4cc" stroke="#cc5572" stroke-width="0.7"/>
<circle cx="581.55" cy="382.1" r="2.1" fill="#f7c4cc" stroke="#cc5572" stroke-width="0.7"/>
<circle cx="585.56" cy="382.19" r="2.1" fill="#f7c4cc" stroke="#cc5572" stroke-width="0.7"/>
<circle cx="589.57" cy="382.29" r="2.1" fill="#f7c4cc" stroke="#cc5572" stroke-width="0.7"/>
<circle cx="593.58" cy="382.4" r="2.1" fill="#f7c4cc" stroke="#cc5572" stroke-width="0.7"/>
<circle cx="597.59" cy="382.52" r="2.1" fill="#f7c4cc" stroke="#cc5572" stroke-width="0.7"/>
<circle cx="601.6" cy="382.65" r="2.1" fill="#f7c4cc" stroke="#cc5572" stroke-width="0.7"/>
<circle cx="605.61" cy="382.81" r="2.1" fill="#f7c4cc" stroke="#cc5572" stroke-width="0.7"/>
<circle cx="609.62" cy="383.02" r="2.1" fill="#f7c4cc" stroke="#cc5572" stroke-width="0.7"/>
<circle cx="613.63" cy="383.31" r="2.1" fill="#f7c4cc" stroke="#cc5572" stroke-width="0.7"/>
<circle cx="617.6" cy="383.7" r="2.1" fill="#f7c4cc" stroke="#cc5572" stroke-width="0.7"/>
<circle cx="621.1" cy="384.5" r="2.1" fill="#f7c4cc" stroke="#cc5572" stroke-width="0.7"/>
<circle cx="625.4" cy="385.9" r="2.1" fill="#f7c4cc" stroke="#cc5572" stroke-width="0.7"/>
<circle cx="629.5" cy="387.7" r="2.1" fill="#f7c4cc" stroke="#cc5572" stroke-width="0.7"/>
<circle cx="633.7" cy="391.2" r="2.1" fill="#f7c4cc" stroke="#cc5572" stroke-width="0.7"/>
<circle cx="637.7" cy="396.4" r="2.1" fill="#f7c4cc" stroke="#cc5572" stroke-width="0.7"/>
<circle cx="641.6" cy="406.4" r="2.1" fill="#f7c4cc" stroke="#cc5572" stroke-width="0.7"/>
<circle cx="645.6" cy="422.2" r="2.1" fill="#f7c4cc" stroke="#cc5572" stroke-width="0.7"/>
<circle cx="649.8" cy="447.1" r="2.1" fill="#f7c4cc" stroke="#cc5572" stroke-width="0.7"/>
<circle cx="653.7" cy="484.3" r="2.1" fill="#f7c4cc" stroke="#cc5572" stroke-width="0.7"/>
<polyline points="483.6,381.6 484.32,381.6 485.03,381.6 485.75,381.6 486.47,381.6 487.18,381.6 487.9,381.61 488.62,381.61 489.33,381.61 490.05,381.61 490.77,381.62 491.48,381.62 492.2,381.62 492.92,381.63 493.63,381.63 494.35,381.63 495.07,381.64 495.78,381.64 496.5,381.65 497.22,381.65 497.93,381.66 498.65,381.66 499.37,381.67 500.08,381.67 500.8,381.68 501.52,381.69 502.24,381.69 502.95,381.7 503.67,381.71 504.39,381.71 505.1,381.72 505.82,381.73 506.54,381.74 507.25,381.74 507.97,381.75 508.69,381.76 509.4,381.77 510.12,381.78 510.84,381.78 511.55,381.79 512.27,381.8 512.99,381.81 513.7,381.82 514.42,381.83 515.14,381.84 515.85,381.85 516.57,381.86 517.29,381.86 518,381.87 518.72,381.88 519.44,381.89 520.15,381.9 520.87,381.91 521.59,381.92 522.3,381.93 523.02,381.95 523.74,381.96 524.45,381.97 525.17,381.99 525.89,382 526.6,382.02 527.32,382.04 528.04,382.06 528.75,382.07 529.47,382.09 530.19,382.11 530.9,382.13 531.62,382.15 532.34,382.17 533.05,382.2 533.77,382.22 534.49,382.24 535.21,382.27 535.92,382.29 536.64,382.31 537.36,382.34 538.07,382.36 538.79,382.39 539.51,382.42 540.22,382.44 540.94,382.47 541.66,382.5 542.37,382.53 543.09,382.56 543.81,382.58 544.52,382.61 545.24,382.64 545.96,382.67 546.67,382.7 547.39,382.73 548.11,382.76 548.82,382.8 549.54,382.83 550.26,382.86 550.97,382.89 551.69,382.92 552.41,382.95 553.12,382.99 553.84,383.02 554.56,383.05 555.27,383.08 555.99,383.12 556.71,383.15 557.42,383.18 558.14,383.21 558.86,383.25 559.57,383.28 560.29,383.31 561.01,383.35 561.72,383.38 562.44,383.41 563.16,383.45 563.87,383.48 564.59,383.52 565.31,383.56 566.02,383.59 566.74,383.63 567.46,383.67 568.17,383.7 568.89,383.74 569.61,383.78 570.33,383.82 571.04,383.86 571.76,383.9 572.48,383.94 573.19,383.98 573.91,384.02 574.63,384.07 575.34,384.11 576.06,384.15 576.78,384.2 577.49,384.24 578.21,384.29 578.93,384.33 579.64,384.38 580.36,384.43 581.08,384.48 581.79,384.52 582.51,384.57 583.23,384.62 583.94,384.67 584.66,384.73 585.38,384.78 586.09,384.83 586.81,384.88 587.53,384.94 588.24,384.99 588.96,385.05 589.68,385.1 590.39,385.16 591.11,385.22 591.83,385.28 592.54,385.34 593.26,385.4 593.98,385.46 594.69,385.52 595.41,385.58 596.13,385.64 596.84,385.71 597.56,385.77 598.28,385.84 598.99,385.91 599.71,385.97 600.43,386.04 601.14,386.11 601.86,386.18 602.58,386.25 603.29,386.32 604.01,386.39 604.73,386.46 605.45,386.53 606.16,386.61 606.88,386.69 607.6,386.76 608.31,386.85 609.03,386.93 609.75,387.02 610.46,387.1 611.18,387.2 611.9,387.29 612.61,387.39 613.33,387.49 614.05,387.6 614.76,387.71 615.48,387.83 616.2,387.95 616.91,388.07 617.63,388.2 618.35,388.33 619.06,388.47 619.78,388.62 620.5,388.77 621.21,388.93 621.93,389.09 622.65,389.26 623.36,389.46 624.08,389.71 624.8,390.02 625.51,390.35 626.23,390.71 626.95,391.07 627.66,391.44 628.38,391.82 629.1,392.23 629.81,392.67 630.53,393.13 631.25,393.63 631.96,394.16 632.68,394.72 633.4,395.33 634.11,396.01 634.83,396.78 635.55,397.69 636.26,398.82 636.98,400.13 637.7,401.59 638.42,403.15 639.13,404.77 639.85,406.46 640.57,408.27 641.28,410.23 642,412.38 642.72,414.76 643.43,417.42 644.15,420.58 644.87,424.27 645.58,428.37 646.3,432.77 647.02,437.36 647.73,442.05 648.45,446.95 649.17,452.12 649.88,457.65 650.6,463.58 651.32,469.98 652.03,476.95 652.75,484.9 653.47,493.79 654.18,503.42 654.9,513.6" fill="none" stroke="#4a6fb2" stroke-width="1.3" stroke-linejoin="round"/>
<circle cx="483.3" cy="381.6" r="2.1" fill="#aed2f4" stroke="#6f9bd6" stroke-width="0.7"/>
<circle cx="487.41" cy="381.6" r="2.1" fill="#aed2f4" stroke="#6f9bd6" stroke-width="0.7"/>
<circle cx="491.52" cy="381.62" r="2.1" fill="#aed2f4" stroke="#6f9bd6" stroke-width="0.7"/>
<circle cx="495.63" cy="381.64" r="2.1" fill="#aed2f4" stroke="#6f9bd6" stroke-width="0.7"/>
<circle cx="499.74" cy="381.67" r="2.1" fill="#aed2f4" stroke="#6f9bd6" stroke-width="0.7"/>
<circle cx="503.85" cy="381.71" r="2.1" fill="#aed2f4" stroke="#6f9bd6" stroke-width="0.7"/>
<circle cx="507.96" cy="381.75" r="2.1" fill="#aed2f4" stroke="#6f9bd6" stroke-width="0.7"/>
<circle cx="512.07" cy="381.8" r="2.1" fill="#aed2f4" stroke="#6f9bd6" stroke-width="0.7"/>
<circle cx="516.18" cy="381.85" r="2.1" fill="#aed2f4" stroke="#6f9bd6" stroke-width="0.7"/>
<circle cx="520.29" cy="381.9" r="2.1" fill="#aed2f4" stroke="#6f9bd6" stroke-width="0.7"/>
<circle cx="524.4" cy="381.97" r="2.1" fill="#aed2f4" stroke="#6f9bd6" stroke-width="0.7"/>
<circle cx="528.51" cy="382.07" r="2.1" fill="#aed2f4" stroke="#6f9bd6" stroke-width="0.7"/>
<circle cx="532.62" cy="382.18" r="2.1" fill="#aed2f4" stroke="#6f9bd6" stroke-width="0.7"/>
<circle cx="536.73" cy="382.32" r="2.1" fill="#aed2f4" stroke="#6f9bd6" stroke-width="0.7"/>
<circle cx="540.84" cy="382.47" r="2.1" fill="#aed2f4" stroke="#6f9bd6" stroke-width="0.7"/>
<circle cx="544.95" cy="382.63" r="2.1" fill="#aed2f4" stroke="#6f9bd6" stroke-width="0.7"/>
<circle cx="549.06" cy="382.81" r="2.1" fill="#aed2f4" stroke="#6f9bd6" stroke-width="0.7"/>
<circle cx="553.17" cy="382.99" r="2.1" fill="#aed2f4" stroke="#6f9bd6" stroke-width="0.7"/>
<circle cx="557.28" cy="383.17" r="2.1" fill="#aed2f4" stroke="#6f9bd6" stroke-width="0.7"/>
<circle cx="561.39" cy="383.36" r="2.1" fill="#aed2f4" stroke="#6f9bd6" stroke-width="0.7"/>
<circle cx="565.5" cy="383.57" r="2.1" fill="#aed2f4" stroke="#6f9bd6" stroke-width="0.7"/>
<circle cx="569.61" cy="383.78" r="2.1" fill="#aed2f4" stroke="#6f9bd6" stroke-width="0.7"/>
<circle cx="573.72" cy="384.01" r="2.1" fill="#aed2f4" stroke="#6f9bd6" stroke-width="0.7"/>
<circle cx="577.83" cy="384.26" r="2.1" fill="#aed2f4" stroke="#6f9bd6" stroke-width="0.7"/>
<circle cx="581.94" cy="384.53" r="2.1" fill="#aed2f4" stroke="#6f9bd6" stroke-width="0.7"/>
<circle cx="586.05" cy="384.83" r="2.1" fill="#aed2f4" stroke="#6f9bd6" stroke-width="0.7"/>
<circle cx="590.16" cy="385.14" r="2.1" fill="#aed2f4" stroke="#6f9bd6" stroke-width="0.7"/>
<circle cx="594.27" cy="385.48" r="2.1" fill="#aed2f4" stroke="#6f9bd6" stroke-width="0.7"/>
<circle cx="598.38" cy="385.85" r="2.1" fill="#aed2f4" stroke="#6f9bd6" stroke-width="0.7"/>
<circle cx="602.49" cy="386.24" r="2.1" fill="#aed2f4" stroke="#6f9bd6" stroke-width="0.7"/>
<circle cx="606.6" cy="386.66" r="2.1" fill="#aed2f4" stroke="#6f9bd6" stroke-width="0.7"/>
<circle cx="610.71" cy="387.14" r="2.1" fill="#aed2f4" stroke="#6f9bd6" stroke-width="0.7"/>
<circle cx="614.82" cy="387.72" r="2.1" fill="#aed2f4" stroke="#6f9bd6" stroke-width="0.7"/>
<circle cx="618.93" cy="388.45" r="2.1" fill="#aed2f4" stroke="#6f9bd6" stroke-width="0.7"/>
<circle cx="622.8" cy="389.3" r="2.1" fill="#aed2f4" stroke="#6f9bd6" stroke-width="0.7"/>
<circle cx="627.2" cy="391.2" r="2.1" fill="#aed2f4" stroke="#6f9bd6" stroke-width="0.7"/>
<circle cx="631.2" cy="393.6" r="2.1" fill="#aed2f4" stroke="#6f9bd6" stroke-width="0.7"/>
<circle cx="635.1" cy="397.1" r="2.1" fill="#aed2f4" stroke="#6f9bd6" stroke-width="0.7"/>
<circle cx="639.1" cy="404.7" r="2.1" fill="#aed2f4" stroke="#6f9bd6" stroke-width="0.7"/>
<circle cx="643.3" cy="416.9" r="2.1" fill="#aed2f4" stroke="#6f9bd6" stroke-width="0.7"/>
<circle cx="647.5" cy="440.51" r="2.1" fill="#aed2f4" stroke="#6f9bd6" stroke-width="0.7"/>
<circle cx="651.8" cy="474.6" r="2.1" fill="#aed2f4" stroke="#6f9bd6" stroke-width="0.7"/>
</g>
<rect x="483.6" y="373.2" width="173.9" height="140.4" fill="none" stroke="#000" stroke-width="1"/>
<line x1="483.6" y1="513.6" x2="483.6" y2="516.1" stroke="#000" stroke-width="0.9"/>
<text x="483.6" y="523.6" font-size="8" text-anchor="middle" fill="#000" font-weight="normal">0.0</text>
<line x1="498.09" y1="513.6" x2="498.09" y2="515.1" stroke="#000" stroke-width="0.9"/>
<line x1="512.58" y1="513.6" x2="512.58" y2="516.1" stroke="#000" stroke-width="0.9"/>
<text x="512.58" y="523.6" font-size="8" text-anchor="middle" fill="#000" font-weight="normal">0.2</text>
<line x1="527.08" y1="513.6" x2="527.08" y2="515.1" stroke="#000" stroke-width="0.9"/>
<line x1="541.57" y1="513.6" x2="541.57" y2="516.1" stroke="#000" stroke-width="0.9"/>
<text x="541.57" y="523.6" font-size="8" text-anchor="middle" fill="#000" font-weight="normal">0.4</text>
<line x1="556.06" y1="513.6" x2="556.06" y2="515.1" stroke="#000" stroke-width="0.9"/>
<line x1="570.55" y1="513.6" x2="570.55" y2="516.1" stroke="#000" stroke-width="0.9"/>
<text x="570.55" y="523.6" font-size="8" text-anchor="middle" fill="#000" font-weight="normal">0.6</text>
<line x1="585.04" y1="513.6" x2="585.04" y2="515.1" stroke="#000" stroke-width="0.9"/>
<line x1="599.53" y1="513.6" x2="599.53" y2="516.1" stroke="#000" stroke-width="0.9"/>
<text x="599.53" y="523.6" font-size="8" text-anchor="middle" fill="#000" font-weight="normal">0.8</text>
<line x1="614.02" y1="513.6" x2="614.02" y2="515.1" stroke="#000" stroke-width="0.9"/>
<line x1="628.52" y1="513.6" x2="628.52" y2="516.1" stroke="#000" stroke-width="0.9"/>
<text x="628.52" y="523.6" font-size="8" text-anchor="middle" fill="#000" font-weight="normal">1.0</text>
<line x1="643.01" y1="513.6" x2="643.01" y2="515.1" stroke="#000" stroke-width="0.9"/>
<line x1="657.5" y1="513.6" x2="657.5" y2="516.1" stroke="#000" stroke-width="0.9"/>
<text x="657.5" y="523.6" font-size="8" text-anchor="middle" fill="#000" font-weight="normal">1.2</text>
<line x1="481.1" y1="513.6" x2="483.6" y2="513.6" stroke="#000" stroke-width="0.9"/>
<text x="479.3" y="516.45" font-size="8" text-anchor="end" fill="#000" font-weight="normal">0</text>
<line x1="482.1" y1="500.57" x2="483.6" y2="500.57" stroke="#000" stroke-width="0.9"/>
<line x1="481.1" y1="487.54" x2="483.6" y2="487.54" stroke="#000" stroke-width="0.9"/>
<text x="479.3" y="490.39" font-size="8" text-anchor="end" fill="#000" font-weight="normal">5</text>
<line x1="482.1" y1="474.51" x2="483.6" y2="474.51" stroke="#000" stroke-width="0.9"/>
<line x1="481.1" y1="461.48" x2="483.6" y2="461.48" stroke="#000" stroke-width="0.9"/>
<text x="479.3" y="464.33" font-size="8" text-anchor="end" fill="#000" font-weight="normal">10</text>
<line x1="482.1" y1="448.45" x2="483.6" y2="448.45" stroke="#000" stroke-width="0.9"/>
<line x1="481.1" y1="435.42" x2="483.6" y2="435.42" stroke="#000" stroke-width="0.9"/>
<text x="479.3" y="438.27" font-size="8" text-anchor="end" fill="#000" font-weight="normal">15</text>
<line x1="482.1" y1="422.39" x2="483.6" y2="422.39" stroke="#000" stroke-width="0.9"/>
<line x1="481.1" y1="409.36" x2="483.6" y2="409.36" stroke="#000" stroke-width="0.9"/>
<text x="479.3" y="412.21" font-size="8" text-anchor="end" fill="#000" font-weight="normal">20</text>
<line x1="482.1" y1="396.33" x2="483.6" y2="396.33" stroke="#000" stroke-width="0.9"/>
<line x1="481.1" y1="383.3" x2="483.6" y2="383.3" stroke="#000" stroke-width="0.9"/>
<text x="479.3" y="386.15" font-size="8" text-anchor="end" fill="#000" font-weight="normal">25</text>
<text x="570" y="534.7" font-size="8.2" text-anchor="middle" fill="#000" font-weight="normal">Voltage (V)</text>
<text x="462.2" y="444.9" font-size="8.0" text-anchor="middle" transform="rotate(-90 462.2 444.9)">Current density (mA&#183;cm<tspan dy="-2.5" font-size="5">&#8722;2</tspan><tspan dy="2.5">)</tspan></text>
<line x1="565.1" y1="406.4" x2="580.9" y2="406.4" stroke="#ae2149" stroke-width="1.3"/>
<circle cx="573" cy="406.4" r="2.3" fill="#f7c4cc" stroke="#cc5572" stroke-width="0.7"/>
<text x="583.8" y="409" font-size="7.1" text-anchor="start" fill="#000" font-weight="normal">Reverse scan</text>
<line x1="565.1" y1="415.4" x2="580.9" y2="415.4" stroke="#4a6fb2" stroke-width="1.3"/>
<circle cx="573" cy="415.4" r="2.3" fill="#aed2f4" stroke="#6f9bd6" stroke-width="0.7"/>
<text x="583.8" y="418" font-size="7.1" text-anchor="start" fill="#000" font-weight="normal">Forward scan</text>
<text x="502" y="414.5" font-size="8.5">1.0 cm<tspan font-size="5.6" dy="-3.2">2</tspan><tspan dy="3.2"> PSC</tspan></text>
<defs>
<linearGradient id="gold" x1="0" y1="0" x2="1" y2="0">
<stop offset="0" stop-color="#f9de78"/><stop offset="0.5" stop-color="#f7d478"/><stop offset="0.8" stop-color="#eeb662"/><stop offset="1" stop-color="#e4a455"/></linearGradient>
<linearGradient id="goldh" x1="0" y1="0" x2="1" y2="0">
<stop offset="0" stop-color="#f0d060"/><stop offset="0.55" stop-color="#e4ac54"/><stop offset="1" stop-color="#d9ae60"/></linearGradient>
<linearGradient id="goldv" x1="0" y1="0" x2="0" y2="1">
<stop offset="0" stop-color="#dcae58"/><stop offset="0.5" stop-color="#d6a652"/><stop offset="1" stop-color="#dcb05c"/></linearGradient>
<linearGradient id="bg" x1="0" y1="0" x2="1" y2="1">
<stop offset="0" stop-color="#e8cfa0"/><stop offset="0.5" stop-color="#efdab4"/><stop offset="1" stop-color="#e8d2a8"/></linearGradient>
<linearGradient id="ruler" x1="0" y1="0" x2="1" y2="0">
<stop offset="0" stop-color="#9a8a68"/><stop offset="1" stop-color="#a49474"/></linearGradient>
<linearGradient id="refl" x1="0" y1="0" x2="0" y2="1">
<stop offset="0" stop-color="#ebe0cc" stop-opacity="0.9"/><stop offset="1" stop-color="#ffffff" stop-opacity="0"/></linearGradient>
<linearGradient id="refl2" x1="0" y1="0" x2="0" y2="1">
<stop offset="0" stop-color="#d2ccc0" stop-opacity="0.9"/><stop offset="1" stop-color="#ffffff" stop-opacity="0"/></linearGradient>
</defs>
<rect x="526.6" y="486" width="49.2" height="15.5" fill="url(#refl)"/>
<rect x="575.8" y="485.6" width="28" height="15.5" fill="url(#refl2)"/>
<path d="M528.8 428.8 H576 V486 H528.8 Q526.4 486 526.4 483.6 V431.2 Q526.4 428.8 528.8 428.8 Z" fill="url(#bg)"/>
<rect x="529.3" y="434.6" width="42.8" height="46.6" rx="1" fill="#d2bf9a" opacity="0.85"/>
<path d="M575.7 428.8 H601.2 L604.1 431.7 V483.1 Q604.1 485.6 601.6 485.6 H575.7 Z" fill="url(#ruler)"/>
<path d="M575.7 430.20H581.70 M575.7 432.39H581.70 M575.7 434.58H584.30 M575.7 436.77H581.70 M575.7 438.96H581.70 M575.7 441.15H581.70 M575.7 443.34H581.70 M575.7 445.53H584.30 M575.7 447.72H581.70 M575.7 449.91H581.70 M575.7 452.10H581.70 M575.7 454.29H581.70 M575.7 456.48H584.30 M575.7 458.67H581.70 M575.7 460.86H581.70 M575.7 463.05H581.70 M575.7 465.24H581.70 M575.7 467.43H584.30 M575.7 469.62H581.70 M575.7 471.81H581.70 M575.7 474.00H581.70 M575.7 476.19H581.70 M575.7 478.38H584.30 M575.7 480.57H581.70 M575.7 482.76H581.70" stroke="#3a3122" stroke-width="0.65" fill="none" opacity="0.85"/>
<line x1="576.4" y1="435.6" x2="587.4" y2="435.6" stroke="#2a2418" stroke-width="0.7"/>
<path d="M588.6 435.60 L586.2 434.40 L586.2 436.80 Z" fill="#2a2418"/>
<line x1="576.4" y1="457.6" x2="587.4" y2="457.6" stroke="#2a2418" stroke-width="0.7"/>
<path d="M588.6 457.60 L586.2 456.40 L586.2 458.80 Z" fill="#2a2418"/>
<line x1="584.4" y1="479.6" x2="587.4" y2="479.6" stroke="#2a2418" stroke-width="0.7"/>
<path d="M588.6 479.60 L586.2 478.40 L586.2 480.80 Z" fill="#2a2418"/>
<text x="596.4" y="436.20" font-size="14.2" font-weight="bold" fill="#14110b" text-anchor="middle" transform="rotate(-90 596.4 436.20)" dy="5.1">3</text>
<text x="596.4" y="458.00" font-size="14.2" font-weight="bold" fill="#14110b" text-anchor="middle" transform="rotate(-90 596.4 458.00)" dy="5.1">2</text>
<text x="596.4" y="479.10" font-size="14.2" font-weight="bold" fill="#14110b" text-anchor="middle" transform="rotate(-90 596.4 479.10)" dy="5.1">1</text>
<rect x="530.9" y="436.8" width="39.5" height="41.9" fill="#7a6340"/>
<rect x="539.4" y="436.8" width="31.0" height="4.7" fill="url(#goldh)"/>
<rect x="566.1" y="436.8" width="4.3" height="41.9" fill="url(#goldv)"/>
<rect x="539.4" y="473.0" width="31.0" height="5.7" fill="url(#goldh)"/>
<rect x="539.0" y="445.3" width="22.8" height="23.4" fill="url(#gold)"/>
<rect x="530.9" y="446.3" width="4.7" height="22.4" fill="#f5d872"/>
<rect x="535.4" y="455.2" width="3.8" height="3.9" fill="#f5d670"/>
<text x="448.5" y="380" font-size="16.5" text-anchor="start" fill="#333333" font-weight="bold">e</text>
</svg></body></html>
